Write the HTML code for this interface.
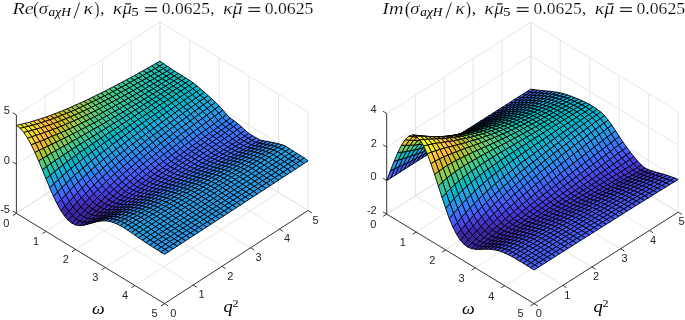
<!DOCTYPE html>
<html><head><meta charset="utf-8"><style>
html,body{margin:0;padding:0;background:#fff;font-family:"Liberation Sans",sans-serif;}
body{width:685px;height:320px;overflow:hidden;position:relative;}
svg{position:absolute;left:0;top:0;will-change:transform;}
</style></head><body>
<svg width="685" height="320" viewBox="0 0 685 320">
<g stroke="#dcdcdc" stroke-width="0.7">
<line x1="16.40" y1="213.30" x2="160.00" y2="120.20"/>
<line x1="16.40" y1="213.30" x2="164.50" y2="303.60"/>
<line x1="160.00" y1="120.20" x2="160.00" y2="21.90"/>
<line x1="16.40" y1="213.30" x2="16.40" y2="115.00"/>
<line x1="46.02" y1="231.36" x2="189.62" y2="138.26"/>
<line x1="45.12" y1="194.68" x2="193.22" y2="284.98"/>
<line x1="189.62" y1="138.26" x2="189.62" y2="39.96"/>
<line x1="45.12" y1="194.68" x2="45.12" y2="96.38"/>
<line x1="75.64" y1="249.42" x2="219.24" y2="156.32"/>
<line x1="73.84" y1="176.06" x2="221.94" y2="266.36"/>
<line x1="219.24" y1="156.32" x2="219.24" y2="58.02"/>
<line x1="73.84" y1="176.06" x2="73.84" y2="77.76"/>
<line x1="105.26" y1="267.48" x2="248.86" y2="174.38"/>
<line x1="102.56" y1="157.44" x2="250.66" y2="247.74"/>
<line x1="248.86" y1="174.38" x2="248.86" y2="76.08"/>
<line x1="102.56" y1="157.44" x2="102.56" y2="59.14"/>
<line x1="134.88" y1="285.54" x2="278.48" y2="192.44"/>
<line x1="131.28" y1="138.82" x2="279.38" y2="229.12"/>
<line x1="278.48" y1="192.44" x2="278.48" y2="94.14"/>
<line x1="131.28" y1="138.82" x2="131.28" y2="40.52"/>
<line x1="164.50" y1="303.60" x2="308.10" y2="210.50"/>
<line x1="160.00" y1="120.20" x2="308.10" y2="210.50"/>
<line x1="308.10" y1="210.50" x2="308.10" y2="112.20"/>
<line x1="160.00" y1="120.20" x2="160.00" y2="21.90"/>
<line x1="16.40" y1="213.30" x2="160.00" y2="120.20"/>
<line x1="160.00" y1="120.20" x2="308.10" y2="210.50"/>
<line x1="16.40" y1="164.15" x2="160.00" y2="71.05"/>
<line x1="160.00" y1="71.05" x2="308.10" y2="161.35"/>
<line x1="16.40" y1="115.00" x2="160.00" y2="21.90"/>
<line x1="160.00" y1="21.90" x2="308.10" y2="112.20"/>
<line x1="386.70" y1="214.10" x2="530.80" y2="122.70"/>
<line x1="386.70" y1="214.10" x2="534.10" y2="303.60"/>
<line x1="530.80" y1="122.70" x2="530.80" y2="22.08"/>
<line x1="386.70" y1="214.10" x2="386.70" y2="113.48"/>
<line x1="416.18" y1="232.00" x2="560.28" y2="140.60"/>
<line x1="415.52" y1="195.82" x2="562.92" y2="285.32"/>
<line x1="560.28" y1="140.60" x2="560.28" y2="39.98"/>
<line x1="415.52" y1="195.82" x2="415.52" y2="95.20"/>
<line x1="445.66" y1="249.90" x2="589.76" y2="158.50"/>
<line x1="444.34" y1="177.54" x2="591.74" y2="267.04"/>
<line x1="589.76" y1="158.50" x2="589.76" y2="57.88"/>
<line x1="444.34" y1="177.54" x2="444.34" y2="76.92"/>
<line x1="475.14" y1="267.80" x2="619.24" y2="176.40"/>
<line x1="473.16" y1="159.26" x2="620.56" y2="248.76"/>
<line x1="619.24" y1="176.40" x2="619.24" y2="75.78"/>
<line x1="473.16" y1="159.26" x2="473.16" y2="58.64"/>
<line x1="504.62" y1="285.70" x2="648.72" y2="194.30"/>
<line x1="501.98" y1="140.98" x2="649.38" y2="230.48"/>
<line x1="648.72" y1="194.30" x2="648.72" y2="93.68"/>
<line x1="501.98" y1="140.98" x2="501.98" y2="40.36"/>
<line x1="534.10" y1="303.60" x2="678.20" y2="212.20"/>
<line x1="530.80" y1="122.70" x2="678.20" y2="212.20"/>
<line x1="678.20" y1="212.20" x2="678.20" y2="111.58"/>
<line x1="530.80" y1="122.70" x2="530.80" y2="22.08"/>
<line x1="386.70" y1="214.10" x2="530.80" y2="122.70"/>
<line x1="530.80" y1="122.70" x2="678.20" y2="212.20"/>
<line x1="386.70" y1="180.56" x2="530.80" y2="89.16"/>
<line x1="530.80" y1="89.16" x2="678.20" y2="178.66"/>
<line x1="386.70" y1="147.02" x2="530.80" y2="55.62"/>
<line x1="530.80" y1="55.62" x2="678.20" y2="145.12"/>
<line x1="386.70" y1="113.48" x2="530.80" y2="22.08"/>
<line x1="530.80" y1="22.08" x2="678.20" y2="111.58"/>
</g>
<g stroke="#000" stroke-width="0.9" stroke-linejoin="round">
<polygon points="155.8,63.5 159.5,66.1 163.7,63.7 160.0,61.1" fill="#19bfb6"/>
<polygon points="159.5,66.1 163.2,68.7 167.4,66.3 163.7,63.7" fill="#19bfb6"/>
<polygon points="151.6,65.9 155.3,68.6 159.5,66.1 155.8,63.5" fill="#24c1ae"/>
<polygon points="163.2,68.7 166.9,71.3 171.1,68.8 167.4,66.3" fill="#0bbdbd"/>
<polygon points="155.3,68.6 159.0,71.2 163.2,68.7 159.5,66.1" fill="#19bfb6"/>
<polygon points="147.3,68.3 151.0,70.9 155.3,68.6 151.6,65.9" fill="#24c1ae"/>
<polygon points="166.9,71.3 170.6,73.7 174.8,71.2 171.1,68.8" fill="#0bbdbd"/>
<polygon points="159.0,71.2 162.7,73.7 166.9,71.3 163.2,68.7" fill="#19bfb6"/>
<polygon points="151.0,70.9 154.7,73.6 159.0,71.2 155.3,68.6" fill="#24c1ae"/>
<polygon points="170.6,73.7 174.3,76.0 178.5,73.5 174.8,71.2" fill="#0bbdbd"/>
<polygon points="143.1,70.7 146.8,73.3 151.0,70.9 147.3,68.3" fill="#24c1ae"/>
<polygon points="162.7,73.7 166.4,76.2 170.6,73.7 166.9,71.3" fill="#19bfb6"/>
<polygon points="154.7,73.6 158.4,76.2 162.7,73.7 159.0,71.2" fill="#19bfb6"/>
<polygon points="174.3,76.0 178.0,78.4 182.2,75.8 178.5,73.5" fill="#0bbdbd"/>
<polygon points="146.8,73.3 150.5,76.0 154.7,73.6 151.0,70.9" fill="#24c1ae"/>
<polygon points="166.4,76.2 170.1,78.6 174.3,76.0 170.6,73.7" fill="#0bbdbd"/>
<polygon points="138.9,73.0 142.6,75.7 146.8,73.3 143.1,70.7" fill="#2cc4a7"/>
<polygon points="158.4,76.2 162.1,78.7 166.4,76.2 162.7,73.7" fill="#19bfb6"/>
<polygon points="150.5,76.0 154.2,78.6 158.4,76.2 154.7,73.6" fill="#24c1ae"/>
<polygon points="178.0,78.4 181.7,80.7 185.9,78.1 182.2,75.8" fill="#0bbdbd"/>
<polygon points="170.1,78.6 173.8,81.0 178.0,78.4 174.3,76.0" fill="#0bbdbd"/>
<polygon points="142.6,75.7 146.3,78.4 150.5,76.0 146.8,73.3" fill="#24c1ae"/>
<polygon points="162.1,78.7 165.8,81.1 170.1,78.6 166.4,76.2" fill="#19bfb6"/>
<polygon points="134.7,75.4 138.4,78.0 142.6,75.7 138.9,73.0" fill="#2cc4a7"/>
<polygon points="154.2,78.6 157.9,81.2 162.1,78.7 158.4,76.2" fill="#19bfb6"/>
<polygon points="181.7,80.7 185.4,83.1 189.6,80.4 185.9,78.1" fill="#0bbdbd"/>
<polygon points="173.8,81.0 177.5,83.3 181.7,80.7 178.0,78.4" fill="#0bbdbd"/>
<polygon points="146.3,78.4 150.0,81.0 154.2,78.6 150.5,76.0" fill="#24c1ae"/>
<polygon points="165.8,81.1 169.5,83.6 173.8,81.0 170.1,78.6" fill="#0bbdbd"/>
<polygon points="138.4,78.0 142.1,80.7 146.3,78.4 142.6,75.7" fill="#2cc4a7"/>
<polygon points="157.9,81.2 161.6,83.7 165.8,81.1 162.1,78.7" fill="#19bfb6"/>
<polygon points="185.4,83.1 189.1,85.7 193.3,83.0 189.6,80.4" fill="#0bbdbd"/>
<polygon points="130.4,77.7 134.1,80.3 138.4,78.0 134.7,75.4" fill="#31c69f"/>
<polygon points="150.0,81.0 153.7,83.7 157.9,81.2 154.2,78.6" fill="#19bfb6"/>
<polygon points="177.5,83.3 181.2,85.8 185.4,83.1 181.7,80.7" fill="#0bbdbd"/>
<polygon points="169.5,83.6 173.2,86.0 177.5,83.3 173.8,81.0" fill="#0bbdbd"/>
<polygon points="142.1,80.7 145.8,83.5 150.0,81.0 146.3,78.4" fill="#24c1ae"/>
<polygon points="189.1,85.7 192.8,88.7 197.0,85.9 193.3,83.0" fill="#02bac3"/>
<polygon points="161.6,83.7 165.3,86.2 169.5,83.6 165.8,81.1" fill="#19bfb6"/>
<polygon points="134.1,80.3 137.8,83.1 142.1,80.7 138.4,78.0" fill="#2cc4a7"/>
<polygon points="153.7,83.7 157.4,86.2 161.6,83.7 157.9,81.2" fill="#19bfb6"/>
<polygon points="181.2,85.8 184.9,88.4 189.1,85.7 185.4,83.1" fill="#0bbdbd"/>
<polygon points="173.2,86.0 176.9,88.5 181.2,85.8 177.5,83.3" fill="#0bbdbd"/>
<polygon points="145.8,83.5 149.5,86.1 153.7,83.7 150.0,81.0" fill="#24c1ae"/>
<polygon points="126.2,79.9 129.9,82.6 134.1,80.3 130.4,77.7" fill="#31c69f"/>
<polygon points="192.8,88.7 196.5,91.9 200.7,89.1 197.0,85.9" fill="#01b8ca"/>
<polygon points="165.3,86.2 169.0,88.7 173.2,86.0 169.5,83.6" fill="#0bbdbd"/>
<polygon points="137.8,83.1 141.5,85.9 145.8,83.5 142.1,80.7" fill="#2cc4a7"/>
<polygon points="184.9,88.4 188.6,91.5 192.8,88.7 189.1,85.7" fill="#02bac3"/>
<polygon points="157.4,86.2 161.1,88.8 165.3,86.2 161.6,83.7" fill="#19bfb6"/>
<polygon points="196.5,91.9 200.2,95.2 204.4,92.3 200.7,89.1" fill="#08b5d0"/>
<polygon points="176.9,88.5 180.7,91.2 184.9,88.4 181.2,85.8" fill="#0bbdbd"/>
<polygon points="129.9,82.6 133.6,85.4 137.8,83.1 134.1,80.3" fill="#31c69f"/>
<polygon points="149.5,86.1 153.2,88.8 157.4,86.2 153.7,83.7" fill="#19bfb6"/>
<polygon points="169.0,88.7 172.7,91.2 176.9,88.5 173.2,86.0" fill="#0bbdbd"/>
<polygon points="188.6,91.5 192.3,94.8 196.5,91.9 192.8,88.7" fill="#01b8ca"/>
<polygon points="141.5,85.9 145.2,88.6 149.5,86.1 145.8,83.5" fill="#24c1ae"/>
<polygon points="122.0,82.2 125.7,84.9 129.9,82.6 126.2,79.9" fill="#37c897"/>
<polygon points="161.1,88.8 164.8,91.3 169.0,88.7 165.3,86.2" fill="#0bbdbd"/>
<polygon points="200.2,95.2 203.9,98.5 208.1,95.6 204.4,92.3" fill="#12b1d6"/>
<polygon points="180.7,91.2 184.4,94.3 188.6,91.5 184.9,88.4" fill="#02bac3"/>
<polygon points="133.6,85.4 137.3,88.3 141.5,85.9 137.8,83.1" fill="#2cc4a7"/>
<polygon points="153.2,88.8 156.9,91.4 161.1,88.8 157.4,86.2" fill="#19bfb6"/>
<polygon points="192.3,94.8 196.0,98.1 200.2,95.2 196.5,91.9" fill="#08b5d0"/>
<polygon points="172.7,91.2 176.4,94.0 180.7,91.2 176.9,88.5" fill="#0bbdbd"/>
<polygon points="145.2,88.6 148.9,91.3 153.2,88.8 149.5,86.1" fill="#24c1ae"/>
<polygon points="125.7,84.9 129.4,87.8 133.6,85.4 129.9,82.6" fill="#31c69f"/>
<polygon points="203.9,98.5 207.6,101.9 211.8,98.9 208.1,95.6" fill="#18addb"/>
<polygon points="164.8,91.3 168.5,93.9 172.7,91.2 169.0,88.7" fill="#0bbdbd"/>
<polygon points="184.4,94.3 188.1,97.6 192.3,94.8 188.6,91.5" fill="#01b8ca"/>
<polygon points="137.3,88.3 141.0,91.1 145.2,88.6 141.5,85.9" fill="#2cc4a7"/>
<polygon points="196.0,98.1 199.7,101.4 203.9,98.5 200.2,95.2" fill="#12b1d6"/>
<polygon points="117.8,84.4 121.5,87.2 125.7,84.9 122.0,82.2" fill="#37c897"/>
<polygon points="156.9,91.4 160.6,94.0 164.8,91.3 161.1,88.8" fill="#19bfb6"/>
<polygon points="207.6,101.9 211.3,105.4 215.5,102.4 211.8,98.9" fill="#1ca9df"/>
<polygon points="176.4,94.0 180.1,97.1 184.4,94.3 180.7,91.2" fill="#02bac3"/>
<polygon points="129.4,87.8 133.1,90.7 137.3,88.3 133.6,85.4" fill="#31c69f"/>
<polygon points="148.9,91.3 152.7,94.0 156.9,91.4 153.2,88.8" fill="#19bfb6"/>
<polygon points="188.1,97.6 191.8,101.0 196.0,98.1 192.3,94.8" fill="#08b5d0"/>
<polygon points="168.5,93.9 172.2,96.8 176.4,94.0 172.7,91.2" fill="#0bbdbd"/>
<polygon points="199.7,101.4 203.4,104.9 207.6,101.9 203.9,98.5" fill="#18addb"/>
<polygon points="141.0,91.1 144.7,93.8 148.9,91.3 145.2,88.6" fill="#24c1ae"/>
<polygon points="211.3,105.4 215.0,109.1 219.2,106.0 215.5,102.4" fill="#20a5e3"/>
<polygon points="121.5,87.2 125.2,90.1 129.4,87.8 125.7,84.9" fill="#37c897"/>
<polygon points="180.1,97.1 183.8,100.5 188.1,97.6 184.4,94.3" fill="#01b8ca"/>
<polygon points="160.6,94.0 164.3,96.7 168.5,93.9 164.8,91.3" fill="#0bbdbd"/>
<polygon points="191.8,101.0 195.5,104.4 199.7,101.4 196.0,98.1" fill="#12b1d6"/>
<polygon points="133.1,90.7 136.8,93.5 141.0,91.1 137.3,88.3" fill="#2cc4a7"/>
<polygon points="152.7,94.0 156.4,96.7 160.6,94.0 156.9,91.4" fill="#19bfb6"/>
<polygon points="203.4,104.9 207.1,108.5 211.3,105.4 207.6,101.9" fill="#1ca9df"/>
<polygon points="113.5,86.7 117.2,89.4 121.5,87.2 117.8,84.4" fill="#3fca8e"/>
<polygon points="215.0,109.1 218.7,113.2 222.9,110.1 219.2,106.0" fill="#259be8"/>
<polygon points="172.2,96.8 175.9,100.0 180.1,97.1 176.4,94.0" fill="#02bac3"/>
<polygon points="183.8,100.5 187.5,104.0 191.8,101.0 188.1,97.6" fill="#08b5d0"/>
<polygon points="144.7,93.8 148.4,96.6 152.7,94.0 148.9,91.3" fill="#19bfb6"/>
<polygon points="125.2,90.1 128.9,93.0 133.1,90.7 129.4,87.8" fill="#31c69f"/>
<polygon points="164.3,96.7 168.0,99.6 172.2,96.8 168.5,93.9" fill="#0bbdbd"/>
<polygon points="195.5,104.4 199.2,107.9 203.4,104.9 199.7,101.4" fill="#18addb"/>
<polygon points="218.7,113.2 222.4,117.6 226.6,114.5 222.9,110.1" fill="#2b91ef"/>
<polygon points="207.1,108.5 210.8,112.2 215.0,109.1 211.3,105.4" fill="#23a0e5"/>
<polygon points="136.8,93.5 140.5,96.4 144.7,93.8 141.0,91.1" fill="#24c1ae"/>
<polygon points="175.9,100.0 179.6,103.4 183.8,100.5 180.1,97.1" fill="#01b8ca"/>
<polygon points="156.4,96.7 160.1,99.4 164.3,96.7 160.6,94.0" fill="#0bbdbd"/>
<polygon points="117.2,89.4 120.9,92.3 125.2,90.1 121.5,87.2" fill="#37c897"/>
<polygon points="187.5,104.0 191.2,107.4 195.5,104.4 191.8,101.0" fill="#12b1d6"/>
<polygon points="222.4,117.6 226.1,121.2 230.3,118.1 226.6,114.5" fill="#2e87f7"/>
<polygon points="199.2,107.9 202.9,111.6 207.1,108.5 203.4,104.9" fill="#20a5e3"/>
<polygon points="210.8,112.2 214.5,116.3 218.7,113.2 215.0,109.1" fill="#259be8"/>
<polygon points="128.9,93.0 132.6,96.0 136.8,93.5 133.1,90.7" fill="#2cc4a7"/>
<polygon points="148.4,96.6 152.1,99.4 156.4,96.7 152.7,94.0" fill="#19bfb6"/>
<polygon points="168.0,99.6 171.7,102.9 175.9,100.0 172.2,96.8" fill="#02bac3"/>
<polygon points="109.3,88.8 113.0,91.6 117.2,89.4 113.5,86.7" fill="#3fca8e"/>
<polygon points="179.6,103.4 183.3,106.9 187.5,104.0 183.8,100.5" fill="#08b5d0"/>
<polygon points="140.5,96.4 144.2,99.2 148.4,96.6 144.7,93.8" fill="#24c1ae"/>
<polygon points="214.5,116.3 218.2,120.7 222.4,117.6 218.7,113.2" fill="#2b91ef"/>
<polygon points="191.2,107.4 194.9,111.0 199.2,107.9 195.5,104.4" fill="#1ca9df"/>
<polygon points="160.1,99.4 163.8,102.4 168.0,99.6 164.3,96.7" fill="#0bbdbd"/>
<polygon points="120.9,92.3 124.6,95.4 128.9,93.0 125.2,90.1" fill="#37c897"/>
<polygon points="226.1,121.2 229.8,124.0 234.1,120.9 230.3,118.1" fill="#327cfc"/>
<polygon points="202.9,111.6 206.6,115.3 210.8,112.2 207.1,108.5" fill="#23a0e5"/>
<polygon points="171.7,102.9 175.4,106.4 179.6,103.4 175.9,100.0" fill="#01b8ca"/>
<polygon points="132.6,96.0 136.3,98.9 140.5,96.4 136.8,93.5" fill="#2cc4a7"/>
<polygon points="152.1,99.4 155.8,102.2 160.1,99.4 156.4,96.7" fill="#0bbdbd"/>
<polygon points="183.3,106.9 187.0,110.4 191.2,107.4 187.5,104.0" fill="#18addb"/>
<polygon points="218.2,120.7 221.9,124.3 226.1,121.2 222.4,117.6" fill="#2f81fa"/>
<polygon points="113.0,91.6 116.7,94.6 120.9,92.3 117.2,89.4" fill="#3fca8e"/>
<polygon points="194.9,111.0 198.6,114.6 202.9,111.6 199.2,107.9" fill="#20a5e3"/>
<polygon points="206.6,115.3 210.3,119.4 214.5,116.3 210.8,112.2" fill="#2797eb"/>
<polygon points="144.2,99.2 147.9,102.0 152.1,99.4 148.4,96.6" fill="#19bfb6"/>
<polygon points="163.8,102.4 167.5,105.8 171.7,102.9 168.0,99.6" fill="#02bac3"/>
<polygon points="124.6,95.4 128.4,98.4 132.6,96.0 128.9,93.0" fill="#31c69f"/>
<polygon points="175.4,106.4 179.1,109.9 183.3,106.9 179.6,103.4" fill="#08b5d0"/>
<polygon points="229.8,124.0 233.5,126.7 237.8,123.6 234.1,120.9" fill="#327cfc"/>
<polygon points="210.3,119.4 214.0,123.8 218.2,120.7 214.5,116.3" fill="#2d8cf3"/>
<polygon points="187.0,110.4 190.7,114.0 194.9,111.0 191.2,107.4" fill="#1ca9df"/>
<polygon points="105.1,91.0 108.8,93.8 113.0,91.6 109.3,88.8" fill="#4acb84"/>
<polygon points="136.3,98.9 140.0,101.8 144.2,99.2 140.5,96.4" fill="#24c1ae"/>
<polygon points="221.9,124.3 225.6,127.1 229.8,124.0 226.1,121.2" fill="#327cfc"/>
<polygon points="198.6,114.6 202.3,118.4 206.6,115.3 202.9,111.6" fill="#23a0e5"/>
<polygon points="155.8,102.2 159.5,105.2 163.8,102.4 160.1,99.4" fill="#0bbdbd"/>
<polygon points="116.7,94.6 120.4,97.7 124.6,95.4 120.9,92.3" fill="#37c897"/>
<polygon points="167.5,105.8 171.2,109.3 175.4,106.4 171.7,102.9" fill="#01b8ca"/>
<polygon points="214.0,123.8 217.7,127.4 221.9,124.3 218.2,120.7" fill="#2f81fa"/>
<polygon points="179.1,109.9 182.8,113.5 187.0,110.4 183.3,106.9" fill="#18addb"/>
<polygon points="147.9,102.0 151.6,104.9 155.8,102.2 152.1,99.4" fill="#0bbdbd"/>
<polygon points="128.4,98.4 132.1,101.4 136.3,98.9 132.6,96.0" fill="#2cc4a7"/>
<polygon points="190.7,114.0 194.4,117.7 198.6,114.6 194.9,111.0" fill="#20a5e3"/>
<polygon points="202.3,118.4 206.0,122.5 210.3,119.4 206.6,115.3" fill="#2797eb"/>
<polygon points="233.5,126.7 237.2,129.7 241.5,126.8 237.8,123.6" fill="#3875fe"/>
<polygon points="108.8,93.8 112.5,96.8 116.7,94.6 113.0,91.6" fill="#3fca8e"/>
<polygon points="159.5,105.2 163.2,108.6 167.5,105.8 163.8,102.4" fill="#02bac3"/>
<polygon points="140.0,101.8 143.7,104.7 147.9,102.0 144.2,99.2" fill="#19bfb6"/>
<polygon points="225.6,127.1 229.3,129.7 233.5,126.7 229.8,124.0" fill="#3875fe"/>
<polygon points="171.2,109.3 174.9,112.9 179.1,109.9 175.4,106.4" fill="#12b1d6"/>
<polygon points="120.4,97.7 124.1,100.8 128.4,98.4 124.6,95.4" fill="#31c69f"/>
<polygon points="206.0,122.5 209.8,126.9 214.0,123.8 210.3,119.4" fill="#2d8cf3"/>
<polygon points="182.8,113.5 186.5,117.1 190.7,114.0 187.0,110.4" fill="#1ca9df"/>
<polygon points="194.4,117.7 198.1,121.5 202.3,118.4 198.6,114.6" fill="#259be8"/>
<polygon points="217.7,127.4 221.4,130.2 225.6,127.1 221.9,124.3" fill="#327cfc"/>
<polygon points="151.6,104.9 155.3,108.1 159.5,105.2 155.8,102.2" fill="#0bbdbd"/>
<polygon points="132.1,101.4 135.8,104.4 140.0,101.8 136.3,98.9" fill="#24c1ae"/>
<polygon points="237.2,129.7 240.9,133.3 245.2,130.4 241.5,126.8" fill="#3e6fff"/>
<polygon points="100.9,93.1 104.6,95.9 108.8,93.8 105.1,91.0" fill="#57cc7a"/>
<polygon points="163.2,108.6 166.9,112.3 171.2,109.3 167.5,105.8" fill="#01b8ca"/>
<polygon points="209.8,126.9 213.5,130.5 217.7,127.4 214.0,123.8" fill="#2f81fa"/>
<polygon points="174.9,112.9 178.6,116.5 182.8,113.5 179.1,109.9" fill="#18addb"/>
<polygon points="112.5,96.8 116.2,100.0 120.4,97.7 116.7,94.6" fill="#3fca8e"/>
<polygon points="186.5,117.1 190.2,120.9 194.4,117.7 190.7,114.0" fill="#23a0e5"/>
<polygon points="198.1,121.5 201.8,125.6 206.0,122.5 202.3,118.4" fill="#2b91ef"/>
<polygon points="143.7,104.7 147.4,107.7 151.6,104.9 147.9,102.0" fill="#0bbdbd"/>
<polygon points="229.3,129.7 233.0,132.7 237.2,129.7 233.5,126.7" fill="#3875fe"/>
<polygon points="124.1,100.8 127.8,103.8 132.1,101.4 128.4,98.4" fill="#2cc4a7"/>
<polygon points="155.3,108.1 159.0,111.5 163.2,108.6 159.5,105.2" fill="#02bac3"/>
<polygon points="221.4,130.2 225.1,132.8 229.3,129.7 225.6,127.1" fill="#3875fe"/>
<polygon points="240.9,133.3 244.6,136.2 248.9,133.4 245.2,130.4" fill="#4269fe"/>
<polygon points="166.9,112.3 170.6,115.9 174.9,112.9 171.2,109.3" fill="#12b1d6"/>
<polygon points="135.8,104.4 139.5,107.4 143.7,104.7 140.0,101.8" fill="#19bfb6"/>
<polygon points="201.8,125.6 205.5,130.0 209.8,126.9 206.0,122.5" fill="#2e87f7"/>
<polygon points="104.6,95.9 108.3,99.0 112.5,96.8 108.8,93.8" fill="#4acb84"/>
<polygon points="178.6,116.5 182.3,120.2 186.5,117.1 182.8,113.5" fill="#20a5e3"/>
<polygon points="190.2,120.9 193.9,124.7 198.1,121.5 194.4,117.7" fill="#259be8"/>
<polygon points="213.5,130.5 217.2,133.2 221.4,130.2 217.7,127.4" fill="#3875fe"/>
<polygon points="116.2,100.0 119.9,103.1 124.1,100.8 120.4,97.7" fill="#37c897"/>
<polygon points="147.4,107.7 151.1,110.9 155.3,108.1 151.6,104.9" fill="#0bbdbd"/>
<polygon points="233.0,132.7 236.7,136.2 240.9,133.3 237.2,129.7" fill="#3e6fff"/>
<polygon points="127.8,103.8 131.5,106.9 135.8,104.4 132.1,101.4" fill="#24c1ae"/>
<polygon points="159.0,111.5 162.7,115.2 166.9,112.3 163.2,108.6" fill="#08b5d0"/>
<polygon points="205.5,130.0 209.2,133.6 213.5,130.5 209.8,126.9" fill="#327cfc"/>
<polygon points="170.6,115.9 174.3,119.6 178.6,116.5 174.9,112.9" fill="#18addb"/>
<polygon points="96.6,95.2 100.3,98.0 104.6,95.9 100.9,93.1" fill="#57cc7a"/>
<polygon points="193.9,124.7 197.6,128.8 201.8,125.6 198.1,121.5" fill="#2b91ef"/>
<polygon points="182.3,120.2 186.0,124.0 190.2,120.9 186.5,117.1" fill="#23a0e5"/>
<polygon points="225.1,132.8 228.8,135.7 233.0,132.7 229.3,129.7" fill="#3875fe"/>
<polygon points="139.5,107.4 143.2,110.4 147.4,107.7 143.7,104.7" fill="#19bfb6"/>
<polygon points="108.3,99.0 112.0,102.2 116.2,100.0 112.5,96.8" fill="#3fca8e"/>
<polygon points="244.6,136.2 248.3,138.4 252.6,135.7 248.9,133.4" fill="#4563fd"/>
<polygon points="119.9,103.1 123.6,106.3 127.8,103.8 124.1,100.8" fill="#31c69f"/>
<polygon points="151.1,110.9 154.8,114.5 159.0,111.5 155.3,108.1" fill="#02bac3"/>
<polygon points="217.2,133.2 220.9,135.8 225.1,132.8 221.4,130.2" fill="#3875fe"/>
<polygon points="162.7,115.2 166.4,119.0 170.6,115.9 166.9,112.3" fill="#12b1d6"/>
<polygon points="236.7,136.2 240.4,139.0 244.6,136.2 240.9,133.3" fill="#4269fe"/>
<polygon points="197.6,128.8 201.3,133.1 205.5,130.0 201.8,125.6" fill="#2e87f7"/>
<polygon points="174.3,119.6 178.0,123.3 182.3,120.2 178.6,116.5" fill="#20a5e3"/>
<polygon points="186.0,124.0 189.7,127.8 193.9,124.7 190.2,120.9" fill="#2797eb"/>
<polygon points="131.5,106.9 135.2,110.0 139.5,107.4 135.8,104.4" fill="#24c1ae"/>
<polygon points="209.2,133.6 212.9,136.3 217.2,133.2 213.5,130.5" fill="#3875fe"/>
<polygon points="100.3,98.0 104.1,101.1 108.3,99.0 104.6,95.9" fill="#57cc7a"/>
<polygon points="228.8,135.7 232.5,139.0 236.7,136.2 233.0,132.7" fill="#3e6fff"/>
<polygon points="143.2,110.4 146.9,113.7 151.1,110.9 147.4,107.7" fill="#0bbdbd"/>
<polygon points="112.0,102.2 115.7,105.5 119.9,103.1 116.2,100.0" fill="#37c897"/>
<polygon points="201.3,133.1 205.0,136.7 209.2,133.6 205.5,130.0" fill="#327cfc"/>
<polygon points="154.8,114.5 158.5,118.2 162.7,115.2 159.0,111.5" fill="#08b5d0"/>
<polygon points="166.4,119.0 170.1,122.7 174.3,119.6 170.6,115.9" fill="#1ca9df"/>
<polygon points="123.6,106.3 127.3,109.5 131.5,106.9 127.8,103.8" fill="#2cc4a7"/>
<polygon points="189.7,127.8 193.4,131.9 197.6,128.8 193.9,124.7" fill="#2b91ef"/>
<polygon points="178.0,123.3 181.7,127.1 186.0,124.0 182.3,120.2" fill="#23a0e5"/>
<polygon points="248.3,138.4 252.0,140.5 256.3,137.9 252.6,135.7" fill="#4563fd"/>
<polygon points="220.9,135.8 224.6,138.6 228.8,135.7 225.1,132.8" fill="#3e6fff"/>
<polygon points="135.2,110.0 138.9,113.2 143.2,110.4 139.5,107.4" fill="#19bfb6"/>
<polygon points="92.4,97.3 96.1,100.1 100.3,98.0 96.6,95.2" fill="#64cd6f"/>
<polygon points="240.4,139.0 244.1,141.0 248.3,138.4 244.6,136.2" fill="#4563fd"/>
<polygon points="212.9,136.3 216.6,138.8 220.9,135.8 217.2,133.2" fill="#3e6fff"/>
<polygon points="104.1,101.1 107.8,104.4 112.0,102.2 108.3,99.0" fill="#4acb84"/>
<polygon points="193.4,131.9 197.1,136.2 201.3,133.1 197.6,128.8" fill="#2e87f7"/>
<polygon points="146.9,113.7 150.6,117.4 154.8,114.5 151.1,110.9" fill="#02bac3"/>
<polygon points="158.5,118.2 162.2,122.0 166.4,119.0 162.7,115.2" fill="#12b1d6"/>
<polygon points="115.7,105.5 119.4,108.8 123.6,106.3 119.9,103.1" fill="#31c69f"/>
<polygon points="170.1,122.7 173.8,126.5 178.0,123.3 174.3,119.6" fill="#20a5e3"/>
<polygon points="232.5,139.0 236.2,141.7 240.4,139.0 236.7,136.2" fill="#4269fe"/>
<polygon points="181.7,127.1 185.5,131.0 189.7,127.8 186.0,124.0" fill="#2797eb"/>
<polygon points="205.0,136.7 208.7,139.3 212.9,136.3 209.2,133.6" fill="#3e6fff"/>
<polygon points="127.3,109.5 131.0,112.7 135.2,110.0 131.5,106.9" fill="#24c1ae"/>
<polygon points="224.6,138.6 228.3,141.8 232.5,139.0 228.8,135.7" fill="#3e6fff"/>
<polygon points="138.9,113.2 142.6,116.6 146.9,113.7 143.2,110.4" fill="#0bbdbd"/>
<polygon points="197.1,136.2 200.8,139.7 205.0,136.7 201.3,133.1" fill="#3875fe"/>
<polygon points="150.6,117.4 154.3,121.2 158.5,118.2 154.8,114.5" fill="#08b5d0"/>
<polygon points="96.1,100.1 99.8,103.3 104.1,101.1 100.3,98.0" fill="#57cc7a"/>
<polygon points="162.2,122.0 165.9,125.8 170.1,122.7 166.4,119.0" fill="#1ca9df"/>
<polygon points="185.5,131.0 189.2,135.1 193.4,131.9 189.7,127.8" fill="#2d8cf3"/>
<polygon points="173.8,126.5 177.5,130.3 181.7,127.1 178.0,123.3" fill="#259be8"/>
<polygon points="107.8,104.4 111.5,107.8 115.7,105.5 112.0,102.2" fill="#3fca8e"/>
<polygon points="252.0,140.5 255.7,142.5 260.0,140.0 256.3,137.9" fill="#4269fe"/>
<polygon points="119.4,108.8 123.1,112.0 127.3,109.5 123.6,106.3" fill="#2cc4a7"/>
<polygon points="216.6,138.8 220.3,141.6 224.6,138.6 220.9,135.8" fill="#3e6fff"/>
<polygon points="244.1,141.0 247.8,143.1 252.0,140.5 248.3,138.4" fill="#4269fe"/>
<polygon points="131.0,112.7 134.7,116.0 138.9,113.2 135.2,110.0" fill="#19bfb6"/>
<polygon points="236.2,141.7 239.9,143.7 244.1,141.0 240.4,139.0" fill="#4563fd"/>
<polygon points="208.7,139.3 212.4,141.8 216.6,138.8 212.9,136.3" fill="#3e6fff"/>
<polygon points="189.2,135.1 192.9,139.3 197.1,136.2 193.4,131.9" fill="#2f81fa"/>
<polygon points="154.3,121.2 158.0,125.1 162.2,122.0 158.5,118.2" fill="#18addb"/>
<polygon points="142.6,116.6 146.3,120.3 150.6,117.4 146.9,113.7" fill="#01b8ca"/>
<polygon points="165.9,125.8 169.6,129.6 173.8,126.5 170.1,122.7" fill="#23a0e5"/>
<polygon points="177.5,130.3 181.2,134.2 185.5,131.0 181.7,127.1" fill="#2b91ef"/>
<polygon points="88.2,99.3 91.9,102.1 96.1,100.1 92.4,97.3" fill="#72cd64"/>
<polygon points="228.3,141.8 232.0,144.4 236.2,141.7 232.5,139.0" fill="#4269fe"/>
<polygon points="200.8,139.7 204.5,142.4 208.7,139.3 205.0,136.7" fill="#3e6fff"/>
<polygon points="99.8,103.3 103.5,106.6 107.8,104.4 104.1,101.1" fill="#57cc7a"/>
<polygon points="111.5,107.8 115.2,111.2 119.4,108.8 115.7,105.5" fill="#37c897"/>
<polygon points="123.1,112.0 126.8,115.3 131.0,112.7 127.3,109.5" fill="#24c1ae"/>
<polygon points="192.9,139.3 196.6,142.8 200.8,139.7 197.1,136.2" fill="#3875fe"/>
<polygon points="220.3,141.6 224.0,144.6 228.3,141.8 224.6,138.6" fill="#4269fe"/>
<polygon points="134.7,116.0 138.4,119.4 142.6,116.6 138.9,113.2" fill="#0bbdbd"/>
<polygon points="158.0,125.1 161.7,128.9 165.9,125.8 162.2,122.0" fill="#1ca9df"/>
<polygon points="181.2,134.2 184.9,138.2 189.2,135.1 185.5,131.0" fill="#2d8cf3"/>
<polygon points="169.6,129.6 173.3,133.5 177.5,130.3 173.8,126.5" fill="#259be8"/>
<polygon points="146.3,120.3 150.0,124.2 154.3,121.2 150.6,117.4" fill="#08b5d0"/>
<polygon points="255.7,142.5 259.4,143.3 263.7,140.8 260.0,140.0" fill="#4269fe"/>
<polygon points="247.8,143.1 251.5,144.9 255.7,142.5 252.0,140.5" fill="#4269fe"/>
<polygon points="212.4,141.8 216.1,144.5 220.3,141.6 216.6,138.8" fill="#3e6fff"/>
<polygon points="91.9,102.1 95.6,105.3 99.8,103.3 96.1,100.1" fill="#64cd6f"/>
<polygon points="103.5,106.6 107.2,110.1 111.5,107.8 107.8,104.4" fill="#3fca8e"/>
<polygon points="115.2,111.2 118.9,114.5 123.1,112.0 119.4,108.8" fill="#2cc4a7"/>
<polygon points="239.9,143.7 243.6,145.7 247.8,143.1 244.1,141.0" fill="#4269fe"/>
<polygon points="184.9,138.2 188.6,142.5 192.9,139.3 189.2,135.1" fill="#2f81fa"/>
<polygon points="204.5,142.4 208.2,144.8 212.4,141.8 208.7,139.3" fill="#3e6fff"/>
<polygon points="126.8,115.3 130.5,118.7 134.7,116.0 131.0,112.7" fill="#19bfb6"/>
<polygon points="161.7,128.9 165.4,132.8 169.6,129.6 165.9,125.8" fill="#23a0e5"/>
<polygon points="150.0,124.2 153.7,128.2 158.0,125.1 154.3,121.2" fill="#18addb"/>
<polygon points="232.0,144.4 235.7,146.3 239.9,143.7 236.2,141.7" fill="#4563fd"/>
<polygon points="173.3,133.5 177.0,137.4 181.2,134.2 177.5,130.3" fill="#2b91ef"/>
<polygon points="138.4,119.4 142.1,123.3 146.3,120.3 142.6,116.6" fill="#01b8ca"/>
<polygon points="196.6,142.8 200.3,145.4 204.5,142.4 200.8,139.7" fill="#3e6fff"/>
<polygon points="224.0,144.6 227.7,147.1 232.0,144.4 228.3,141.8" fill="#4269fe"/>
<polygon points="84.0,101.3 87.7,104.1 91.9,102.1 88.2,99.3" fill="#81cc59"/>
<polygon points="107.2,110.1 110.9,113.6 115.2,111.2 111.5,107.8" fill="#37c897"/>
<polygon points="95.6,105.3 99.3,108.8 103.5,106.6 99.8,103.3" fill="#57cc7a"/>
<polygon points="188.6,142.5 192.3,145.9 196.6,142.8 192.9,139.3" fill="#3875fe"/>
<polygon points="118.9,114.5 122.6,118.0 126.8,115.3 123.1,112.0" fill="#24c1ae"/>
<polygon points="177.0,137.4 180.7,141.4 184.9,138.2 181.2,134.2" fill="#2e87f7"/>
<polygon points="165.4,132.8 169.1,136.7 173.3,133.5 169.6,129.6" fill="#2797eb"/>
<polygon points="216.1,144.5 219.8,147.4 224.0,144.6 220.3,141.6" fill="#4269fe"/>
<polygon points="153.7,128.2 157.5,132.1 161.7,128.9 158.0,125.1" fill="#20a5e3"/>
<polygon points="142.1,123.3 145.8,127.3 150.0,124.2 146.3,120.3" fill="#08b5d0"/>
<polygon points="130.5,118.7 134.2,122.3 138.4,119.4 134.7,116.0" fill="#0bbdbd"/>
<polygon points="208.2,144.8 211.9,147.4 216.1,144.5 212.4,141.8" fill="#4269fe"/>
<polygon points="251.5,144.9 255.2,145.8 259.4,143.3 255.7,142.5" fill="#4269fe"/>
<polygon points="243.6,145.7 247.3,147.4 251.5,144.9 247.8,143.1" fill="#4269fe"/>
<polygon points="180.7,141.4 184.4,145.6 188.6,142.5 184.9,138.2" fill="#327cfc"/>
<polygon points="200.3,145.4 204.0,147.8 208.2,144.8 204.5,142.4" fill="#4269fe"/>
<polygon points="169.1,136.7 172.8,140.6 177.0,137.4 173.3,133.5" fill="#2d8cf3"/>
<polygon points="259.4,143.3 263.1,143.9 267.4,141.4 263.7,140.8" fill="#3e6fff"/>
<polygon points="110.9,113.6 114.6,117.1 118.9,114.5 115.2,111.2" fill="#31c69f"/>
<polygon points="157.5,132.1 161.2,136.0 165.4,132.8 161.7,128.9" fill="#259be8"/>
<polygon points="99.3,108.8 103.0,112.4 107.2,110.1 103.5,106.6" fill="#4acb84"/>
<polygon points="235.7,146.3 239.4,148.2 243.6,145.7 239.9,143.7" fill="#4269fe"/>
<polygon points="145.8,127.3 149.5,131.3 153.7,128.2 150.0,124.2" fill="#18addb"/>
<polygon points="87.7,104.1 91.4,107.4 95.6,105.3 91.9,102.1" fill="#72cd64"/>
<polygon points="122.6,118.0 126.3,121.5 130.5,118.7 126.8,115.3" fill="#19bfb6"/>
<polygon points="134.2,122.3 137.9,126.2 142.1,123.3 138.4,119.4" fill="#01b8ca"/>
<polygon points="227.7,147.1 231.4,148.9 235.7,146.3 232.0,144.4" fill="#4563fd"/>
<polygon points="192.3,145.9 196.0,148.5 200.3,145.4 196.6,142.8" fill="#4269fe"/>
<polygon points="219.8,147.4 223.5,149.8 227.7,147.1 224.0,144.6" fill="#4269fe"/>
<polygon points="184.4,145.6 188.1,149.0 192.3,145.9 188.6,142.5" fill="#3e6fff"/>
<polygon points="172.8,140.6 176.5,144.6 180.7,141.4 177.0,137.4" fill="#2e87f7"/>
<polygon points="161.2,136.0 164.9,139.9 169.1,136.7 165.4,132.8" fill="#2797eb"/>
<polygon points="149.5,131.3 153.2,135.2 157.5,132.1 153.7,128.2" fill="#20a5e3"/>
<polygon points="211.9,147.4 215.6,150.2 219.8,147.4 216.1,144.5" fill="#4269fe"/>
<polygon points="103.0,112.4 106.7,115.9 110.9,113.6 107.2,110.1" fill="#3fca8e"/>
<polygon points="137.9,126.2 141.6,130.3 145.8,127.3 142.1,123.3" fill="#12b1d6"/>
<polygon points="114.6,117.1 118.3,120.6 122.6,118.0 118.9,114.5" fill="#24c1ae"/>
<polygon points="79.8,103.2 83.5,106.1 87.7,104.1 84.0,101.3" fill="#8fcb4e"/>
<polygon points="126.3,121.5 130.0,125.2 134.2,122.3 130.5,118.7" fill="#0bbdbd"/>
<polygon points="91.4,107.4 95.1,110.9 99.3,108.8 95.6,105.3" fill="#64cd6f"/>
<polygon points="204.0,147.8 207.7,150.3 211.9,147.4 208.2,144.8" fill="#4269fe"/>
<polygon points="176.5,144.6 180.2,148.7 184.4,145.6 180.7,141.4" fill="#327cfc"/>
<polygon points="164.9,139.9 168.6,143.9 172.8,140.6 169.1,136.7" fill="#2d8cf3"/>
<polygon points="153.2,135.2 156.9,139.2 161.2,136.0 157.5,132.1" fill="#259be8"/>
<polygon points="196.0,148.5 199.7,150.8 204.0,147.8 200.3,145.4" fill="#4269fe"/>
<polygon points="247.3,147.4 251.0,148.2 255.2,145.8 251.5,144.9" fill="#4269fe"/>
<polygon points="239.4,148.2 243.1,149.9 247.3,147.4 243.6,145.7" fill="#4269fe"/>
<polygon points="141.6,130.3 145.3,134.4 149.5,131.3 145.8,127.3" fill="#1ca9df"/>
<polygon points="231.4,148.9 235.1,150.7 239.4,148.2 235.7,146.3" fill="#4269fe"/>
<polygon points="188.1,149.0 191.8,151.5 196.0,148.5 192.3,145.9" fill="#4269fe"/>
<polygon points="255.2,145.8 258.9,146.4 263.1,143.9 259.4,143.3" fill="#3875fe"/>
<polygon points="130.0,125.2 133.7,129.2 137.9,126.2 134.2,122.3" fill="#01b8ca"/>
<polygon points="106.7,115.9 110.4,119.5 114.6,117.1 110.9,113.6" fill="#31c69f"/>
<polygon points="118.3,120.6 122.0,124.2 126.3,121.5 122.6,118.0" fill="#19bfb6"/>
<polygon points="95.1,110.9 98.8,114.6 103.0,112.4 99.3,108.8" fill="#57cc7a"/>
<polygon points="223.5,149.8 227.2,151.5 231.4,148.9 227.7,147.1" fill="#4563fd"/>
<polygon points="263.1,143.9 266.9,144.7 271.1,142.2 267.4,141.4" fill="#327cfc"/>
<polygon points="83.5,106.1 87.2,109.4 91.4,107.4 87.7,104.1" fill="#81cc59"/>
<polygon points="215.6,150.2 219.3,152.5 223.5,149.8 219.8,147.4" fill="#4269fe"/>
<polygon points="180.2,148.7 183.9,152.1 188.1,149.0 184.4,145.6" fill="#3e6fff"/>
<polygon points="168.6,143.9 172.3,147.9 176.5,144.6 172.8,140.6" fill="#2f81fa"/>
<polygon points="156.9,139.2 160.6,143.2 164.9,139.9 161.2,136.0" fill="#2b91ef"/>
<polygon points="145.3,134.4 149.0,138.4 153.2,135.2 149.5,131.3" fill="#23a0e5"/>
<polygon points="133.7,129.2 137.4,133.4 141.6,130.3 137.9,126.2" fill="#12b1d6"/>
<polygon points="207.7,150.3 211.4,153.0 215.6,150.2 211.9,147.4" fill="#4269fe"/>
<polygon points="122.0,124.2 125.7,128.0 130.0,125.2 126.3,121.5" fill="#0bbdbd"/>
<polygon points="110.4,119.5 114.1,123.2 118.3,120.6 114.6,117.1" fill="#2cc4a7"/>
<polygon points="98.8,114.6 102.5,118.3 106.7,115.9 103.0,112.4" fill="#3fca8e"/>
<polygon points="199.7,150.8 203.4,153.2 207.7,150.3 204.0,147.8" fill="#4269fe"/>
<polygon points="172.3,147.9 176.0,151.9 180.2,148.7 176.5,144.6" fill="#3875fe"/>
<polygon points="75.5,105.1 79.2,108.0 83.5,106.1 79.8,103.2" fill="#8fcb4e"/>
<polygon points="160.6,143.2 164.3,147.1 168.6,143.9 164.9,139.9" fill="#2e87f7"/>
<polygon points="87.2,109.4 90.9,113.0 95.1,110.9 91.4,107.4" fill="#72cd64"/>
<polygon points="149.0,138.4 152.7,142.5 156.9,139.2 153.2,135.2" fill="#2797eb"/>
<polygon points="191.8,151.5 195.5,153.8 199.7,150.8 196.0,148.5" fill="#4269fe"/>
<polygon points="137.4,133.4 141.1,137.6 145.3,134.4 141.6,130.3" fill="#1ca9df"/>
<polygon points="183.9,152.1 187.6,154.6 191.8,151.5 188.1,149.0" fill="#4269fe"/>
<polygon points="235.1,150.7 238.8,152.3 243.1,149.9 239.4,148.2" fill="#4269fe"/>
<polygon points="243.1,149.9 246.8,150.7 251.0,148.2 247.3,147.4" fill="#3e6fff"/>
<polygon points="125.7,128.0 129.4,132.2 133.7,129.2 130.0,125.2" fill="#01b8ca"/>
<polygon points="227.2,151.5 230.9,153.2 235.1,150.7 231.4,148.9" fill="#4269fe"/>
<polygon points="114.1,123.2 117.8,127.0 122.0,124.2 118.3,120.6" fill="#19bfb6"/>
<polygon points="251.0,148.2 254.7,148.9 258.9,146.4 255.2,145.8" fill="#3875fe"/>
<polygon points="102.5,118.3 106.2,122.0 110.4,119.5 106.7,115.9" fill="#37c897"/>
<polygon points="219.3,152.5 223.0,154.1 227.2,151.5 223.5,149.8" fill="#4269fe"/>
<polygon points="164.3,147.1 168.0,151.1 172.3,147.9 168.6,143.9" fill="#327cfc"/>
<polygon points="152.7,142.5 156.4,146.5 160.6,143.2 156.9,139.2" fill="#2b91ef"/>
<polygon points="176.0,151.9 179.7,155.2 183.9,152.1 180.2,148.7" fill="#4269fe"/>
<polygon points="258.9,146.4 262.6,147.2 266.9,144.7 263.1,143.9" fill="#327cfc"/>
<polygon points="141.1,137.6 144.8,141.7 149.0,138.4 145.3,134.4" fill="#23a0e5"/>
<polygon points="90.9,113.0 94.6,116.8 98.8,114.6 95.1,110.9" fill="#57cc7a"/>
<polygon points="211.4,153.0 215.1,155.1 219.3,152.5 215.6,150.2" fill="#4563fd"/>
<polygon points="266.9,144.7 270.6,145.4 274.8,142.9 271.1,142.2" fill="#2e87f7"/>
<polygon points="79.2,108.0 82.9,111.4 87.2,109.4 83.5,106.1" fill="#8fcb4e"/>
<polygon points="129.4,132.2 133.2,136.5 137.4,133.4 133.7,129.2" fill="#12b1d6"/>
<polygon points="203.4,153.2 207.1,155.8 211.4,153.0 207.7,150.3" fill="#4269fe"/>
<polygon points="117.8,127.0 121.5,130.9 125.7,128.0 122.0,124.2" fill="#0bbdbd"/>
<polygon points="168.0,151.1 171.7,155.1 176.0,151.9 172.3,147.9" fill="#3875fe"/>
<polygon points="106.2,122.0 109.9,125.8 114.1,123.2 110.4,119.5" fill="#2cc4a7"/>
<polygon points="156.4,146.5 160.1,150.4 164.3,147.1 160.6,143.2" fill="#2e87f7"/>
<polygon points="144.8,141.7 148.5,145.8 152.7,142.5 149.0,138.4" fill="#2797eb"/>
<polygon points="195.5,153.8 199.2,156.1 203.4,153.2 199.7,150.8" fill="#4269fe"/>
<polygon points="94.6,116.8 98.3,120.6 102.5,118.3 98.8,114.6" fill="#4acb84"/>
<polygon points="133.2,136.5 136.9,140.8 141.1,137.6 137.4,133.4" fill="#1ca9df"/>
<polygon points="187.6,154.6 191.3,156.8 195.5,153.8 191.8,151.5" fill="#4563fd"/>
<polygon points="179.7,155.2 183.4,157.6 187.6,154.6 183.9,152.1" fill="#4563fd"/>
<polygon points="82.9,111.4 86.6,115.0 90.9,113.0 87.2,109.4" fill="#81cc59"/>
<polygon points="71.3,107.0 75.0,109.9 79.2,108.0 75.5,105.1" fill="#9dc943"/>
<polygon points="121.5,130.9 125.2,135.2 129.4,132.2 125.7,128.0" fill="#01b8ca"/>
<polygon points="230.9,153.2 234.6,154.8 238.8,152.3 235.1,150.7" fill="#3e6fff"/>
<polygon points="238.8,152.3 242.6,153.1 246.8,150.7 243.1,149.9" fill="#3e6fff"/>
<polygon points="160.1,150.4 163.8,154.4 168.0,151.1 164.3,147.1" fill="#327cfc"/>
<polygon points="148.5,145.8 152.2,149.8 156.4,146.5 152.7,142.5" fill="#2d8cf3"/>
<polygon points="109.9,125.8 113.6,129.7 117.8,127.0 114.1,123.2" fill="#19bfb6"/>
<polygon points="171.7,155.1 175.4,158.3 179.7,155.2 176.0,151.9" fill="#4269fe"/>
<polygon points="223.0,154.1 226.7,155.8 230.9,153.2 227.2,151.5" fill="#4269fe"/>
<polygon points="136.9,140.8 140.6,145.0 144.8,141.7 141.1,137.6" fill="#259be8"/>
<polygon points="215.1,155.1 218.8,156.7 223.0,154.1 219.3,152.5" fill="#4269fe"/>
<polygon points="246.8,150.7 250.5,151.3 254.7,148.9 251.0,148.2" fill="#3875fe"/>
<polygon points="98.3,120.6 102.0,124.5 106.2,122.0 102.5,118.3" fill="#37c897"/>
<polygon points="207.1,155.8 210.8,157.8 215.1,155.1 211.4,153.0" fill="#4563fd"/>
<polygon points="254.7,148.9 258.4,149.6 262.6,147.2 258.9,146.4" fill="#2f81fa"/>
<polygon points="125.2,135.2 128.9,139.6 133.2,136.5 129.4,132.2" fill="#12b1d6"/>
<polygon points="86.6,115.0 90.3,118.9 94.6,116.8 90.9,113.0" fill="#64cd6f"/>
<polygon points="262.6,147.2 266.3,148.0 270.6,145.4 266.9,144.7" fill="#2e87f7"/>
<polygon points="199.2,156.1 202.9,158.5 207.1,155.8 203.4,153.2" fill="#4269fe"/>
<polygon points="152.2,149.8 155.9,153.8 160.1,150.4 156.4,146.5" fill="#2f81fa"/>
<polygon points="163.8,154.4 167.5,158.3 171.7,155.1 168.0,151.1" fill="#3e6fff"/>
<polygon points="140.6,145.0 144.3,149.1 148.5,145.8 144.8,141.7" fill="#2b91ef"/>
<polygon points="270.6,145.4 274.3,146.4 278.5,143.8 274.8,142.9" fill="#2d8cf3"/>
<polygon points="113.6,129.7 117.3,133.8 121.5,130.9 117.8,127.0" fill="#0bbdbd"/>
<polygon points="75.0,109.9 78.7,113.3 82.9,111.4 79.2,108.0" fill="#9dc943"/>
<polygon points="191.3,156.8 195.0,159.0 199.2,156.1 195.5,153.8" fill="#4563fd"/>
<polygon points="128.9,139.6 132.6,144.0 136.9,140.8 133.2,136.5" fill="#20a5e3"/>
<polygon points="102.0,124.5 105.7,128.4 109.9,125.8 106.2,122.0" fill="#2cc4a7"/>
<polygon points="183.4,157.6 187.1,159.7 191.3,156.8 187.6,154.6" fill="#4563fd"/>
<polygon points="175.4,158.3 179.1,160.7 183.4,157.6 179.7,155.2" fill="#4563fd"/>
<polygon points="90.3,118.9 94.0,122.9 98.3,120.6 94.6,116.8" fill="#4acb84"/>
<polygon points="117.3,133.8 121.0,138.2 125.2,135.2 121.5,130.9" fill="#01b8ca"/>
<polygon points="144.3,149.1 148.0,153.2 152.2,149.8 148.5,145.8" fill="#2e87f7"/>
<polygon points="155.9,153.8 159.6,157.7 163.8,154.4 160.1,150.4" fill="#3875fe"/>
<polygon points="167.5,158.3 171.2,161.4 175.4,158.3 171.7,155.1" fill="#4563fd"/>
<polygon points="132.6,144.0 136.3,148.3 140.6,145.0 136.9,140.8" fill="#259be8"/>
<polygon points="78.7,113.3 82.4,117.0 86.6,115.0 82.9,111.4" fill="#8fcb4e"/>
<polygon points="226.7,155.8 230.4,157.2 234.6,154.8 230.9,153.2" fill="#3e6fff"/>
<polygon points="105.7,128.4 109.4,132.5 113.6,129.7 109.9,125.8" fill="#19bfb6"/>
<polygon points="234.6,154.8 238.3,155.6 242.6,153.1 238.8,152.3" fill="#3e6fff"/>
<polygon points="67.1,108.8 70.8,111.7 75.0,109.9 71.3,107.0" fill="#abc739"/>
<polygon points="218.8,156.7 222.5,158.3 226.7,155.8 223.0,154.1" fill="#4269fe"/>
<polygon points="210.8,157.8 214.6,159.3 218.8,156.7 215.1,155.1" fill="#4269fe"/>
<polygon points="121.0,138.2 124.7,142.8 128.9,139.6 125.2,135.2" fill="#18addb"/>
<polygon points="242.6,153.1 246.3,153.8 250.5,151.3 246.8,150.7" fill="#327cfc"/>
<polygon points="202.9,158.5 206.6,160.5 210.8,157.8 207.1,155.8" fill="#4563fd"/>
<polygon points="94.0,122.9 97.7,126.9 102.0,124.5 98.3,120.6" fill="#3fca8e"/>
<polygon points="148.0,153.2 151.7,157.1 155.9,153.8 152.2,149.8" fill="#327cfc"/>
<polygon points="250.5,151.3 254.2,152.1 258.4,149.6 254.7,148.9" fill="#2f81fa"/>
<polygon points="159.6,157.7 163.3,161.5 167.5,158.3 163.8,154.4" fill="#4269fe"/>
<polygon points="136.3,148.3 140.0,152.5 144.3,149.1 140.6,145.0" fill="#2b91ef"/>
<polygon points="195.0,159.0 198.7,161.3 202.9,158.5 199.2,156.1" fill="#4563fd"/>
<polygon points="258.4,149.6 262.1,150.5 266.3,148.0 262.6,147.2" fill="#2e87f7"/>
<polygon points="109.4,132.5 113.1,136.8 117.3,133.8 113.6,129.7" fill="#02bac3"/>
<polygon points="124.7,142.8 128.4,147.3 132.6,144.0 128.9,139.6" fill="#20a5e3"/>
<polygon points="187.1,159.7 190.8,161.9 195.0,159.0 191.3,156.8" fill="#4563fd"/>
<polygon points="82.4,117.0 86.1,121.0 90.3,118.9 86.6,115.0" fill="#72cd64"/>
<polygon points="266.3,148.0 270.0,149.0 274.3,146.4 270.6,145.4" fill="#2b91ef"/>
<polygon points="179.1,160.7 182.8,162.7 187.1,159.7 183.4,157.6" fill="#4563fd"/>
<polygon points="274.3,146.4 278.0,147.5 282.2,144.8 278.5,143.8" fill="#2797eb"/>
<polygon points="97.7,126.9 101.4,131.1 105.7,128.4 102.0,124.5" fill="#31c69f"/>
<polygon points="171.2,161.4 174.9,163.8 179.1,160.7 175.4,158.3" fill="#465efb"/>
<polygon points="70.8,111.7 74.5,115.1 78.7,113.3 75.0,109.9" fill="#abc739"/>
<polygon points="140.0,152.5 143.7,156.6 148.0,153.2 144.3,149.1" fill="#2e87f7"/>
<polygon points="151.7,157.1 155.4,161.0 159.6,157.7 155.9,153.8" fill="#3875fe"/>
<polygon points="113.1,136.8 116.8,141.3 121.0,138.2 117.3,133.8" fill="#08b5d0"/>
<polygon points="128.4,147.3 132.1,151.6 136.3,148.3 132.6,144.0" fill="#2797eb"/>
<polygon points="163.3,161.5 167.0,164.6 171.2,161.4 167.5,158.3" fill="#4563fd"/>
<polygon points="86.1,121.0 89.8,125.1 94.0,122.9 90.3,118.9" fill="#57cc7a"/>
<polygon points="101.4,131.1 105.1,135.3 109.4,132.5 105.7,128.4" fill="#24c1ae"/>
<polygon points="116.8,141.3 120.5,146.0 124.7,142.8 121.0,138.2" fill="#18addb"/>
<polygon points="222.5,158.3 226.2,159.7 230.4,157.2 226.7,155.8" fill="#3e6fff"/>
<polygon points="230.4,157.2 234.1,158.1 238.3,155.6 234.6,154.8" fill="#3875fe"/>
<polygon points="143.7,156.6 147.4,160.5 151.7,157.1 148.0,153.2" fill="#327cfc"/>
<polygon points="214.6,159.3 218.3,160.8 222.5,158.3 218.8,156.7" fill="#4269fe"/>
<polygon points="206.6,160.5 210.3,161.9 214.6,159.3 210.8,157.8" fill="#4269fe"/>
<polygon points="132.1,151.6 135.8,155.9 140.0,152.5 136.3,148.3" fill="#2d8cf3"/>
<polygon points="155.4,161.0 159.1,164.7 163.3,161.5 159.6,157.7" fill="#4269fe"/>
<polygon points="198.7,161.3 202.4,163.1 206.6,160.5 202.9,158.5" fill="#4563fd"/>
<polygon points="74.5,115.1 78.2,119.0 82.4,117.0 78.7,113.3" fill="#8fcb4e"/>
<polygon points="238.3,155.6 242.0,156.3 246.3,153.8 242.6,153.1" fill="#327cfc"/>
<polygon points="62.9,110.6 66.6,113.4 70.8,111.7 67.1,108.8" fill="#b9c431"/>
<polygon points="89.8,125.1 93.5,129.3 97.7,126.9 94.0,122.9" fill="#3fca8e"/>
<polygon points="190.8,161.9 194.5,164.1 198.7,161.3 195.0,159.0" fill="#4563fd"/>
<polygon points="246.3,153.8 250.0,154.6 254.2,152.1 250.5,151.3" fill="#2f81fa"/>
<polygon points="120.5,146.0 124.2,150.6 128.4,147.3 124.7,142.8" fill="#23a0e5"/>
<polygon points="105.1,135.3 108.9,139.7 113.1,136.8 109.4,132.5" fill="#02bac3"/>
<polygon points="182.8,162.7 186.5,164.8 190.8,161.9 187.1,159.7" fill="#4563fd"/>
<polygon points="254.2,152.1 257.9,153.0 262.1,150.5 258.4,149.6" fill="#2d8cf3"/>
<polygon points="174.9,163.8 178.6,165.7 182.8,162.7 179.1,160.7" fill="#465efb"/>
<polygon points="262.1,150.5 265.8,151.6 270.0,149.0 266.3,148.0" fill="#2b91ef"/>
<polygon points="135.8,155.9 139.5,160.0 143.7,156.6 140.0,152.5" fill="#2f81fa"/>
<polygon points="167.0,164.6 170.7,166.9 174.9,163.8 171.2,161.4" fill="#465efb"/>
<polygon points="147.4,160.5 151.1,164.3 155.4,161.0 151.7,157.1" fill="#3e6fff"/>
<polygon points="270.0,149.0 273.7,150.1 278.0,147.5 274.3,146.4" fill="#2797eb"/>
<polygon points="278.0,147.5 281.7,149.1 285.9,146.3 282.2,144.8" fill="#259be8"/>
<polygon points="78.2,119.0 81.9,123.1 86.1,121.0 82.4,117.0" fill="#81cc59"/>
<polygon points="124.2,150.6 127.9,155.0 132.1,151.6 128.4,147.3" fill="#2797eb"/>
<polygon points="93.5,129.3 97.2,133.7 101.4,131.1 97.7,126.9" fill="#31c69f"/>
<polygon points="108.9,139.7 112.6,144.4 116.8,141.3 113.1,136.8" fill="#08b5d0"/>
<polygon points="159.1,164.7 162.8,167.8 167.0,164.6 163.3,161.5" fill="#465efb"/>
<polygon points="66.6,113.4 70.3,116.9 74.5,115.1 70.8,111.7" fill="#b9c431"/>
<polygon points="139.5,160.0 143.2,164.0 147.4,160.5 143.7,156.6" fill="#3875fe"/>
<polygon points="112.6,144.4 116.3,149.2 120.5,146.0 116.8,141.3" fill="#1ca9df"/>
<polygon points="127.9,155.0 131.6,159.4 135.8,155.9 132.1,151.6" fill="#2e87f7"/>
<polygon points="151.1,164.3 154.8,168.0 159.1,164.7 155.4,161.0" fill="#4563fd"/>
<polygon points="81.9,123.1 85.6,127.3 89.8,125.1 86.1,121.0" fill="#64cd6f"/>
<polygon points="97.2,133.7 100.9,138.1 105.1,135.3 101.4,131.1" fill="#24c1ae"/>
<polygon points="218.3,160.8 222.0,162.2 226.2,159.7 222.5,158.3" fill="#3e6fff"/>
<polygon points="210.3,161.9 214.0,163.3 218.3,160.8 214.6,159.3" fill="#3e6fff"/>
<polygon points="226.2,159.7 229.9,160.5 234.1,158.1 230.4,157.2" fill="#3875fe"/>
<polygon points="202.4,163.1 206.1,164.5 210.3,161.9 206.6,160.5" fill="#4269fe"/>
<polygon points="194.5,164.1 198.2,165.8 202.4,163.1 198.7,161.3" fill="#4563fd"/>
<polygon points="116.3,149.2 120.0,154.0 124.2,150.6 120.5,146.0" fill="#23a0e5"/>
<polygon points="234.1,158.1 237.8,158.8 242.0,156.3 238.3,155.6" fill="#327cfc"/>
<polygon points="186.5,164.8 190.3,166.8 194.5,164.1 190.8,161.9" fill="#4563fd"/>
<polygon points="100.9,138.1 104.6,142.7 108.9,139.7 105.1,135.3" fill="#02bac3"/>
<polygon points="131.6,159.4 135.3,163.5 139.5,160.0 135.8,155.9" fill="#327cfc"/>
<polygon points="178.6,165.7 182.3,167.7 186.5,164.8 182.8,162.7" fill="#4563fd"/>
<polygon points="85.6,127.3 89.3,131.7 93.5,129.3 89.8,125.1" fill="#4acb84"/>
<polygon points="242.0,156.3 245.7,157.2 250.0,154.6 246.3,153.8" fill="#2e87f7"/>
<polygon points="70.3,116.9 74.0,120.9 78.2,119.0 74.5,115.1" fill="#9dc943"/>
<polygon points="143.2,164.0 146.9,167.7 151.1,164.3 147.4,160.5" fill="#4269fe"/>
<polygon points="170.7,166.9 174.4,168.7 178.6,165.7 174.9,163.8" fill="#465efb"/>
<polygon points="162.8,167.8 166.5,169.9 170.7,166.9 167.0,164.6" fill="#4758f8"/>
<polygon points="250.0,154.6 253.7,155.6 257.9,153.0 254.2,152.1" fill="#2d8cf3"/>
<polygon points="120.0,154.0 123.7,158.5 127.9,155.0 124.2,150.6" fill="#2b91ef"/>
<polygon points="58.6,112.3 62.3,115.1 66.6,113.4 62.9,110.6" fill="#d1bf27"/>
<polygon points="281.7,149.1 285.4,151.4 289.6,148.7 285.9,146.3" fill="#23a0e5"/>
<polygon points="257.9,153.0 261.6,154.2 265.8,151.6 262.1,150.5" fill="#2b91ef"/>
<polygon points="154.8,168.0 158.5,170.9 162.8,167.8 159.1,164.7" fill="#465efb"/>
<polygon points="265.8,151.6 269.5,152.8 273.7,150.1 270.0,149.0" fill="#2797eb"/>
<polygon points="104.6,142.7 108.3,147.6 112.6,144.4 108.9,139.7" fill="#08b5d0"/>
<polygon points="273.7,150.1 277.4,151.8 281.7,149.1 278.0,147.5" fill="#259be8"/>
<polygon points="89.3,131.7 93.0,136.3 97.2,133.7 93.5,129.3" fill="#31c69f"/>
<polygon points="135.3,163.5 139.0,167.4 143.2,164.0 139.5,160.0" fill="#3e6fff"/>
<polygon points="74.0,120.9 77.7,125.1 81.9,123.1 78.2,119.0" fill="#8fcb4e"/>
<polygon points="123.7,158.5 127.4,162.9 131.6,159.4 127.9,155.0" fill="#2e87f7"/>
<polygon points="108.3,147.6 112.0,152.6 116.3,149.2 112.6,144.4" fill="#1ca9df"/>
<polygon points="146.9,167.7 150.6,171.3 154.8,168.0 151.1,164.3" fill="#465efb"/>
<polygon points="93.0,136.3 96.7,140.9 100.9,138.1 97.2,133.7" fill="#24c1ae"/>
<polygon points="112.0,152.6 115.7,157.4 120.0,154.0 116.3,149.2" fill="#259be8"/>
<polygon points="62.3,115.1 66.0,118.7 70.3,116.9 66.6,113.4" fill="#c5c22a"/>
<polygon points="77.7,125.1 81.4,129.5 85.6,127.3 81.9,123.1" fill="#72cd64"/>
<polygon points="127.4,162.9 131.1,167.1 135.3,163.5 131.6,159.4" fill="#3875fe"/>
<polygon points="214.0,163.3 217.7,164.6 222.0,162.2 218.3,160.8" fill="#3875fe"/>
<polygon points="198.2,165.8 201.9,167.1 206.1,164.5 202.4,163.1" fill="#4269fe"/>
<polygon points="206.1,164.5 209.8,165.8 214.0,163.3 210.3,161.9" fill="#3e6fff"/>
<polygon points="190.3,166.8 194.0,168.5 198.2,165.8 194.5,164.1" fill="#4563fd"/>
<polygon points="222.0,162.2 225.7,163.0 229.9,160.5 226.2,159.7" fill="#3875fe"/>
<polygon points="139.0,167.4 142.7,171.1 146.9,167.7 143.2,164.0" fill="#4563fd"/>
<polygon points="182.3,167.7 186.0,169.6 190.3,166.8 186.5,164.8" fill="#4563fd"/>
<polygon points="96.7,140.9 100.4,145.7 104.6,142.7 100.9,138.1" fill="#02bac3"/>
<polygon points="174.4,168.7 178.1,170.6 182.3,167.7 178.6,165.7" fill="#465efb"/>
<polygon points="285.4,151.4 289.1,153.8 293.3,151.1 289.6,148.7" fill="#23a0e5"/>
<polygon points="115.7,157.4 119.4,162.0 123.7,158.5 120.0,154.0" fill="#2d8cf3"/>
<polygon points="166.5,169.9 170.2,171.7 174.4,168.7 170.7,166.9" fill="#4758f8"/>
<polygon points="229.9,160.5 233.6,161.3 237.8,158.8 234.1,158.1" fill="#327cfc"/>
<polygon points="158.5,170.9 162.2,173.0 166.5,169.9 162.8,167.8" fill="#4758f8"/>
<polygon points="237.8,158.8 241.5,159.7 245.7,157.2 242.0,156.3" fill="#2e87f7"/>
<polygon points="150.6,171.3 154.3,174.1 158.5,170.9 154.8,168.0" fill="#4758f8"/>
<polygon points="81.4,129.5 85.1,134.1 89.3,131.7 85.6,127.3" fill="#4acb84"/>
<polygon points="277.4,151.8 281.1,154.2 285.4,151.4 281.7,149.1" fill="#23a0e5"/>
<polygon points="245.7,157.2 249.4,158.2 253.7,155.6 250.0,154.6" fill="#2d8cf3"/>
<polygon points="100.4,145.7 104.1,150.8 108.3,147.6 104.6,142.7" fill="#08b5d0"/>
<polygon points="131.1,167.1 134.8,171.0 139.0,167.4 135.3,163.5" fill="#4269fe"/>
<polygon points="253.7,155.6 257.4,156.9 261.6,154.2 257.9,153.0" fill="#2b91ef"/>
<polygon points="66.0,118.7 69.7,122.7 74.0,120.9 70.3,116.9" fill="#b9c431"/>
<polygon points="261.6,154.2 265.3,155.5 269.5,152.8 265.8,151.6" fill="#2797eb"/>
<polygon points="119.4,162.0 123.1,166.5 127.4,162.9 123.7,158.5" fill="#2f81fa"/>
<polygon points="269.5,152.8 273.2,154.6 277.4,151.8 273.7,150.1" fill="#259be8"/>
<polygon points="104.1,150.8 107.8,155.9 112.0,152.6 108.3,147.6" fill="#20a5e3"/>
<polygon points="142.7,171.1 146.4,174.6 150.6,171.3 146.9,167.7" fill="#465efb"/>
<polygon points="54.4,113.9 58.1,116.8 62.3,115.1 58.6,112.3" fill="#dcbd29"/>
<polygon points="85.1,134.1 88.8,138.9 93.0,136.3 89.3,131.7" fill="#37c897"/>
<polygon points="107.8,155.9 111.5,160.9 115.7,157.4 112.0,152.6" fill="#2797eb"/>
<polygon points="123.1,166.5 126.8,170.7 131.1,167.1 127.4,162.9" fill="#3e6fff"/>
<polygon points="69.7,122.7 73.4,127.1 77.7,125.1 74.0,120.9" fill="#9dc943"/>
<polygon points="88.8,138.9 92.5,143.7 96.7,140.9 93.0,136.3" fill="#24c1ae"/>
<polygon points="134.8,171.0 138.5,174.6 142.7,171.1 139.0,167.4" fill="#465efb"/>
<polygon points="289.1,153.8 292.8,156.2 297.0,153.4 293.3,151.1" fill="#23a0e5"/>
<polygon points="111.5,160.9 115.2,165.6 119.4,162.0 115.7,157.4" fill="#2e87f7"/>
<polygon points="186.0,169.6 189.7,171.1 194.0,168.5 190.3,166.8" fill="#4563fd"/>
<polygon points="194.0,168.5 197.7,169.7 201.9,167.1 198.2,165.8" fill="#4269fe"/>
<polygon points="201.9,167.1 205.6,168.4 209.8,165.8 206.1,164.5" fill="#3e6fff"/>
<polygon points="178.1,170.6 181.8,172.4 186.0,169.6 182.3,167.7" fill="#4563fd"/>
<polygon points="209.8,165.8 213.5,167.1 217.7,164.6 214.0,163.3" fill="#3875fe"/>
<polygon points="162.2,173.0 166.0,174.8 170.2,171.7 166.5,169.9" fill="#4758f8"/>
<polygon points="154.3,174.1 158.0,176.2 162.2,173.0 158.5,170.9" fill="#4852f4"/>
<polygon points="170.2,171.7 173.9,173.5 178.1,170.6 174.4,168.7" fill="#465efb"/>
<polygon points="92.5,143.7 96.2,148.8 100.4,145.7 96.7,140.9" fill="#02bac3"/>
<polygon points="217.7,164.6 221.4,165.5 225.7,163.0 222.0,162.2" fill="#327cfc"/>
<polygon points="281.1,154.2 284.8,156.6 289.1,153.8 285.4,151.4" fill="#23a0e5"/>
<polygon points="73.4,127.1 77.1,131.7 81.4,129.5 77.7,125.1" fill="#72cd64"/>
<polygon points="146.4,174.6 150.1,177.3 154.3,174.1 150.6,171.3" fill="#4852f4"/>
<polygon points="58.1,116.8 61.8,120.4 66.0,118.7 62.3,115.1" fill="#d1bf27"/>
<polygon points="126.8,170.7 130.5,174.6 134.8,171.0 131.1,167.1" fill="#4563fd"/>
<polygon points="225.7,163.0 229.4,163.8 233.6,161.3 229.9,160.5" fill="#2f81fa"/>
<polygon points="115.2,165.6 118.9,170.2 123.1,166.5 119.4,162.0" fill="#327cfc"/>
<polygon points="96.2,148.8 99.9,154.1 104.1,150.8 100.4,145.7" fill="#12b1d6"/>
<polygon points="233.6,161.3 237.3,162.2 241.5,159.7 237.8,158.8" fill="#2e87f7"/>
<polygon points="273.2,154.6 276.9,156.9 281.1,154.2 277.4,151.8" fill="#23a0e5"/>
<polygon points="241.5,159.7 245.2,160.8 249.4,158.2 245.7,157.2" fill="#2d8cf3"/>
<polygon points="99.9,154.1 103.6,159.4 107.8,155.9 104.1,150.8" fill="#20a5e3"/>
<polygon points="138.5,174.6 142.2,178.0 146.4,174.6 142.7,171.1" fill="#4758f8"/>
<polygon points="77.1,131.7 80.9,136.5 85.1,134.1 81.4,129.5" fill="#57cc7a"/>
<polygon points="249.4,158.2 253.1,159.5 257.4,156.9 253.7,155.6" fill="#2b91ef"/>
<polygon points="265.3,155.5 269.0,157.3 273.2,154.6 269.5,152.8" fill="#259be8"/>
<polygon points="257.4,156.9 261.1,158.2 265.3,155.5 261.6,154.2" fill="#2797eb"/>
<polygon points="103.6,159.4 107.3,164.5 111.5,160.9 107.8,155.9" fill="#2797eb"/>
<polygon points="118.9,170.2 122.6,174.4 126.8,170.7 123.1,166.5" fill="#4269fe"/>
<polygon points="61.8,120.4 65.5,124.5 69.7,122.7 66.0,118.7" fill="#c5c22a"/>
<polygon points="80.9,136.5 84.6,141.5 88.8,138.9 85.1,134.1" fill="#37c897"/>
<polygon points="130.5,174.6 134.2,178.1 138.5,174.6 134.8,171.0" fill="#465efb"/>
<polygon points="107.3,164.5 111.0,169.3 115.2,165.6 111.5,160.9" fill="#2e87f7"/>
<polygon points="292.8,156.2 296.5,158.5 300.7,155.7 297.0,153.4" fill="#259be8"/>
<polygon points="50.2,115.5 53.9,118.4 58.1,116.8 54.4,113.9" fill="#e6bb2d"/>
<polygon points="84.6,141.5 88.3,146.6 92.5,143.7 88.8,138.9" fill="#24c1ae"/>
<polygon points="284.8,156.6 288.5,159.0 292.8,156.2 289.1,153.8" fill="#259be8"/>
<polygon points="150.1,177.3 153.8,179.3 158.0,176.2 154.3,174.1" fill="#4852f4"/>
<polygon points="158.0,176.2 161.7,177.8 166.0,174.8 162.2,173.0" fill="#4758f8"/>
<polygon points="122.6,174.4 126.3,178.2 130.5,174.6 126.8,170.7" fill="#465efb"/>
<polygon points="65.5,124.5 69.2,129.0 73.4,127.1 69.7,122.7" fill="#abc739"/>
<polygon points="181.8,172.4 185.5,173.8 189.7,171.1 186.0,169.6" fill="#4563fd"/>
<polygon points="111.0,169.3 114.7,173.9 118.9,170.2 115.2,165.6" fill="#3875fe"/>
<polygon points="173.9,173.5 177.6,175.1 181.8,172.4 178.1,170.6" fill="#4563fd"/>
<polygon points="88.3,146.6 92.0,151.9 96.2,148.8 92.5,143.7" fill="#02bac3"/>
<polygon points="166.0,174.8 169.7,176.4 173.9,173.5 170.2,171.7" fill="#465efb"/>
<polygon points="142.2,178.0 145.9,180.6 150.1,177.3 146.4,174.6" fill="#4852f4"/>
<polygon points="189.7,171.1 193.4,172.3 197.7,169.7 194.0,168.5" fill="#4269fe"/>
<polygon points="197.7,169.7 201.4,170.9 205.6,168.4 201.9,167.1" fill="#3e6fff"/>
<polygon points="205.6,168.4 209.3,169.6 213.5,167.1 209.8,165.8" fill="#3875fe"/>
<polygon points="276.9,156.9 280.6,159.4 284.8,156.6 281.1,154.2" fill="#23a0e5"/>
<polygon points="92.0,151.9 95.7,157.4 99.9,154.1 96.2,148.8" fill="#12b1d6"/>
<polygon points="213.5,167.1 217.2,168.0 221.4,165.5 217.7,164.6" fill="#327cfc"/>
<polygon points="134.2,178.1 138.0,181.3 142.2,178.0 138.5,174.6" fill="#4852f4"/>
<polygon points="95.7,157.4 99.4,162.9 103.6,159.4 99.9,154.1" fill="#23a0e5"/>
<polygon points="221.4,165.5 225.1,166.3 229.4,163.8 225.7,163.0" fill="#2f81fa"/>
<polygon points="69.2,129.0 72.9,133.8 77.1,131.7 73.4,127.1" fill="#81cc59"/>
<polygon points="269.0,157.3 272.7,159.7 276.9,156.9 273.2,154.6" fill="#23a0e5"/>
<polygon points="114.7,173.9 118.4,178.1 122.6,174.4 118.9,170.2" fill="#4563fd"/>
<polygon points="99.4,162.9 103.1,168.1 107.3,164.5 103.6,159.4" fill="#2b91ef"/>
<polygon points="229.4,163.8 233.1,164.7 237.3,162.2 233.6,161.3" fill="#2e87f7"/>
<polygon points="237.3,162.2 241.0,163.3 245.2,160.8 241.5,159.7" fill="#2b91ef"/>
<polygon points="53.9,118.4 57.6,122.0 61.8,120.4 58.1,116.8" fill="#dcbd29"/>
<polygon points="261.1,158.2 264.8,160.1 269.0,157.3 265.3,155.5" fill="#259be8"/>
<polygon points="245.2,160.8 248.9,162.2 253.1,159.5 249.4,158.2" fill="#2797eb"/>
<polygon points="253.1,159.5 256.8,161.0 261.1,158.2 257.4,156.9" fill="#2797eb"/>
<polygon points="126.3,178.2 130.0,181.7 134.2,178.1 130.5,174.6" fill="#4758f8"/>
<polygon points="72.9,133.8 76.6,138.9 80.9,136.5 77.1,131.7" fill="#57cc7a"/>
<polygon points="103.1,168.1 106.8,173.1 111.0,169.3 107.3,164.5" fill="#2f81fa"/>
<polygon points="296.5,158.5 300.2,160.7 304.4,157.9 300.7,155.7" fill="#259be8"/>
<polygon points="76.6,138.9 80.3,144.1 84.6,141.5 80.9,136.5" fill="#37c897"/>
<polygon points="288.5,159.0 292.2,161.2 296.5,158.5 292.8,156.2" fill="#259be8"/>
<polygon points="118.4,178.1 122.1,181.9 126.3,178.2 122.6,174.4" fill="#4758f8"/>
<polygon points="106.8,173.1 110.5,177.7 114.7,173.9 111.0,169.3" fill="#3e6fff"/>
<polygon points="80.3,144.1 84.0,149.5 88.3,146.6 84.6,141.5" fill="#24c1ae"/>
<polygon points="145.9,180.6 149.6,182.4 153.8,179.3 150.1,177.3" fill="#484df0"/>
<polygon points="57.6,122.0 61.3,126.2 65.5,124.5 61.8,120.4" fill="#d1bf27"/>
<polygon points="138.0,181.3 141.7,183.8 145.9,180.6 142.2,178.0" fill="#484df0"/>
<polygon points="153.8,179.3 157.5,180.8 161.7,177.8 158.0,176.2" fill="#4852f4"/>
<polygon points="280.6,159.4 284.3,161.7 288.5,159.0 284.8,156.6" fill="#259be8"/>
<polygon points="84.0,149.5 87.7,155.1 92.0,151.9 88.3,146.6" fill="#02bac3"/>
<polygon points="161.7,177.8 165.4,179.3 169.7,176.4 166.0,174.8" fill="#4758f8"/>
<polygon points="169.7,176.4 173.4,177.9 177.6,175.1 173.9,173.5" fill="#465efb"/>
<polygon points="177.6,175.1 181.3,176.4 185.5,173.8 181.8,172.4" fill="#4563fd"/>
<polygon points="87.7,155.1 91.4,160.8 95.7,157.4 92.0,151.9" fill="#18addb"/>
<polygon points="130.0,181.7 133.7,184.7 138.0,181.3 134.2,178.1" fill="#484df0"/>
<polygon points="91.4,160.8 95.1,166.5 99.4,162.9 95.7,157.4" fill="#23a0e5"/>
<polygon points="185.5,173.8 189.2,174.8 193.4,172.3 189.7,171.1" fill="#4269fe"/>
<polygon points="110.5,177.7 114.2,181.9 118.4,178.1 114.7,173.9" fill="#465efb"/>
<polygon points="272.7,159.7 276.4,162.1 280.6,159.4 276.9,156.9" fill="#23a0e5"/>
<polygon points="46.0,117.0 49.7,119.9 53.9,118.4 50.2,115.5" fill="#f0ba36"/>
<polygon points="193.4,172.3 197.1,173.4 201.4,170.9 197.7,169.7" fill="#3e6fff"/>
<polygon points="95.1,166.5 98.8,171.9 103.1,168.1 99.4,162.9" fill="#2d8cf3"/>
<polygon points="201.4,170.9 205.1,172.1 209.3,169.6 205.6,168.4" fill="#3875fe"/>
<polygon points="209.3,169.6 213.0,170.5 217.2,168.0 213.5,167.1" fill="#327cfc"/>
<polygon points="61.3,126.2 65.0,130.9 69.2,129.0 65.5,124.5" fill="#b9c431"/>
<polygon points="122.1,181.9 125.8,185.2 130.0,181.7 126.3,178.2" fill="#4852f4"/>
<polygon points="98.8,171.9 102.5,177.0 106.8,173.1 103.1,168.1" fill="#3875fe"/>
<polygon points="264.8,160.1 268.5,162.5 272.7,159.7 269.0,157.3" fill="#23a0e5"/>
<polygon points="217.2,168.0 220.9,168.8 225.1,166.3 221.4,165.5" fill="#2f81fa"/>
<polygon points="300.2,160.7 303.9,163.6 308.1,160.9 304.4,157.9" fill="#259be8"/>
<polygon points="225.1,166.3 228.8,167.3 233.1,164.7 229.4,163.8" fill="#2d8cf3"/>
<polygon points="256.8,161.0 260.5,162.9 264.8,160.1 261.1,158.2" fill="#259be8"/>
<polygon points="65.0,130.9 68.7,135.9 72.9,133.8 69.2,129.0" fill="#8fcb4e"/>
<polygon points="233.1,164.7 236.8,165.9 241.0,163.3 237.3,162.2" fill="#2b91ef"/>
<polygon points="248.9,162.2 252.6,163.7 256.8,161.0 253.1,159.5" fill="#259be8"/>
<polygon points="241.0,163.3 244.7,164.8 248.9,162.2 245.2,160.8" fill="#2797eb"/>
<polygon points="102.5,177.0 106.2,181.6 110.5,177.7 106.8,173.1" fill="#4563fd"/>
<polygon points="114.2,181.9 117.9,185.6 122.1,181.9 118.4,178.1" fill="#4852f4"/>
<polygon points="292.2,161.2 296.0,163.5 300.2,160.7 296.5,158.5" fill="#259be8"/>
<polygon points="68.7,135.9 72.4,141.2 76.6,138.9 72.9,133.8" fill="#64cd6f"/>
<polygon points="49.7,119.9 53.4,123.6 57.6,122.0 53.9,118.4" fill="#f0ba36"/>
<polygon points="284.3,161.7 288.0,164.0 292.2,161.2 288.5,159.0" fill="#259be8"/>
<polygon points="72.4,141.2 76.1,146.7 80.3,144.1 76.6,138.9" fill="#3fca8e"/>
<polygon points="141.7,183.8 145.4,185.5 149.6,182.4 145.9,180.6" fill="#484df0"/>
<polygon points="133.7,184.7 137.4,187.1 141.7,183.8 138.0,181.3" fill="#4747eb"/>
<polygon points="149.6,182.4 153.3,183.8 157.5,180.8 153.8,179.3" fill="#4852f4"/>
<polygon points="76.1,146.7 79.8,152.4 84.0,149.5 80.3,144.1" fill="#24c1ae"/>
<polygon points="106.2,181.6 109.9,185.8 114.2,181.9 110.5,177.7" fill="#4758f8"/>
<polygon points="87.2,164.3 90.9,170.2 95.1,166.5 91.4,160.8" fill="#259be8"/>
<polygon points="79.8,152.4 83.5,158.3 87.7,155.1 84.0,149.5" fill="#02bac3"/>
<polygon points="83.5,158.3 87.2,164.3 91.4,160.8 87.7,155.1" fill="#18addb"/>
<polygon points="125.8,185.2 129.5,188.2 133.7,184.7 130.0,181.7" fill="#4747eb"/>
<polygon points="276.4,162.1 280.1,164.5 284.3,161.7 280.6,159.4" fill="#259be8"/>
<polygon points="90.9,170.2 94.6,175.8 98.8,171.9 95.1,166.5" fill="#2e87f7"/>
<polygon points="157.5,180.8 161.2,182.2 165.4,179.3 161.7,177.8" fill="#4758f8"/>
<polygon points="165.4,179.3 169.1,180.6 173.4,177.9 169.7,176.4" fill="#465efb"/>
<polygon points="173.4,177.9 177.1,179.1 181.3,176.4 177.6,175.1" fill="#4563fd"/>
<polygon points="94.6,175.8 98.3,180.9 102.5,177.0 98.8,171.9" fill="#3e6fff"/>
<polygon points="117.9,185.6 121.6,188.9 125.8,185.2 122.1,181.9" fill="#4747eb"/>
<polygon points="181.3,176.4 185.0,177.4 189.2,174.8 185.5,173.8" fill="#4269fe"/>
<polygon points="268.5,162.5 272.2,164.9 276.4,162.1 272.7,159.7" fill="#23a0e5"/>
<polygon points="53.4,123.6 57.1,127.9 61.3,126.2 57.6,122.0" fill="#dcbd29"/>
<polygon points="189.2,174.8 192.9,176.0 197.1,173.4 193.4,172.3" fill="#3e6fff"/>
<polygon points="197.1,173.4 200.8,174.6 205.1,172.1 201.4,170.9" fill="#3875fe"/>
<polygon points="98.3,180.9 102.0,185.6 106.2,181.6 102.5,177.0" fill="#465efb"/>
<polygon points="205.1,172.1 208.8,173.0 213.0,170.5 209.3,169.6" fill="#327cfc"/>
<polygon points="109.9,185.8 113.7,189.4 117.9,185.6 114.2,181.9" fill="#484df0"/>
<polygon points="260.5,162.9 264.2,165.2 268.5,162.5 264.8,160.1" fill="#23a0e5"/>
<polygon points="296.0,163.5 299.7,166.4 303.9,163.6 300.2,160.7" fill="#259be8"/>
<polygon points="213.0,170.5 216.7,171.3 220.9,168.8 217.2,168.0" fill="#2e87f7"/>
<polygon points="41.7,118.4 45.4,121.3 49.7,119.9 46.0,117.0" fill="#febe3c"/>
<polygon points="57.1,127.9 60.8,132.7 65.0,130.9 61.3,126.2" fill="#c5c22a"/>
<polygon points="252.6,163.7 256.3,165.6 260.5,162.9 256.8,161.0" fill="#259be8"/>
<polygon points="220.9,168.8 224.6,169.9 228.8,167.3 225.1,166.3" fill="#2d8cf3"/>
<polygon points="244.7,164.8 248.4,166.4 252.6,163.7 248.9,162.2" fill="#259be8"/>
<polygon points="228.8,167.3 232.5,168.6 236.8,165.9 233.1,164.7" fill="#2b91ef"/>
<polygon points="236.8,165.9 240.5,167.5 244.7,164.8 241.0,163.3" fill="#2797eb"/>
<polygon points="288.0,164.0 291.7,166.4 296.0,163.5 292.2,161.2" fill="#259be8"/>
<polygon points="102.0,185.6 105.7,189.8 109.9,185.8 106.2,181.6" fill="#4852f4"/>
<polygon points="129.5,188.2 133.2,190.4 137.4,187.1 133.7,184.7" fill="#4747eb"/>
<polygon points="60.8,132.7 64.5,138.0 68.7,135.9 65.0,130.9" fill="#9dc943"/>
<polygon points="86.7,174.0 90.4,179.7 94.6,175.8 90.9,170.2" fill="#2f81fa"/>
<polygon points="137.4,187.1 141.1,188.7 145.4,185.5 141.7,183.8" fill="#4747eb"/>
<polygon points="83.0,167.9 86.7,174.0 90.9,170.2 87.2,164.3" fill="#2797eb"/>
<polygon points="121.6,188.9 125.3,191.6 129.5,188.2 125.8,185.2" fill="#4741e5"/>
<polygon points="280.1,164.5 283.8,166.8 288.0,164.0 284.3,161.7" fill="#259be8"/>
<polygon points="79.3,161.6 83.0,167.9 87.2,164.3 83.5,158.3" fill="#1ca9df"/>
<polygon points="90.4,179.7 94.1,185.0 98.3,180.9 94.6,175.8" fill="#4269fe"/>
<polygon points="64.5,138.0 68.2,143.6 72.4,141.2 68.7,135.9" fill="#72cd64"/>
<polygon points="145.4,185.5 149.1,186.8 153.3,183.8 149.6,182.4" fill="#484df0"/>
<polygon points="75.6,155.4 79.3,161.6 83.5,158.3 79.8,152.4" fill="#01b8ca"/>
<polygon points="68.2,143.6 71.9,149.4 76.1,146.7 72.4,141.2" fill="#3fca8e"/>
<polygon points="71.9,149.4 75.6,155.4 79.8,152.4 76.1,146.7" fill="#24c1ae"/>
<polygon points="113.7,189.4 117.4,192.5 121.6,188.9 117.9,185.6" fill="#4741e5"/>
<polygon points="153.3,183.8 157.0,185.0 161.2,182.2 157.5,180.8" fill="#4758f8"/>
<polygon points="272.2,164.9 275.9,167.3 280.1,164.5 276.4,162.1" fill="#259be8"/>
<polygon points="94.1,185.0 97.8,189.7 102.0,185.6 98.3,180.9" fill="#4758f8"/>
<polygon points="161.2,182.2 164.9,183.4 169.1,180.6 165.4,179.3" fill="#465efb"/>
<polygon points="45.4,121.3 49.1,125.1 53.4,123.6 49.7,119.9" fill="#f8ba3d"/>
<polygon points="105.7,189.8 109.4,193.3 113.7,189.4 109.9,185.8" fill="#4741e5"/>
<polygon points="169.1,180.6 172.8,181.7 177.1,179.1 173.4,177.9" fill="#4563fd"/>
<polygon points="264.2,165.2 267.9,167.7 272.2,164.9 268.5,162.5" fill="#23a0e5"/>
<polygon points="177.1,179.1 180.8,180.0 185.0,177.4 181.3,176.4" fill="#4269fe"/>
<polygon points="185.0,177.4 188.7,178.5 192.9,176.0 189.2,174.8" fill="#3875fe"/>
<polygon points="192.9,176.0 196.6,177.1 200.8,174.6 197.1,173.4" fill="#327cfc"/>
<polygon points="97.8,189.7 101.5,193.8 105.7,189.8 102.0,185.6" fill="#4747eb"/>
<polygon points="256.3,165.6 260.0,168.0 264.2,165.2 260.5,162.9" fill="#23a0e5"/>
<polygon points="291.7,166.4 295.4,169.1 299.7,166.4 296.0,163.5" fill="#259be8"/>
<polygon points="200.8,174.6 204.5,175.5 208.8,173.0 205.1,172.1" fill="#2f81fa"/>
<polygon points="82.5,177.9 86.2,183.8 90.4,179.7 86.7,174.0" fill="#3875fe"/>
<polygon points="49.1,125.1 52.8,129.5 57.1,127.9 53.4,123.6" fill="#e6bb2d"/>
<polygon points="208.8,173.0 212.5,173.9 216.7,171.3 213.0,170.5" fill="#2e87f7"/>
<polygon points="86.2,183.8 89.9,189.2 94.1,185.0 90.4,179.7" fill="#4563fd"/>
<polygon points="78.8,171.5 82.5,177.9 86.7,174.0 83.0,167.9" fill="#2b91ef"/>
<polygon points="248.4,166.4 252.1,168.4 256.3,165.6 252.6,163.7" fill="#259be8"/>
<polygon points="125.3,191.6 129.0,193.6 133.2,190.4 129.5,188.2" fill="#4741e5"/>
<polygon points="216.7,171.3 220.4,172.4 224.6,169.9 220.9,168.8" fill="#2d8cf3"/>
<polygon points="240.5,167.5 244.2,169.1 248.4,166.4 244.7,164.8" fill="#259be8"/>
<polygon points="117.4,192.5 121.1,195.1 125.3,191.6 121.6,188.9" fill="#463cde"/>
<polygon points="283.8,166.8 287.5,169.2 291.7,166.4 288.0,164.0" fill="#259be8"/>
<polygon points="232.5,168.6 236.2,170.1 240.5,167.5 236.8,165.9" fill="#2797eb"/>
<polygon points="224.6,169.9 228.3,171.2 232.5,168.6 228.8,167.3" fill="#2b91ef"/>
<polygon points="133.2,190.4 136.9,191.8 141.1,188.7 137.4,187.1" fill="#4747eb"/>
<polygon points="75.1,165.0 78.8,171.5 83.0,167.9 79.3,161.6" fill="#20a5e3"/>
<polygon points="109.4,193.3 113.1,196.2 117.4,192.5 113.7,189.4" fill="#463cde"/>
<polygon points="89.9,189.2 93.6,193.9 97.8,189.7 94.1,185.0" fill="#484df0"/>
<polygon points="52.8,129.5 56.6,134.5 60.8,132.7 57.1,127.9" fill="#d1bf27"/>
<polygon points="141.1,188.7 144.8,189.8 149.1,186.8 145.4,185.5" fill="#484df0"/>
<polygon points="71.4,158.5 75.1,165.0 79.3,161.6 75.6,155.4" fill="#01b8ca"/>
<polygon points="275.9,167.3 279.6,169.6 283.8,166.8 280.1,164.5" fill="#259be8"/>
<polygon points="37.5,119.8 41.2,122.7 45.4,121.3 41.7,118.4" fill="#fec338"/>
<polygon points="101.5,193.8 105.2,197.2 109.4,193.3 105.7,189.8" fill="#463cde"/>
<polygon points="67.7,152.1 71.4,158.5 75.6,155.4 71.9,149.4" fill="#24c1ae"/>
<polygon points="149.1,186.8 152.8,187.9 157.0,185.0 153.3,183.8" fill="#4758f8"/>
<polygon points="56.6,134.5 60.3,140.0 64.5,138.0 60.8,132.7" fill="#abc739"/>
<polygon points="64.0,145.9 67.7,152.1 71.9,149.4 68.2,143.6" fill="#4acb84"/>
<polygon points="60.3,140.0 64.0,145.9 68.2,143.6 64.5,138.0" fill="#81cc59"/>
<polygon points="267.9,167.7 271.7,170.1 275.9,167.3 272.2,164.9" fill="#259be8"/>
<polygon points="157.0,185.0 160.7,186.1 164.9,183.4 161.2,182.2" fill="#465efb"/>
<polygon points="93.6,193.9 97.3,197.9 101.5,193.8 97.8,189.7" fill="#4741e5"/>
<polygon points="164.9,183.4 168.6,184.4 172.8,181.7 169.1,180.6" fill="#4563fd"/>
<polygon points="78.2,181.9 81.9,188.0 86.2,183.8 82.5,177.9" fill="#3e6fff"/>
<polygon points="260.0,168.0 263.7,170.4 267.9,167.7 264.2,165.2" fill="#259be8"/>
<polygon points="81.9,188.0 85.7,193.4 89.9,189.2 86.2,183.8" fill="#4758f8"/>
<polygon points="172.8,181.7 176.5,182.6 180.8,180.0 177.1,179.1" fill="#4269fe"/>
<polygon points="74.5,175.3 78.2,181.9 82.5,177.9 78.8,171.5" fill="#2d8cf3"/>
<polygon points="180.8,180.0 184.5,181.0 188.7,178.5 185.0,177.4" fill="#3875fe"/>
<polygon points="85.7,193.4 89.4,198.1 93.6,193.9 89.9,189.2" fill="#4747eb"/>
<polygon points="252.1,168.4 255.8,170.8 260.0,168.0 256.3,165.6" fill="#23a0e5"/>
<polygon points="287.5,169.2 291.2,171.9 295.4,169.1 291.7,166.4" fill="#259be8"/>
<polygon points="41.2,122.7 44.9,126.5 49.1,125.1 45.4,121.3" fill="#febe3c"/>
<polygon points="188.7,178.5 192.4,179.6 196.6,177.1 192.9,176.0" fill="#327cfc"/>
<polygon points="113.1,196.2 116.8,198.6 121.1,195.1 117.4,192.5" fill="#4537d5"/>
<polygon points="121.1,195.1 124.8,196.9 129.0,193.6 125.3,191.6" fill="#463cde"/>
<polygon points="70.8,168.5 74.5,175.3 78.8,171.5 75.1,165.0" fill="#20a5e3"/>
<polygon points="105.2,197.2 108.9,200.0 113.1,196.2 109.4,193.3" fill="#4537d5"/>
<polygon points="196.6,177.1 200.3,178.0 204.5,175.5 200.8,174.6" fill="#2f81fa"/>
<polygon points="97.3,197.9 101.0,201.2 105.2,197.2 101.5,193.8" fill="#4537d5"/>
<polygon points="244.2,169.1 247.9,171.2 252.1,168.4 248.4,166.4" fill="#259be8"/>
<polygon points="129.0,193.6 132.7,194.9 136.9,191.8 133.2,190.4" fill="#4741e5"/>
<polygon points="204.5,175.5 208.2,176.4 212.5,173.9 208.8,173.0" fill="#2e87f7"/>
<polygon points="236.2,170.1 239.9,171.9 244.2,169.1 240.5,167.5" fill="#259be8"/>
<polygon points="279.6,169.6 283.3,172.0 287.5,169.2 283.8,166.8" fill="#259be8"/>
<polygon points="212.5,173.9 216.2,175.0 220.4,172.4 216.7,171.3" fill="#2d8cf3"/>
<polygon points="67.1,161.6 70.8,168.5 75.1,165.0 71.4,158.5" fill="#01b8ca"/>
<polygon points="228.3,171.2 232.0,172.8 236.2,170.1 232.5,168.6" fill="#2797eb"/>
<polygon points="220.4,172.4 224.1,173.8 228.3,171.2 224.6,169.9" fill="#2b91ef"/>
<polygon points="136.9,191.8 140.6,192.8 144.8,189.8 141.1,188.7" fill="#484df0"/>
<polygon points="89.4,198.1 93.1,202.1 97.3,197.9 93.6,193.9" fill="#4537d5"/>
<polygon points="44.9,126.5 48.6,131.1 52.8,129.5 49.1,125.1" fill="#f8ba3d"/>
<polygon points="271.7,170.1 275.4,172.4 279.6,169.6 275.9,167.3" fill="#259be8"/>
<polygon points="77.7,192.3 81.4,197.8 85.7,193.4 81.9,188.0" fill="#484df0"/>
<polygon points="74.0,186.1 77.7,192.3 81.9,188.0 78.2,181.9" fill="#4269fe"/>
<polygon points="63.4,154.9 67.1,161.6 71.4,158.5 67.7,152.1" fill="#24c1ae"/>
<polygon points="144.8,189.8 148.5,190.8 152.8,187.9 149.1,186.8" fill="#4852f4"/>
<polygon points="70.3,179.3 74.0,186.1 78.2,181.9 74.5,175.3" fill="#2f81fa"/>
<polygon points="263.7,170.4 267.4,172.8 271.7,170.1 267.9,167.7" fill="#259be8"/>
<polygon points="81.4,197.8 85.1,202.5 89.4,198.1 85.7,193.4" fill="#463cde"/>
<polygon points="59.7,148.3 63.4,154.9 67.7,152.1 64.0,145.9" fill="#4acb84"/>
<polygon points="48.6,131.1 52.3,136.3 56.6,134.5 52.8,129.5" fill="#dcbd29"/>
<polygon points="152.8,187.9 156.5,188.9 160.7,186.1 157.0,185.0" fill="#465efb"/>
<polygon points="56.0,142.1 59.7,148.3 64.0,145.9 60.3,140.0" fill="#81cc59"/>
<polygon points="52.3,136.3 56.0,142.1 60.3,140.0 56.6,134.5" fill="#b9c431"/>
<polygon points="33.3,121.1 37.0,124.0 41.2,122.7 37.5,119.8" fill="#fccf30"/>
<polygon points="160.7,186.1 164.4,187.0 168.6,184.4 164.9,183.4" fill="#4563fd"/>
<polygon points="255.8,170.8 259.5,173.2 263.7,170.4 260.0,168.0" fill="#259be8"/>
<polygon points="101.0,201.2 104.7,203.7 108.9,200.0 105.2,197.2" fill="#4332cb"/>
<polygon points="108.9,200.0 112.6,202.1 116.8,198.6 113.1,196.2" fill="#4332cb"/>
<polygon points="66.6,172.1 70.3,179.3 74.5,175.3 70.8,168.5" fill="#23a0e5"/>
<polygon points="93.1,202.1 96.8,205.2 101.0,201.2 97.3,197.9" fill="#422ec0"/>
<polygon points="168.6,184.4 172.3,185.2 176.5,182.6 172.8,181.7" fill="#3e6fff"/>
<polygon points="116.8,198.6 120.5,200.2 124.8,196.9 121.1,195.1" fill="#4537d5"/>
<polygon points="85.1,202.5 88.8,206.3 93.1,202.1 89.4,198.1" fill="#422ec0"/>
<polygon points="247.9,171.2 251.6,173.6 255.8,170.8 252.1,168.4" fill="#23a0e5"/>
<polygon points="283.3,172.0 287.0,174.7 291.2,171.9 287.5,169.2" fill="#259be8"/>
<polygon points="176.5,182.6 180.2,183.5 184.5,181.0 180.8,180.0" fill="#3875fe"/>
<polygon points="124.8,196.9 128.5,198.0 132.7,194.9 129.0,193.6" fill="#4741e5"/>
<polygon points="73.5,196.7 77.2,202.3 81.4,197.8 77.7,192.3" fill="#4741e5"/>
<polygon points="184.5,181.0 188.2,182.1 192.4,179.6 188.7,178.5" fill="#327cfc"/>
<polygon points="69.8,190.4 73.5,196.7 77.7,192.3 74.0,186.1" fill="#465efb"/>
<polygon points="62.9,164.9 66.6,172.1 70.8,168.5 67.1,161.6" fill="#08b5d0"/>
<polygon points="192.4,179.6 196.1,180.5 200.3,178.0 196.6,177.1" fill="#2f81fa"/>
<polygon points="239.9,171.9 243.6,173.9 247.9,171.2 244.2,169.1" fill="#259be8"/>
<polygon points="275.4,172.4 279.1,174.8 283.3,172.0 279.6,169.6" fill="#259be8"/>
<polygon points="77.2,202.3 80.9,206.9 85.1,202.5 81.4,197.8" fill="#4332cb"/>
<polygon points="200.3,178.0 204.0,178.9 208.2,176.4 204.5,175.5" fill="#2e87f7"/>
<polygon points="232.0,172.8 235.7,174.6 239.9,171.9 236.2,170.1" fill="#259be8"/>
<polygon points="132.7,194.9 136.4,195.8 140.6,192.8 136.9,191.8" fill="#4747eb"/>
<polygon points="66.1,183.3 69.8,190.4 74.0,186.1 70.3,179.3" fill="#327cfc"/>
<polygon points="224.1,173.8 227.8,175.5 232.0,172.8 228.3,171.2" fill="#2797eb"/>
<polygon points="208.2,176.4 211.9,177.6 216.2,175.0 212.5,173.9" fill="#2b91ef"/>
<polygon points="216.2,175.0 219.9,176.4 224.1,173.8 220.4,172.4" fill="#2b91ef"/>
<polygon points="37.0,124.0 40.7,127.8 44.9,126.5 41.2,122.7" fill="#fec934"/>
<polygon points="267.4,172.8 271.1,175.2 275.4,172.4 271.7,170.1" fill="#259be8"/>
<polygon points="59.2,157.7 62.9,164.9 67.1,161.6 63.4,154.9" fill="#24c1ae"/>
<polygon points="140.6,192.8 144.3,193.6 148.5,190.8 144.8,189.8" fill="#4852f4"/>
<polygon points="88.8,206.3 92.5,209.2 96.8,205.2 93.1,202.1" fill="#402ab4"/>
<polygon points="96.8,205.2 100.5,207.4 104.7,203.7 101.0,201.2" fill="#402ab4"/>
<polygon points="62.4,175.8 66.1,183.3 70.3,179.3 66.6,172.1" fill="#259be8"/>
<polygon points="259.5,173.2 263.2,175.6 267.4,172.8 263.7,170.4" fill="#259be8"/>
<polygon points="80.9,206.9 84.6,210.5 88.8,206.3 85.1,202.5" fill="#3e26a8"/>
<polygon points="148.5,190.8 152.2,191.6 156.5,188.9 152.8,187.9" fill="#465efb"/>
<polygon points="104.7,203.7 108.4,205.5 112.6,202.1 108.9,200.0" fill="#422ec0"/>
<polygon points="69.3,201.3 73.0,206.8 77.2,202.3 73.5,196.7" fill="#4537d5"/>
<polygon points="55.5,150.7 59.2,157.7 63.4,154.9 59.7,148.3" fill="#4acb84"/>
<polygon points="65.6,194.8 69.3,201.3 73.5,196.7 69.8,190.4" fill="#4852f4"/>
<polygon points="40.7,127.8 44.4,132.5 48.6,131.1 44.9,126.5" fill="#febe3c"/>
<polygon points="112.6,202.1 116.3,203.4 120.5,200.2 116.8,198.6" fill="#4332cb"/>
<polygon points="156.5,188.9 160.2,189.6 164.4,187.0 160.7,186.1" fill="#4563fd"/>
<polygon points="251.6,173.6 255.3,176.0 259.5,173.2 255.8,170.8" fill="#259be8"/>
<polygon points="73.0,206.8 76.7,211.4 80.9,206.9 77.2,202.3" fill="#402ab4"/>
<polygon points="51.8,144.1 55.5,150.7 59.7,148.3 56.0,142.1" fill="#8fcb4e"/>
<polygon points="44.4,132.5 48.1,138.0 52.3,136.3 48.6,131.1" fill="#f0ba36"/>
<polygon points="61.9,187.5 65.6,194.8 69.8,190.4 66.1,183.3" fill="#3e6fff"/>
<polygon points="164.4,187.0 168.1,187.7 172.3,185.2 168.6,184.4" fill="#3e6fff"/>
<polygon points="48.1,138.0 51.8,144.1 56.0,142.1 52.3,136.3" fill="#c5c22a"/>
<polygon points="120.5,200.2 124.2,201.1 128.5,198.0 124.8,196.9" fill="#463cde"/>
<polygon points="58.7,168.2 62.4,175.8 66.6,172.1 62.9,164.9" fill="#12b1d6"/>
<polygon points="243.6,173.9 247.4,176.3 251.6,173.6 247.9,171.2" fill="#23a0e5"/>
<polygon points="279.1,174.8 282.8,177.4 287.0,174.7 283.3,172.0" fill="#259be8"/>
<polygon points="172.3,185.2 176.0,186.1 180.2,183.5 176.5,182.6" fill="#3875fe"/>
<polygon points="29.1,122.3 32.8,125.2 37.0,124.0 33.3,121.1" fill="#fad62d"/>
<polygon points="180.2,183.5 183.9,184.6 188.2,182.1 184.5,181.0" fill="#327cfc"/>
<polygon points="235.7,174.6 239.4,176.7 243.6,173.9 239.9,171.9" fill="#259be8"/>
<polygon points="128.5,198.0 132.2,198.7 136.4,195.8 132.7,194.9" fill="#4747eb"/>
<polygon points="188.2,182.1 191.9,183.0 196.1,180.5 192.4,179.6" fill="#2f81fa"/>
<polygon points="84.6,210.5 88.3,213.2 92.5,209.2 88.8,206.3" fill="#3e26a8"/>
<polygon points="271.1,175.2 274.8,177.6 279.1,174.8 275.4,172.4" fill="#259be8"/>
<polygon points="65.1,205.9 68.8,211.5 73.0,206.8 69.3,201.3" fill="#422ec0"/>
<polygon points="76.7,211.4 80.4,214.8 84.6,210.5 80.9,206.9" fill="#3e26a8"/>
<polygon points="227.8,175.5 231.5,177.3 235.7,174.6 232.0,172.8" fill="#259be8"/>
<polygon points="61.4,199.3 65.1,205.9 69.3,201.3 65.6,194.8" fill="#4747eb"/>
<polygon points="92.5,209.2 96.2,211.2 100.5,207.4 96.8,205.2" fill="#3e26a8"/>
<polygon points="196.1,180.5 199.8,181.5 204.0,178.9 200.3,178.0" fill="#2d8cf3"/>
<polygon points="58.2,179.7 61.9,187.5 66.1,183.3 62.4,175.8" fill="#2b91ef"/>
<polygon points="219.9,176.4 223.6,178.2 227.8,175.5 224.1,173.8" fill="#2797eb"/>
<polygon points="55.0,160.5 58.7,168.2 62.9,164.9 59.2,157.7" fill="#24c1ae"/>
<polygon points="204.0,178.9 207.7,180.2 211.9,177.6 208.2,176.4" fill="#2b91ef"/>
<polygon points="211.9,177.6 215.6,179.1 219.9,176.4 216.2,175.0" fill="#2797eb"/>
<polygon points="263.2,175.6 266.9,178.0 271.1,175.2 267.4,172.8" fill="#259be8"/>
<polygon points="68.8,211.5 72.5,215.8 76.7,211.4 73.0,206.8" fill="#3e26a8"/>
<polygon points="136.4,195.8 140.1,196.4 144.3,193.6 140.6,192.8" fill="#4852f4"/>
<polygon points="100.5,207.4 104.2,209.0 108.4,205.5 104.7,203.7" fill="#402ab4"/>
<polygon points="57.6,191.8 61.4,199.3 65.6,194.8 61.9,187.5" fill="#4269fe"/>
<polygon points="255.3,176.0 259.0,178.4 263.2,175.6 259.5,173.2" fill="#259be8"/>
<polygon points="108.4,205.5 112.1,206.7 116.3,203.4 112.6,202.1" fill="#4332cb"/>
<polygon points="144.3,193.6 148.0,194.3 152.2,191.6 148.5,190.8" fill="#465efb"/>
<polygon points="32.8,125.2 36.5,129.1 40.7,127.8 37.0,124.0" fill="#fad62d"/>
<polygon points="51.3,153.1 55.0,160.5 59.2,157.7 55.5,150.7" fill="#57cc7a"/>
<polygon points="60.8,210.6 64.5,216.1 68.8,211.5 65.1,205.9" fill="#3e26a8"/>
<polygon points="54.5,171.6 58.2,179.7 62.4,175.8 58.7,168.2" fill="#12b1d6"/>
<polygon points="247.4,176.3 251.1,178.8 255.3,176.0 251.6,173.6" fill="#259be8"/>
<polygon points="152.2,191.6 155.9,192.2 160.2,189.6 156.5,188.9" fill="#4563fd"/>
<polygon points="57.1,203.9 60.8,210.6 65.1,205.9 61.4,199.3" fill="#463cde"/>
<polygon points="116.3,203.4 120.0,204.2 124.2,201.1 120.5,200.2" fill="#4537d5"/>
<polygon points="72.5,215.8 76.2,219.0 80.4,214.8 76.7,211.4" fill="#3e26a8"/>
<polygon points="80.4,214.8 84.1,217.2 88.3,213.2 84.6,210.5" fill="#3e26a8"/>
<polygon points="160.2,189.6 163.9,190.3 168.1,187.7 164.4,187.0" fill="#3e6fff"/>
<polygon points="47.6,146.1 51.3,153.1 55.5,150.7 51.8,144.1" fill="#9dc943"/>
<polygon points="64.5,216.1 68.2,220.3 72.5,215.8 68.8,211.5" fill="#3e26a8"/>
<polygon points="274.8,177.6 278.5,180.2 282.8,177.4 279.1,174.8" fill="#259be8"/>
<polygon points="239.4,176.7 243.1,179.1 247.4,176.3 243.6,173.9" fill="#23a0e5"/>
<polygon points="53.9,183.6 57.6,191.8 61.9,187.5 58.2,179.7" fill="#2d8cf3"/>
<polygon points="88.3,213.2 92.0,214.9 96.2,211.2 92.5,209.2" fill="#3e26a8"/>
<polygon points="36.5,129.1 40.2,134.0 44.4,132.5 40.7,127.8" fill="#fec934"/>
<polygon points="168.1,187.7 171.8,188.6 176.0,186.1 172.3,185.2" fill="#3875fe"/>
<polygon points="124.2,201.1 127.9,201.6 132.2,198.7 128.5,198.0" fill="#4741e5"/>
<polygon points="43.9,139.7 47.6,146.1 51.8,144.1 48.1,138.0" fill="#d1bf27"/>
<polygon points="53.4,196.2 57.1,203.9 61.4,199.3 57.6,191.8" fill="#465efb"/>
<polygon points="231.5,177.3 235.2,179.5 239.4,176.7 235.7,174.6" fill="#259be8"/>
<polygon points="40.2,134.0 43.9,139.7 48.1,138.0 44.4,132.5" fill="#f8ba3d"/>
<polygon points="176.0,186.1 179.7,187.1 183.9,184.6 180.2,183.5" fill="#2f81fa"/>
<polygon points="266.9,178.0 270.6,180.4 274.8,177.6 271.1,175.2" fill="#259be8"/>
<polygon points="96.2,211.2 99.9,212.4 104.2,209.0 100.5,207.4" fill="#3e26a8"/>
<polygon points="50.8,163.5 54.5,171.6 58.7,168.2 55.0,160.5" fill="#24c1ae"/>
<polygon points="183.9,184.6 187.6,185.5 191.9,183.0 188.2,182.1" fill="#2e87f7"/>
<polygon points="223.6,178.2 227.3,180.1 231.5,177.3 227.8,175.5" fill="#259be8"/>
<polygon points="191.9,183.0 195.6,184.1 199.8,181.5 196.1,180.5" fill="#2d8cf3"/>
<polygon points="215.6,179.1 219.4,180.9 223.6,178.2 219.9,176.4" fill="#259be8"/>
<polygon points="132.2,198.7 135.9,199.2 140.1,196.4 136.4,195.8" fill="#484df0"/>
<polygon points="199.8,181.5 203.5,182.8 207.7,180.2 204.0,178.9" fill="#2b91ef"/>
<polygon points="207.7,180.2 211.4,181.7 215.6,179.1 211.9,177.6" fill="#2797eb"/>
<polygon points="259.0,178.4 262.7,180.8 266.9,178.0 263.2,175.6" fill="#259be8"/>
<polygon points="68.2,220.3 71.9,223.2 76.2,219.0 72.5,215.8" fill="#3e26a8"/>
<polygon points="104.2,209.0 107.9,209.9 112.1,206.7 108.4,205.5" fill="#422ec0"/>
<polygon points="24.8,123.4 28.5,126.3 32.8,125.2 29.1,122.3" fill="#f5e327"/>
<polygon points="50.2,175.1 53.9,183.6 58.2,179.7 54.5,171.6" fill="#18addb"/>
<polygon points="76.2,219.0 79.9,221.1 84.1,217.2 80.4,214.8" fill="#3e26a8"/>
<polygon points="251.1,178.8 254.8,181.2 259.0,178.4 255.3,176.0" fill="#259be8"/>
<polygon points="140.1,196.4 143.8,196.9 148.0,194.3 144.3,193.6" fill="#4758f8"/>
<polygon points="49.7,187.7 53.4,196.2 57.6,191.8 53.9,183.6" fill="#2e87f7"/>
<polygon points="47.1,155.6 50.8,163.5 55.0,160.5 51.3,153.1" fill="#57cc7a"/>
<polygon points="112.1,206.7 115.8,207.2 120.0,204.2 116.3,203.4" fill="#4537d5"/>
<polygon points="84.1,217.2 87.8,218.5 92.0,214.9 88.3,213.2" fill="#3e26a8"/>
<polygon points="243.1,179.1 246.8,181.5 251.1,178.8 247.4,176.3" fill="#259be8"/>
<polygon points="148.0,194.3 151.7,194.8 155.9,192.2 152.2,191.6" fill="#4563fd"/>
<polygon points="270.6,180.4 274.3,182.9 278.5,180.2 274.8,177.6" fill="#259be8"/>
<polygon points="235.2,179.5 238.9,181.9 243.1,179.1 239.4,176.7" fill="#259be8"/>
<polygon points="155.9,192.2 159.6,192.8 163.9,190.3 160.2,189.6" fill="#3e6fff"/>
<polygon points="92.0,214.9 95.7,215.8 99.9,212.4 96.2,211.2" fill="#3e26a8"/>
<polygon points="28.5,126.3 32.3,130.3 36.5,129.1 32.8,125.2" fill="#f7dc2a"/>
<polygon points="120.0,204.2 123.7,204.5 127.9,201.6 124.2,201.1" fill="#4741e5"/>
<polygon points="43.4,148.2 47.1,155.6 51.3,153.1 47.6,146.1" fill="#abc739"/>
<polygon points="46.5,166.5 50.2,175.1 54.5,171.6 50.8,163.5" fill="#24c1ae"/>
<polygon points="227.3,180.1 231.0,182.2 235.2,179.5 231.5,177.3" fill="#259be8"/>
<polygon points="163.9,190.3 167.6,191.1 171.8,188.6 168.1,187.7" fill="#3875fe"/>
<polygon points="262.7,180.8 266.4,183.1 270.6,180.4 266.9,178.0" fill="#259be8"/>
<polygon points="171.8,188.6 175.5,189.6 179.7,187.1 176.0,186.1" fill="#2f81fa"/>
<polygon points="71.9,223.2 75.6,224.9 79.9,221.1 76.2,219.0" fill="#3e26a8"/>
<polygon points="219.4,180.9 223.1,182.8 227.3,180.1 223.6,178.2" fill="#259be8"/>
<polygon points="46.0,178.8 49.7,187.7 53.9,183.6 50.2,175.1" fill="#1ca9df"/>
<polygon points="179.7,187.1 183.4,188.1 187.6,185.5 183.9,184.6" fill="#2e87f7"/>
<polygon points="99.9,212.4 103.6,213.0 107.9,209.9 104.2,209.0" fill="#402ab4"/>
<polygon points="39.7,141.4 43.4,148.2 47.6,146.1 43.9,139.7" fill="#e6bb2d"/>
<polygon points="127.9,201.6 131.6,202.0 135.9,199.2 132.2,198.7" fill="#484df0"/>
<polygon points="211.4,181.7 215.1,183.5 219.4,180.9 215.6,179.1" fill="#259be8"/>
<polygon points="32.3,130.3 36.0,135.4 40.2,134.0 36.5,129.1" fill="#fad62d"/>
<polygon points="254.8,181.2 258.5,183.6 262.7,180.8 259.0,178.4" fill="#259be8"/>
<polygon points="187.6,185.5 191.3,186.6 195.6,184.1 191.9,183.0" fill="#2d8cf3"/>
<polygon points="203.5,182.8 207.2,184.4 211.4,181.7 207.7,180.2" fill="#2797eb"/>
<polygon points="195.6,184.1 199.3,185.4 203.5,182.8 199.8,181.5" fill="#2b91ef"/>
<polygon points="36.0,135.4 39.7,141.4 43.9,139.7 40.2,134.0" fill="#fec338"/>
<polygon points="79.9,221.1 83.6,222.1 87.8,218.5 84.1,217.2" fill="#3e26a8"/>
<polygon points="246.8,181.5 250.5,184.0 254.8,181.2 251.1,178.8" fill="#259be8"/>
<polygon points="135.9,199.2 139.6,199.6 143.8,196.9 140.1,196.4" fill="#4758f8"/>
<polygon points="107.9,209.9 111.6,210.1 115.8,207.2 112.1,206.7" fill="#4332cb"/>
<polygon points="42.8,158.2 46.5,166.5 50.8,163.5 47.1,155.6" fill="#57cc7a"/>
<polygon points="238.9,181.9 242.6,184.3 246.8,181.5 243.1,179.1" fill="#259be8"/>
<polygon points="143.8,196.9 147.5,197.4 151.7,194.8 148.0,194.3" fill="#4563fd"/>
<polygon points="87.8,218.5 91.5,219.1 95.7,215.8 92.0,214.9" fill="#3e26a8"/>
<polygon points="20.6,124.4 24.3,127.3 28.5,126.3 24.8,123.4" fill="#f6ef20"/>
<polygon points="266.4,183.1 270.1,185.7 274.3,182.9 270.6,180.4" fill="#259be8"/>
<polygon points="231.0,182.2 234.7,184.6 238.9,181.9 235.2,179.5" fill="#259be8"/>
<polygon points="42.3,169.7 46.0,178.8 50.2,175.1 46.5,166.5" fill="#19bfb6"/>
<polygon points="115.8,207.2 119.5,207.3 123.7,204.5 120.0,204.2" fill="#4741e5"/>
<polygon points="151.7,194.8 155.4,195.3 159.6,192.8 155.9,192.2" fill="#3e6fff"/>
<polygon points="223.1,182.8 226.8,185.0 231.0,182.2 227.3,180.1" fill="#259be8"/>
<polygon points="258.5,183.6 262.2,185.9 266.4,183.1 262.7,180.8" fill="#259be8"/>
<polygon points="39.1,150.2 42.8,158.2 47.1,155.6 43.4,148.2" fill="#abc739"/>
<polygon points="159.6,192.8 163.3,193.6 167.6,191.1 163.9,190.3" fill="#327cfc"/>
<polygon points="95.7,215.8 99.4,216.1 103.6,213.0 99.9,212.4" fill="#3e26a8"/>
<polygon points="215.1,183.5 218.8,185.5 223.1,182.8 219.4,180.9" fill="#259be8"/>
<polygon points="75.6,224.9 79.3,225.6 83.6,222.1 79.9,221.1" fill="#3e26a8"/>
<polygon points="167.6,191.1 171.3,192.1 175.5,189.6 171.8,188.6" fill="#2f81fa"/>
<polygon points="123.7,204.5 127.4,204.7 131.6,202.0 127.9,201.6" fill="#484df0"/>
<polygon points="250.5,184.0 254.2,186.3 258.5,183.6 254.8,181.2" fill="#259be8"/>
<polygon points="175.5,189.6 179.2,190.6 183.4,188.1 179.7,187.1" fill="#2e87f7"/>
<polygon points="207.2,184.4 210.9,186.2 215.1,183.5 211.4,181.7" fill="#259be8"/>
<polygon points="24.3,127.3 28.0,131.4 32.3,130.3 28.5,126.3" fill="#f5e924"/>
<polygon points="183.4,188.1 187.1,189.2 191.3,186.6 187.6,185.5" fill="#2d8cf3"/>
<polygon points="199.3,185.4 203.0,187.0 207.2,184.4 203.5,182.8" fill="#2797eb"/>
<polygon points="191.3,186.6 195.1,188.0 199.3,185.4 195.6,184.1" fill="#2b91ef"/>
<polygon points="35.4,143.0 39.1,150.2 43.4,148.2 39.7,141.4" fill="#f0ba36"/>
<polygon points="242.6,184.3 246.3,186.7 250.5,184.0 246.8,181.5" fill="#259be8"/>
<polygon points="103.6,213.0 107.3,213.0 111.6,210.1 107.9,209.9" fill="#4332cb"/>
<polygon points="131.6,202.0 135.3,202.2 139.6,199.6 135.9,199.2" fill="#4758f8"/>
<polygon points="38.6,160.8 42.3,169.7 46.5,166.5 42.8,158.2" fill="#57cc7a"/>
<polygon points="83.6,222.1 87.3,222.3 91.5,219.1 87.8,218.5" fill="#3e26a8"/>
<polygon points="28.0,131.4 31.7,136.7 36.0,135.4 32.3,130.3" fill="#f7dc2a"/>
<polygon points="31.7,136.7 35.4,143.0 39.7,141.4 36.0,135.4" fill="#fec934"/>
<polygon points="234.7,184.6 238.4,187.1 242.6,184.3 238.9,181.9" fill="#259be8"/>
<polygon points="139.6,199.6 143.3,199.9 147.5,197.4 143.8,196.9" fill="#4563fd"/>
<polygon points="262.2,185.9 265.9,188.5 270.1,185.7 266.4,183.1" fill="#259be8"/>
<polygon points="226.8,185.0 230.5,187.4 234.7,184.6 231.0,182.2" fill="#259be8"/>
<polygon points="111.6,210.1 115.3,210.1 119.5,207.3 115.8,207.2" fill="#4741e5"/>
<polygon points="147.5,197.4 151.2,197.8 155.4,195.3 151.7,194.8" fill="#3e6fff"/>
<polygon points="91.5,219.1 95.2,219.0 99.4,216.1 95.7,215.8" fill="#3e26a8"/>
<polygon points="218.8,185.5 222.5,187.8 226.8,185.0 223.1,182.8" fill="#259be8"/>
<polygon points="254.2,186.3 257.9,188.7 262.2,185.9 258.5,183.6" fill="#259be8"/>
<polygon points="155.4,195.3 159.1,196.1 163.3,193.6 159.6,192.8" fill="#327cfc"/>
<polygon points="210.9,186.2 214.6,188.3 218.8,185.5 215.1,183.5" fill="#259be8"/>
<polygon points="34.9,152.4 38.6,160.8 42.8,158.2 39.1,150.2" fill="#b9c431"/>
<polygon points="16.4,125.3 20.1,128.3 24.3,127.3 20.6,124.4" fill="#f9fb15"/>
<polygon points="119.5,207.3 123.2,207.3 127.4,204.7 123.7,204.5" fill="#484df0"/>
<polygon points="163.3,193.6 167.0,194.5 171.3,192.1 167.6,191.1" fill="#2f81fa"/>
<polygon points="246.3,186.7 250.0,189.1 254.2,186.3 250.5,184.0" fill="#259be8"/>
<polygon points="203.0,187.0 206.7,188.9 210.9,186.2 207.2,184.4" fill="#259be8"/>
<polygon points="171.3,192.1 175.0,193.1 179.2,190.6 175.5,189.6" fill="#2e87f7"/>
<polygon points="195.1,188.0 198.8,189.7 203.0,187.0 199.3,185.4" fill="#2797eb"/>
<polygon points="179.2,190.6 182.9,191.8 187.1,189.2 183.4,188.1" fill="#2b91ef"/>
<polygon points="187.1,189.2 190.8,190.6 195.1,188.0 191.3,186.6" fill="#2b91ef"/>
<polygon points="99.4,216.1 103.1,215.8 107.3,213.0 103.6,213.0" fill="#4332cb"/>
<polygon points="238.4,187.1 242.1,189.5 246.3,186.7 242.6,184.3" fill="#259be8"/>
<polygon points="79.3,225.6 83.0,225.4 87.3,222.3 83.6,222.1" fill="#3e26a8"/>
<polygon points="127.4,204.7 131.1,204.7 135.3,202.2 131.6,202.0" fill="#4758f8"/>
<polygon points="230.5,187.4 234.2,189.9 238.4,187.1 234.7,184.6" fill="#259be8"/>
<polygon points="31.2,144.7 34.9,152.4 39.1,150.2 35.4,143.0" fill="#f8ba3d"/>
<polygon points="20.1,128.3 23.8,132.5 28.0,131.4 24.3,127.3" fill="#f7f51b"/>
<polygon points="135.3,202.2 139.0,202.4 143.3,199.9 139.6,199.6" fill="#4269fe"/>
<polygon points="257.9,188.7 261.6,191.2 265.9,188.5 262.2,185.9" fill="#259be8"/>
<polygon points="222.5,187.8 226.2,190.2 230.5,187.4 226.8,185.0" fill="#259be8"/>
<polygon points="107.3,213.0 111.0,212.8 115.3,210.1 111.6,210.1" fill="#463cde"/>
<polygon points="27.5,138.0 31.2,144.7 35.4,143.0 31.7,136.7" fill="#fad62d"/>
<polygon points="87.3,222.3 91.0,221.9 95.2,219.0 91.5,219.1" fill="#3e26a8"/>
<polygon points="23.8,132.5 27.5,138.0 31.7,136.7 28.0,131.4" fill="#f5e924"/>
<polygon points="214.6,188.3 218.3,190.5 222.5,187.8 218.8,185.5" fill="#259be8"/>
<polygon points="143.3,199.9 147.0,200.3 151.2,197.8 147.5,197.4" fill="#3875fe"/>
<polygon points="250.0,189.1 253.7,191.5 257.9,188.7 254.2,186.3" fill="#259be8"/>
<polygon points="206.7,188.9 210.4,191.0 214.6,188.3 210.9,186.2" fill="#259be8"/>
<polygon points="151.2,197.8 154.9,198.6 159.1,196.1 155.4,195.3" fill="#327cfc"/>
<polygon points="115.3,210.1 119.0,209.9 123.2,207.3 119.5,207.3" fill="#484df0"/>
<polygon points="242.1,189.5 245.8,191.9 250.0,189.1 246.3,186.7" fill="#259be8"/>
<polygon points="198.8,189.7 202.5,191.6 206.7,188.9 203.0,187.0" fill="#259be8"/>
<polygon points="159.1,196.1 162.8,197.0 167.0,194.5 163.3,193.6" fill="#2e87f7"/>
<polygon points="167.0,194.5 170.8,195.6 175.0,193.1 171.3,192.1" fill="#2d8cf3"/>
<polygon points="190.8,190.6 194.5,192.3 198.8,189.7 195.1,188.0" fill="#2797eb"/>
<polygon points="95.2,219.0 98.9,218.5 103.1,215.8 99.4,216.1" fill="#422ec0"/>
<polygon points="175.0,193.1 178.7,194.3 182.9,191.8 179.2,190.6" fill="#2b91ef"/>
<polygon points="182.9,191.8 186.6,193.2 190.8,190.6 187.1,189.2" fill="#2797eb"/>
<polygon points="234.2,189.9 237.9,192.3 242.1,189.5 238.4,187.1" fill="#259be8"/>
<polygon points="123.2,207.3 126.9,207.2 131.1,204.7 127.4,204.7" fill="#465efb"/>
<polygon points="226.2,190.2 229.9,192.6 234.2,189.9 230.5,187.4" fill="#259be8"/>
<polygon points="253.7,191.5 257.4,194.0 261.6,191.2 257.9,188.7" fill="#259be8"/>
<polygon points="218.3,190.5 222.0,192.9 226.2,190.2 222.5,187.8" fill="#259be8"/>
<polygon points="103.1,215.8 106.8,215.3 111.0,212.8 107.3,213.0" fill="#463cde"/>
<polygon points="131.1,204.7 134.8,204.9 139.0,202.4 135.3,202.2" fill="#4269fe"/>
<polygon points="83.0,225.4 86.7,224.6 91.0,221.9 87.3,222.3" fill="#3e26a8"/>
<polygon points="210.4,191.0 214.1,193.3 218.3,190.5 214.6,188.3" fill="#259be8"/>
<polygon points="245.8,191.9 249.5,194.3 253.7,191.5 250.0,189.1" fill="#259be8"/>
<polygon points="139.0,202.4 142.8,202.8 147.0,200.3 143.3,199.9" fill="#3875fe"/>
<polygon points="202.5,191.6 206.2,193.7 210.4,191.0 206.7,188.9" fill="#259be8"/>
<polygon points="237.9,192.3 241.6,194.7 245.8,191.9 242.1,189.5" fill="#259be8"/>
<polygon points="111.0,212.8 114.7,212.4 119.0,209.9 115.3,210.1" fill="#484df0"/>
<polygon points="147.0,200.3 150.7,201.0 154.9,198.6 151.2,197.8" fill="#327cfc"/>
<polygon points="194.5,192.3 198.2,194.3 202.5,191.6 198.8,189.7" fill="#259be8"/>
<polygon points="154.9,198.6 158.6,199.5 162.8,197.0 159.1,196.1" fill="#2e87f7"/>
<polygon points="91.0,221.9 94.7,221.1 98.9,218.5 95.2,219.0" fill="#422ec0"/>
<polygon points="186.6,193.2 190.3,195.0 194.5,192.3 190.8,190.6" fill="#259be8"/>
<polygon points="162.8,197.0 166.5,198.1 170.8,195.6 167.0,194.5" fill="#2d8cf3"/>
<polygon points="229.9,192.6 233.6,195.0 237.9,192.3 234.2,189.9" fill="#259be8"/>
<polygon points="178.7,194.3 182.4,195.8 186.6,193.2 182.9,191.8" fill="#2797eb"/>
<polygon points="170.8,195.6 174.5,196.9 178.7,194.3 175.0,193.1" fill="#2b91ef"/>
<polygon points="119.0,209.9 122.7,209.7 126.9,207.2 123.2,207.3" fill="#465efb"/>
<polygon points="222.0,192.9 225.7,195.4 229.9,192.6 226.2,190.2" fill="#259be8"/>
<polygon points="249.5,194.3 253.2,196.7 257.4,194.0 253.7,191.5" fill="#259be8"/>
<polygon points="214.1,193.3 217.8,195.7 222.0,192.9 218.3,190.5" fill="#259be8"/>
<polygon points="98.9,218.5 102.6,217.8 106.8,215.3 103.1,215.8" fill="#463cde"/>
<polygon points="126.9,207.2 130.6,207.3 134.8,204.9 131.1,204.7" fill="#4269fe"/>
<polygon points="206.2,193.7 209.9,196.0 214.1,193.3 210.4,191.0" fill="#259be8"/>
<polygon points="241.6,194.7 245.3,197.0 249.5,194.3 245.8,191.9" fill="#259be8"/>
<polygon points="134.8,204.9 138.5,205.2 142.8,202.8 139.0,202.4" fill="#3875fe"/>
<polygon points="198.2,194.3 201.9,196.5 206.2,193.7 202.5,191.6" fill="#259be8"/>
<polygon points="233.6,195.0 237.3,197.4 241.6,194.7 237.9,192.3" fill="#259be8"/>
<polygon points="106.8,215.3 110.5,214.8 114.7,212.4 111.0,212.8" fill="#484df0"/>
<polygon points="190.3,195.0 194.0,197.0 198.2,194.3 194.5,192.3" fill="#259be8"/>
<polygon points="142.8,202.8 146.5,203.5 150.7,201.0 147.0,200.3" fill="#2f81fa"/>
<polygon points="86.7,224.6 90.4,223.5 94.7,221.1 91.0,221.9" fill="#422ec0"/>
<polygon points="225.7,195.4 229.4,197.8 233.6,195.0 229.9,192.6" fill="#259be8"/>
<polygon points="182.4,195.8 186.1,197.7 190.3,195.0 186.6,193.2" fill="#259be8"/>
<polygon points="150.7,201.0 154.4,202.0 158.6,199.5 154.9,198.6" fill="#2e87f7"/>
<polygon points="158.6,199.5 162.3,200.6 166.5,198.1 162.8,197.0" fill="#2d8cf3"/>
<polygon points="174.5,196.9 178.2,198.5 182.4,195.8 178.7,194.3" fill="#2797eb"/>
<polygon points="166.5,198.1 170.2,199.5 174.5,196.9 170.8,195.6" fill="#2b91ef"/>
<polygon points="217.8,195.7 221.5,198.2 225.7,195.4 222.0,192.9" fill="#259be8"/>
<polygon points="114.7,212.4 118.5,212.1 122.7,209.7 119.0,209.9" fill="#465efb"/>
<polygon points="245.3,197.0 249.0,199.5 253.2,196.7 249.5,194.3" fill="#259be8"/>
<polygon points="209.9,196.0 213.6,198.5 217.8,195.7 214.1,193.3" fill="#259be8"/>
<polygon points="94.7,221.1 98.4,220.2 102.6,217.8 98.9,218.5" fill="#4741e5"/>
<polygon points="122.7,209.7 126.4,209.7 130.6,207.3 126.9,207.2" fill="#4269fe"/>
<polygon points="201.9,196.5 205.6,198.8 209.9,196.0 206.2,193.7" fill="#259be8"/>
<polygon points="237.3,197.4 241.0,199.8 245.3,197.0 241.6,194.7" fill="#259be8"/>
<polygon points="194.0,197.0 197.7,199.2 201.9,196.5 198.2,194.3" fill="#259be8"/>
<polygon points="229.4,197.8 233.1,200.2 237.3,197.4 233.6,195.0" fill="#259be8"/>
<polygon points="130.6,207.3 134.3,207.6 138.5,205.2 134.8,204.9" fill="#3875fe"/>
<polygon points="186.1,197.7 189.8,199.8 194.0,197.0 190.3,195.0" fill="#259be8"/>
<polygon points="102.6,217.8 106.3,217.2 110.5,214.8 106.8,215.3" fill="#4852f4"/>
<polygon points="138.5,205.2 142.2,205.9 146.5,203.5 142.8,202.8" fill="#2f81fa"/>
<polygon points="221.5,198.2 225.2,200.6 229.4,197.8 225.7,195.4" fill="#259be8"/>
<polygon points="178.2,198.5 181.9,200.3 186.1,197.7 182.4,195.8" fill="#259be8"/>
<polygon points="146.5,203.5 150.2,204.4 154.4,202.0 150.7,201.0" fill="#2e87f7"/>
<polygon points="170.2,199.5 173.9,201.1 178.2,198.5 174.5,196.9" fill="#2797eb"/>
<polygon points="154.4,202.0 158.1,203.2 162.3,200.6 158.6,199.5" fill="#2b91ef"/>
<polygon points="162.3,200.6 166.0,202.0 170.2,199.5 166.5,198.1" fill="#2b91ef"/>
<polygon points="213.6,198.5 217.3,200.9 221.5,198.2 217.8,195.7" fill="#259be8"/>
<polygon points="110.5,214.8 114.2,214.4 118.5,212.1 114.7,212.4" fill="#465efb"/>
<polygon points="241.0,199.8 244.7,202.2 249.0,199.5 245.3,197.0" fill="#259be8"/>
<polygon points="205.6,198.8 209.3,201.2 213.6,198.5 209.9,196.0" fill="#259be8"/>
<polygon points="90.4,223.5 94.2,222.4 98.4,220.2 94.7,221.1" fill="#4741e5"/>
<polygon points="233.1,200.2 236.8,202.6 241.0,199.8 237.3,197.4" fill="#259be8"/>
<polygon points="197.7,199.2 201.4,201.6 205.6,198.8 201.9,196.5" fill="#259be8"/>
<polygon points="118.5,212.1 122.2,212.0 126.4,209.7 122.7,209.7" fill="#3e6fff"/>
<polygon points="189.8,199.8 193.5,202.0 197.7,199.2 194.0,197.0" fill="#259be8"/>
<polygon points="225.2,200.6 228.9,203.0 233.1,200.2 229.4,197.8" fill="#259be8"/>
<polygon points="126.4,209.7 130.1,210.0 134.3,207.6 130.6,207.3" fill="#327cfc"/>
<polygon points="181.9,200.3 185.6,202.5 189.8,199.8 186.1,197.7" fill="#259be8"/>
<polygon points="217.3,200.9 221.0,203.3 225.2,200.6 221.5,198.2" fill="#259be8"/>
<polygon points="98.4,220.2 102.1,219.4 106.3,217.2 102.6,217.8" fill="#4852f4"/>
<polygon points="173.9,201.1 177.6,203.0 181.9,200.3 178.2,198.5" fill="#259be8"/>
<polygon points="134.3,207.6 138.0,208.3 142.2,205.9 138.5,205.2" fill="#2f81fa"/>
<polygon points="166.0,202.0 169.7,203.7 173.9,201.1 170.2,199.5" fill="#2797eb"/>
<polygon points="142.2,205.9 145.9,206.9 150.2,204.4 146.5,203.5" fill="#2d8cf3"/>
<polygon points="158.1,203.2 161.8,204.6 166.0,202.0 162.3,200.6" fill="#2797eb"/>
<polygon points="150.2,204.4 153.9,205.7 158.1,203.2 154.4,202.0" fill="#2b91ef"/>
<polygon points="209.3,201.2 213.0,203.7 217.3,200.9 213.6,198.5" fill="#259be8"/>
<polygon points="236.8,202.6 240.5,205.0 244.7,202.2 241.0,199.8" fill="#259be8"/>
<polygon points="201.4,201.6 205.1,204.0 209.3,201.2 205.6,198.8" fill="#259be8"/>
<polygon points="106.3,217.2 110.0,216.7 114.2,214.4 110.5,214.8" fill="#4563fd"/>
<polygon points="228.9,203.0 232.6,205.3 236.8,202.6 233.1,200.2" fill="#259be8"/>
<polygon points="193.5,202.0 197.2,204.3 201.4,201.6 197.7,199.2" fill="#259be8"/>
<polygon points="114.2,214.4 117.9,214.3 122.2,212.0 118.5,212.1" fill="#3e6fff"/>
<polygon points="185.6,202.5 189.3,204.7 193.5,202.0 189.8,199.8" fill="#259be8"/>
<polygon points="221.0,203.3 224.7,205.7 228.9,203.0 225.2,200.6" fill="#259be8"/>
<polygon points="177.6,203.0 181.3,205.2 185.6,202.5 181.9,200.3" fill="#259be8"/>
<polygon points="122.2,212.0 125.9,212.3 130.1,210.0 126.4,209.7" fill="#327cfc"/>
<polygon points="213.0,203.7 216.7,206.1 221.0,203.3 217.3,200.9" fill="#259be8"/>
<polygon points="169.7,203.7 173.4,205.7 177.6,203.0 173.9,201.1" fill="#259be8"/>
<polygon points="130.1,210.0 133.8,210.7 138.0,208.3 134.3,207.6" fill="#2e87f7"/>
<polygon points="94.2,222.4 97.9,221.5 102.1,219.4 98.4,220.2" fill="#4758f8"/>
<polygon points="161.8,204.6 165.5,206.3 169.7,203.7 166.0,202.0" fill="#259be8"/>
<polygon points="205.1,204.0 208.8,206.5 213.0,203.7 209.3,201.2" fill="#259be8"/>
<polygon points="138.0,208.3 141.7,209.3 145.9,206.9 142.2,205.9" fill="#2d8cf3"/>
<polygon points="153.9,205.7 157.6,207.2 161.8,204.6 158.1,203.2" fill="#2797eb"/>
<polygon points="145.9,206.9 149.6,208.2 153.9,205.7 150.2,204.4" fill="#2b91ef"/>
<polygon points="232.6,205.3 236.3,207.7 240.5,205.0 236.8,202.6" fill="#259be8"/>
<polygon points="197.2,204.3 200.9,206.8 205.1,204.0 201.4,201.6" fill="#259be8"/>
<polygon points="102.1,219.4 105.8,218.8 110.0,216.7 106.3,217.2" fill="#4563fd"/>
<polygon points="224.7,205.7 228.4,208.1 232.6,205.3 228.9,203.0" fill="#259be8"/>
<polygon points="189.3,204.7 193.0,207.1 197.2,204.3 193.5,202.0" fill="#259be8"/>
<polygon points="181.3,205.2 185.0,207.4 189.3,204.7 185.6,202.5" fill="#259be8"/>
<polygon points="216.7,206.1 220.4,208.5 224.7,205.7 221.0,203.3" fill="#259be8"/>
<polygon points="110.0,216.7 113.7,216.5 117.9,214.3 114.2,214.4" fill="#3875fe"/>
<polygon points="173.4,205.7 177.1,207.9 181.3,205.2 177.6,203.0" fill="#259be8"/>
<polygon points="208.8,206.5 212.5,208.9 216.7,206.1 213.0,203.7" fill="#259be8"/>
<polygon points="117.9,214.3 121.6,214.6 125.9,212.3 122.2,212.0" fill="#2f81fa"/>
<polygon points="165.5,206.3 169.2,208.4 173.4,205.7 169.7,203.7" fill="#259be8"/>
<polygon points="200.9,206.8 204.6,209.2 208.8,206.5 205.1,204.0" fill="#259be8"/>
<polygon points="157.6,207.2 161.3,209.0 165.5,206.3 161.8,204.6" fill="#259be8"/>
<polygon points="125.9,212.3 129.6,213.0 133.8,210.7 130.1,210.0" fill="#2e87f7"/>
<polygon points="149.6,208.2 153.3,209.7 157.6,207.2 153.9,205.7" fill="#2797eb"/>
<polygon points="133.8,210.7 137.5,211.7 141.7,209.3 138.0,208.3" fill="#2b91ef"/>
<polygon points="141.7,209.3 145.4,210.6 149.6,208.2 145.9,206.9" fill="#2797eb"/>
<polygon points="228.4,208.1 232.1,210.5 236.3,207.7 232.6,205.3" fill="#2797eb"/>
<polygon points="193.0,207.1 196.7,209.5 200.9,206.8 197.2,204.3" fill="#259be8"/>
<polygon points="220.4,208.5 224.2,210.9 228.4,208.1 224.7,205.7" fill="#259be8"/>
<polygon points="185.0,207.4 188.7,209.8 193.0,207.1 189.3,204.7" fill="#259be8"/>
<polygon points="97.9,221.5 101.6,220.9 105.8,218.8 102.1,219.4" fill="#4269fe"/>
<polygon points="212.5,208.9 216.2,211.2 220.4,208.5 216.7,206.1" fill="#259be8"/>
<polygon points="177.1,207.9 180.8,210.2 185.0,207.4 181.3,205.2" fill="#259be8"/>
<polygon points="169.2,208.4 172.9,210.6 177.1,207.9 173.4,205.7" fill="#259be8"/>
<polygon points="204.6,209.2 208.3,211.6 212.5,208.9 208.8,206.5" fill="#259be8"/>
<polygon points="105.8,218.8 109.5,218.7 113.7,216.5 110.0,216.7" fill="#3875fe"/>
<polygon points="161.3,209.0 165.0,211.0 169.2,208.4 165.5,206.3" fill="#259be8"/>
<polygon points="196.7,209.5 200.4,212.0 204.6,209.2 200.9,206.8" fill="#259be8"/>
<polygon points="113.7,216.5 117.4,216.9 121.6,214.6 117.9,214.3" fill="#2f81fa"/>
<polygon points="153.3,209.7 157.0,211.6 161.3,209.0 157.6,207.2" fill="#259be8"/>
<polygon points="121.6,214.6 125.3,215.4 129.6,213.0 125.9,212.3" fill="#2d8cf3"/>
<polygon points="145.4,210.6 149.1,212.3 153.3,209.7 149.6,208.2" fill="#2797eb"/>
<polygon points="137.5,211.7 141.2,213.1 145.4,210.6 141.7,209.3" fill="#2797eb"/>
<polygon points="129.6,213.0 133.3,214.1 137.5,211.7 133.8,210.7" fill="#2b91ef"/>
<polygon points="224.2,210.9 227.9,213.2 232.1,210.5 228.4,208.1" fill="#2797eb"/>
<polygon points="188.7,209.8 192.4,212.3 196.7,209.5 193.0,207.1" fill="#259be8"/>
<polygon points="216.2,211.2 219.9,213.6 224.2,210.9 220.4,208.5" fill="#259be8"/>
<polygon points="180.8,210.2 184.5,212.6 188.7,209.8 185.0,207.4" fill="#259be8"/>
<polygon points="208.3,211.6 212.0,214.0 216.2,211.2 212.5,208.9" fill="#259be8"/>
<polygon points="172.9,210.6 176.6,212.9 180.8,210.2 177.1,207.9" fill="#259be8"/>
<polygon points="200.4,212.0 204.1,214.4 208.3,211.6 204.6,209.2" fill="#259be8"/>
<polygon points="165.0,211.0 168.7,213.3 172.9,210.6 169.2,208.4" fill="#259be8"/>
<polygon points="101.6,220.9 105.3,220.8 109.5,218.7 105.8,218.8" fill="#327cfc"/>
<polygon points="157.0,211.6 160.7,213.7 165.0,211.0 161.3,209.0" fill="#259be8"/>
<polygon points="192.4,212.3 196.1,214.7 200.4,212.0 196.7,209.5" fill="#259be8"/>
<polygon points="149.1,212.3 152.8,214.2 157.0,211.6 153.3,209.7" fill="#259be8"/>
<polygon points="109.5,218.7 113.2,219.1 117.4,216.9 113.7,216.5" fill="#2e87f7"/>
<polygon points="141.2,213.1 144.9,214.8 149.1,212.3 145.4,210.6" fill="#259be8"/>
<polygon points="219.9,213.6 223.6,216.0 227.9,213.2 224.2,210.9" fill="#2797eb"/>
<polygon points="184.5,212.6 188.2,215.1 192.4,212.3 188.7,209.8" fill="#259be8"/>
<polygon points="117.4,216.9 121.1,217.7 125.3,215.4 121.6,214.6" fill="#2d8cf3"/>
<polygon points="133.3,214.1 137.0,215.6 141.2,213.1 137.5,211.7" fill="#2797eb"/>
<polygon points="125.3,215.4 129.0,216.5 133.3,214.1 129.6,213.0" fill="#2b91ef"/>
<polygon points="212.0,214.0 215.7,216.4 219.9,213.6 216.2,211.2" fill="#259be8"/>
<polygon points="176.6,212.9 180.3,215.4 184.5,212.6 180.8,210.2" fill="#259be8"/>
<polygon points="204.1,214.4 207.8,216.8 212.0,214.0 208.3,211.6" fill="#259be8"/>
<polygon points="168.7,213.3 172.4,215.7 176.6,212.9 172.9,210.6" fill="#259be8"/>
<polygon points="196.1,214.7 199.9,217.1 204.1,214.4 200.4,212.0" fill="#259be8"/>
<polygon points="160.7,213.7 164.4,216.0 168.7,213.3 165.0,211.0" fill="#23a0e5"/>
<polygon points="152.8,214.2 156.5,216.4 160.7,213.7 157.0,211.6" fill="#23a0e5"/>
<polygon points="188.2,215.1 191.9,217.5 196.1,214.7 192.4,212.3" fill="#259be8"/>
<polygon points="144.9,214.8 148.6,216.8 152.8,214.2 149.1,212.3" fill="#259be8"/>
<polygon points="180.3,215.4 184.0,217.8 188.2,215.1 184.5,212.6" fill="#259be8"/>
<polygon points="215.7,216.4 219.4,218.7 223.6,216.0 219.9,213.6" fill="#2797eb"/>
<polygon points="137.0,215.6 140.7,217.4 144.9,214.8 141.2,213.1" fill="#259be8"/>
<polygon points="105.3,220.8 109.0,221.3 113.2,219.1 109.5,218.7" fill="#2e87f7"/>
<polygon points="129.0,216.5 132.7,218.1 137.0,215.6 133.3,214.1" fill="#259be8"/>
<polygon points="113.2,219.1 116.9,220.0 121.1,217.7 117.4,216.9" fill="#2b91ef"/>
<polygon points="121.1,217.7 124.8,218.9 129.0,216.5 125.3,215.4" fill="#2797eb"/>
<polygon points="207.8,216.8 211.5,219.1 215.7,216.4 212.0,214.0" fill="#259be8"/>
<polygon points="172.4,215.7 176.1,218.1 180.3,215.4 176.6,212.9" fill="#259be8"/>
<polygon points="199.9,217.1 203.6,219.5 207.8,216.8 204.1,214.4" fill="#259be8"/>
<polygon points="164.4,216.0 168.1,218.4 172.4,215.7 168.7,213.3" fill="#259be8"/>
<polygon points="191.9,217.5 195.6,219.9 199.9,217.1 196.1,214.7" fill="#259be8"/>
<polygon points="156.5,216.4 160.2,218.7 164.4,216.0 160.7,213.7" fill="#23a0e5"/>
<polygon points="184.0,217.8 187.7,220.3 191.9,217.5 188.2,215.1" fill="#259be8"/>
<polygon points="148.6,216.8 152.3,219.1 156.5,216.4 152.8,214.2" fill="#23a0e5"/>
<polygon points="140.7,217.4 144.4,219.5 148.6,216.8 144.9,214.8" fill="#23a0e5"/>
<polygon points="176.1,218.1 179.8,220.6 184.0,217.8 180.3,215.4" fill="#259be8"/>
<polygon points="211.5,219.1 215.2,221.5 219.4,218.7 215.7,216.4" fill="#2797eb"/>
<polygon points="132.7,218.1 136.4,220.0 140.7,217.4 137.0,215.6" fill="#259be8"/>
<polygon points="203.6,219.5 207.3,221.9 211.5,219.1 207.8,216.8" fill="#2797eb"/>
<polygon points="124.8,218.9 128.5,220.6 132.7,218.1 129.0,216.5" fill="#259be8"/>
<polygon points="168.1,218.4 171.8,220.9 176.1,218.1 172.4,215.7" fill="#259be8"/>
<polygon points="116.9,220.0 120.6,221.3 124.8,218.9 121.1,217.7" fill="#2797eb"/>
<polygon points="109.0,221.3 112.7,222.3 116.9,220.0 113.2,219.1" fill="#2b91ef"/>
<polygon points="195.6,219.9 199.3,222.3 203.6,219.5 199.9,217.1" fill="#259be8"/>
<polygon points="160.2,218.7 163.9,221.2 168.1,218.4 164.4,216.0" fill="#23a0e5"/>
<polygon points="187.7,220.3 191.4,222.7 195.6,219.9 191.9,217.5" fill="#259be8"/>
<polygon points="152.3,219.1 156.0,221.5 160.2,218.7 156.5,216.4" fill="#23a0e5"/>
<polygon points="179.8,220.6 183.5,223.0 187.7,220.3 184.0,217.8" fill="#259be8"/>
<polygon points="144.4,219.5 148.1,221.8 152.3,219.1 148.6,216.8" fill="#23a0e5"/>
<polygon points="136.4,220.0 140.1,222.1 144.4,219.5 140.7,217.4" fill="#23a0e5"/>
<polygon points="171.8,220.9 175.6,223.3 179.8,220.6 176.1,218.1" fill="#259be8"/>
<polygon points="207.3,221.9 211.0,224.2 215.2,221.5 211.5,219.1" fill="#2797eb"/>
<polygon points="128.5,220.6 132.2,222.6 136.4,220.0 132.7,218.1" fill="#23a0e5"/>
<polygon points="199.3,222.3 203.0,224.6 207.3,221.9 203.6,219.5" fill="#2797eb"/>
<polygon points="163.9,221.2 167.6,223.6 171.8,220.9 168.1,218.4" fill="#259be8"/>
<polygon points="120.6,221.3 124.3,223.1 128.5,220.6 124.8,218.9" fill="#259be8"/>
<polygon points="112.7,222.3 116.4,223.7 120.6,221.3 116.9,220.0" fill="#259be8"/>
<polygon points="191.4,222.7 195.1,225.0 199.3,222.3 195.6,219.9" fill="#259be8"/>
<polygon points="156.0,221.5 159.7,223.9 163.9,221.2 160.2,218.7" fill="#23a0e5"/>
<polygon points="183.5,223.0 187.2,225.4 191.4,222.7 187.7,220.3" fill="#259be8"/>
<polygon points="148.1,221.8 151.8,224.2 156.0,221.5 152.3,219.1" fill="#23a0e5"/>
<polygon points="175.6,223.3 179.3,225.8 183.5,223.0 179.8,220.6" fill="#259be8"/>
<polygon points="140.1,222.1 143.8,224.5 148.1,221.8 144.4,219.5" fill="#23a0e5"/>
<polygon points="167.6,223.6 171.3,226.1 175.6,223.3 171.8,220.9" fill="#259be8"/>
<polygon points="203.0,224.6 206.7,227.0 211.0,224.2 207.3,221.9" fill="#2797eb"/>
<polygon points="132.2,222.6 135.9,224.8 140.1,222.1 136.4,220.0" fill="#23a0e5"/>
<polygon points="195.1,225.0 198.8,227.4 203.0,224.6 199.3,222.3" fill="#2797eb"/>
<polygon points="124.3,223.1 128.0,225.1 132.2,222.6 128.5,220.6" fill="#23a0e5"/>
<polygon points="159.7,223.9 163.4,226.4 167.6,223.6 163.9,221.2" fill="#259be8"/>
<polygon points="116.4,223.7 120.1,225.6 124.3,223.1 120.6,221.3" fill="#23a0e5"/>
<polygon points="187.2,225.4 190.9,227.8 195.1,225.0 191.4,222.7" fill="#259be8"/>
<polygon points="151.8,224.2 155.5,226.7 159.7,223.9 156.0,221.5" fill="#23a0e5"/>
<polygon points="179.3,225.8 183.0,228.2 187.2,225.4 183.5,223.0" fill="#259be8"/>
<polygon points="143.8,224.5 147.6,226.9 151.8,224.2 148.1,221.8" fill="#23a0e5"/>
<polygon points="171.3,226.1 175.0,228.5 179.3,225.8 175.6,223.3" fill="#259be8"/>
<polygon points="135.9,224.8 139.6,227.2 143.8,224.5 140.1,222.1" fill="#23a0e5"/>
<polygon points="163.4,226.4 167.1,228.9 171.3,226.1 167.6,223.6" fill="#259be8"/>
<polygon points="198.8,227.4 202.5,229.7 206.7,227.0 203.0,224.6" fill="#2797eb"/>
<polygon points="128.0,225.1 131.7,227.4 135.9,224.8 132.2,222.6" fill="#23a0e5"/>
<polygon points="190.9,227.8 194.6,230.1 198.8,227.4 195.1,225.0" fill="#2797eb"/>
<polygon points="155.5,226.7 159.2,229.1 163.4,226.4 159.7,223.9" fill="#259be8"/>
<polygon points="120.1,225.6 123.8,227.7 128.0,225.1 124.3,223.1" fill="#23a0e5"/>
<polygon points="183.0,228.2 186.7,230.6 190.9,227.8 187.2,225.4" fill="#259be8"/>
<polygon points="147.6,226.9 151.3,229.4 155.5,226.7 151.8,224.2" fill="#23a0e5"/>
<polygon points="175.0,228.5 178.7,230.9 183.0,228.2 179.3,225.8" fill="#259be8"/>
<polygon points="139.6,227.2 143.3,229.7 147.6,226.9 143.8,224.5" fill="#23a0e5"/>
<polygon points="167.1,228.9 170.8,231.3 175.0,228.5 171.3,226.1" fill="#259be8"/>
<polygon points="131.7,227.4 135.4,229.9 139.6,227.2 135.9,224.8" fill="#23a0e5"/>
<polygon points="159.2,229.1 162.9,231.6 167.1,228.9 163.4,226.4" fill="#259be8"/>
<polygon points="194.6,230.1 198.3,232.5 202.5,229.7 198.8,227.4" fill="#2797eb"/>
<polygon points="123.8,227.7 127.5,230.1 131.7,227.4 128.0,225.1" fill="#23a0e5"/>
<polygon points="186.7,230.6 190.4,232.9 194.6,230.1 190.9,227.8" fill="#2797eb"/>
<polygon points="151.3,229.4 155.0,231.9 159.2,229.1 155.5,226.7" fill="#259be8"/>
<polygon points="178.7,230.9 182.4,233.3 186.7,230.6 183.0,228.2" fill="#259be8"/>
<polygon points="143.3,229.7 147.0,232.2 151.3,229.4 147.6,226.9" fill="#23a0e5"/>
<polygon points="170.8,231.3 174.5,233.7 178.7,230.9 175.0,228.5" fill="#259be8"/>
<polygon points="135.4,229.9 139.1,232.4 143.3,229.7 139.6,227.2" fill="#23a0e5"/>
<polygon points="162.9,231.6 166.6,234.1 170.8,231.3 167.1,228.9" fill="#259be8"/>
<polygon points="127.5,230.1 131.2,232.6 135.4,229.9 131.7,227.4" fill="#23a0e5"/>
<polygon points="155.0,231.9 158.7,234.4 162.9,231.6 159.2,229.1" fill="#259be8"/>
<polygon points="190.4,232.9 194.1,235.2 198.3,232.5 194.6,230.1" fill="#2797eb"/>
<polygon points="182.4,233.3 186.1,235.6 190.4,232.9 186.7,230.6" fill="#2797eb"/>
<polygon points="147.0,232.2 150.7,234.7 155.0,231.9 151.3,229.4" fill="#259be8"/>
<polygon points="174.5,233.7 178.2,236.1 182.4,233.3 178.7,230.9" fill="#2797eb"/>
<polygon points="139.1,232.4 142.8,234.9 147.0,232.2 143.3,229.7" fill="#23a0e5"/>
<polygon points="166.6,234.1 170.3,236.5 174.5,233.7 170.8,231.3" fill="#259be8"/>
<polygon points="131.2,232.6 134.9,235.1 139.1,232.4 135.4,229.9" fill="#23a0e5"/>
<polygon points="158.7,234.4 162.4,236.8 166.6,234.1 162.9,231.6" fill="#259be8"/>
<polygon points="150.7,234.7 154.4,237.2 158.7,234.4 155.0,231.9" fill="#259be8"/>
<polygon points="186.1,235.6 189.8,238.0 194.1,235.2 190.4,232.9" fill="#2797eb"/>
<polygon points="178.2,236.1 181.9,238.4 186.1,235.6 182.4,233.3" fill="#2797eb"/>
<polygon points="142.8,234.9 146.5,237.4 150.7,234.7 147.0,232.2" fill="#259be8"/>
<polygon points="170.3,236.5 174.0,238.8 178.2,236.1 174.5,233.7" fill="#2797eb"/>
<polygon points="134.9,235.1 138.6,237.7 142.8,234.9 139.1,232.4" fill="#23a0e5"/>
<polygon points="162.4,236.8 166.1,239.2 170.3,236.5 166.6,234.1" fill="#259be8"/>
<polygon points="154.4,237.2 158.1,239.6 162.4,236.8 158.7,234.4" fill="#259be8"/>
<polygon points="146.5,237.4 150.2,239.9 154.4,237.2 150.7,234.7" fill="#259be8"/>
<polygon points="181.9,238.4 185.6,240.7 189.8,238.0 186.1,235.6" fill="#2797eb"/>
<polygon points="174.0,238.8 177.7,241.1 181.9,238.4 178.2,236.1" fill="#2797eb"/>
<polygon points="138.6,237.7 142.3,240.2 146.5,237.4 142.8,234.9" fill="#259be8"/>
<polygon points="166.1,239.2 169.8,241.6 174.0,238.8 170.3,236.5" fill="#2797eb"/>
<polygon points="158.1,239.6 161.8,242.0 166.1,239.2 162.4,236.8" fill="#259be8"/>
<polygon points="150.2,239.9 153.9,242.4 158.1,239.6 154.4,237.2" fill="#259be8"/>
<polygon points="142.3,240.2 146.0,242.7 150.2,239.9 146.5,237.4" fill="#259be8"/>
<polygon points="177.7,241.1 181.4,243.4 185.6,240.7 181.9,238.4" fill="#2797eb"/>
<polygon points="169.8,241.6 173.5,243.9 177.7,241.1 174.0,238.8" fill="#2797eb"/>
<polygon points="161.8,242.0 165.5,244.3 169.8,241.6 166.1,239.2" fill="#2797eb"/>
<polygon points="153.9,242.4 157.6,244.7 161.8,242.0 158.1,239.6" fill="#259be8"/>
<polygon points="146.0,242.7 149.7,245.1 153.9,242.4 150.2,239.9" fill="#259be8"/>
<polygon points="173.5,243.9 177.2,246.2 181.4,243.4 177.7,241.1" fill="#2797eb"/>
<polygon points="165.5,244.3 169.2,246.6 173.5,243.9 169.8,241.6" fill="#2797eb"/>
<polygon points="157.6,244.7 161.3,247.1 165.5,244.3 161.8,242.0" fill="#2797eb"/>
<polygon points="149.7,245.1 153.4,247.5 157.6,244.7 153.9,242.4" fill="#259be8"/>
<polygon points="169.2,246.6 172.9,248.9 177.2,246.2 173.5,243.9" fill="#2797eb"/>
<polygon points="161.3,247.1 165.0,249.4 169.2,246.6 165.5,244.3" fill="#2797eb"/>
<polygon points="153.4,247.5 157.1,249.8 161.3,247.1 157.6,244.7" fill="#2797eb"/>
<polygon points="165.0,249.4 168.7,251.7 172.9,248.9 169.2,246.6" fill="#2797eb"/>
<polygon points="157.1,249.8 160.8,252.1 165.0,249.4 161.3,247.1" fill="#2797eb"/>
<polygon points="160.8,252.1 164.5,254.4 168.7,251.7 165.0,249.4" fill="#2797eb"/>
<polygon points="526.6,91.8 530.2,92.3 534.5,89.7 530.8,89.2" fill="#465efb"/>
<polygon points="522.3,94.5 526.0,94.9 530.2,92.3 526.6,91.8" fill="#465efb"/>
<polygon points="530.2,92.3 533.9,92.7 538.2,90.2 534.5,89.7" fill="#4563fd"/>
<polygon points="518.1,97.2 521.8,97.5 526.0,94.9 522.3,94.5" fill="#465efb"/>
<polygon points="526.0,94.9 529.7,95.2 533.9,92.7 530.2,92.3" fill="#4563fd"/>
<polygon points="533.9,92.7 537.6,93.0 541.9,90.5 538.2,90.2" fill="#3e6fff"/>
<polygon points="513.8,99.9 517.5,100.1 521.8,97.5 518.1,97.2" fill="#465efb"/>
<polygon points="521.8,97.5 525.5,97.7 529.7,95.2 526.0,94.9" fill="#4563fd"/>
<polygon points="529.7,95.2 533.4,95.4 537.6,93.0 533.9,92.7" fill="#3e6fff"/>
<polygon points="537.6,93.0 541.3,93.2 545.5,90.9 541.9,90.5" fill="#327cfc"/>
<polygon points="509.6,102.6 513.3,102.7 517.5,100.1 513.8,99.9" fill="#465efb"/>
<polygon points="517.5,100.1 521.2,100.2 525.5,97.7 521.8,97.5" fill="#4563fd"/>
<polygon points="525.5,97.7 529.1,97.9 533.4,95.4 529.7,95.2" fill="#3e6fff"/>
<polygon points="533.4,95.4 537.1,95.6 541.3,93.2 537.6,93.0" fill="#327cfc"/>
<polygon points="541.3,93.2 545.0,93.5 549.2,91.2 545.5,90.9" fill="#2f81fa"/>
<polygon points="505.4,105.3 509.1,105.3 513.3,102.7 509.6,102.6" fill="#465efb"/>
<polygon points="513.3,102.7 517.0,102.7 521.2,100.2 517.5,100.1" fill="#4269fe"/>
<polygon points="521.2,100.2 524.9,100.3 529.1,97.9 525.5,97.7" fill="#3e6fff"/>
<polygon points="529.1,97.9 532.8,98.0 537.1,95.6 533.4,95.4" fill="#327cfc"/>
<polygon points="501.1,108.0 504.8,107.8 509.1,105.3 505.4,105.3" fill="#465efb"/>
<polygon points="537.1,95.6 540.7,95.8 545.0,93.5 541.3,93.2" fill="#2e87f7"/>
<polygon points="545.0,93.5 548.7,93.9 552.9,91.7 549.2,91.2" fill="#2d8cf3"/>
<polygon points="509.1,105.3 512.7,105.2 517.0,102.7 513.3,102.7" fill="#4269fe"/>
<polygon points="517.0,102.7 520.7,102.7 524.9,100.3 521.2,100.2" fill="#3875fe"/>
<polygon points="524.9,100.3 528.6,100.3 532.8,98.0 529.1,97.9" fill="#327cfc"/>
<polygon points="496.9,110.7 500.6,110.4 504.8,107.8 501.1,108.0" fill="#465efb"/>
<polygon points="532.8,98.0 536.5,98.2 540.7,95.8 537.1,95.6" fill="#2e87f7"/>
<polygon points="540.7,95.8 544.4,96.2 548.7,93.9 545.0,93.5" fill="#2d8cf3"/>
<polygon points="504.8,107.8 508.5,107.7 512.7,105.2 509.1,105.3" fill="#4269fe"/>
<polygon points="548.7,93.9 552.4,94.4 556.6,92.2 552.9,91.7" fill="#2797eb"/>
<polygon points="512.7,105.2 516.4,105.1 520.7,102.7 517.0,102.7" fill="#3875fe"/>
<polygon points="520.7,102.7 524.3,102.7 528.6,100.3 524.9,100.3" fill="#2f81fa"/>
<polygon points="492.7,113.4 496.3,112.9 500.6,110.4 496.9,110.7" fill="#465efb"/>
<polygon points="528.6,100.3 532.3,100.5 536.5,98.2 532.8,98.0" fill="#2e87f7"/>
<polygon points="536.5,98.2 540.2,98.5 544.4,96.2 540.7,95.8" fill="#2b91ef"/>
<polygon points="500.6,110.4 504.3,110.1 508.5,107.7 504.8,107.8" fill="#4269fe"/>
<polygon points="544.4,96.2 548.1,96.6 552.4,94.4 548.7,93.9" fill="#2797eb"/>
<polygon points="552.4,94.4 556.0,95.1 560.3,92.9 556.6,92.2" fill="#259be8"/>
<polygon points="508.5,107.7 512.2,107.4 516.4,105.1 512.7,105.2" fill="#3875fe"/>
<polygon points="516.4,105.1 520.1,105.0 524.3,102.7 520.7,102.7" fill="#2f81fa"/>
<polygon points="488.4,116.0 492.1,115.5 496.3,112.9 492.7,113.4" fill="#465efb"/>
<polygon points="524.3,102.7 528.0,102.7 532.3,100.5 528.6,100.3" fill="#2d8cf3"/>
<polygon points="496.3,112.9 500.0,112.5 504.3,110.1 500.6,110.4" fill="#4269fe"/>
<polygon points="532.3,100.5 536.0,100.7 540.2,98.5 536.5,98.2" fill="#2b91ef"/>
<polygon points="540.2,98.5 543.9,98.8 548.1,96.6 544.4,96.2" fill="#2797eb"/>
<polygon points="548.1,96.6 551.8,97.2 556.0,95.1 552.4,94.4" fill="#23a0e5"/>
<polygon points="504.3,110.1 507.9,109.8 512.2,107.4 508.5,107.7" fill="#3875fe"/>
<polygon points="556.0,95.1 559.7,96.0 564.0,93.9 560.3,92.9" fill="#20a5e3"/>
<polygon points="484.2,118.7 487.9,118.0 492.1,115.5 488.4,116.0" fill="#465efb"/>
<polygon points="512.2,107.4 515.9,107.3 520.1,105.0 516.4,105.1" fill="#2f81fa"/>
<polygon points="520.1,105.0 523.8,105.0 528.0,102.7 524.3,102.7" fill="#2d8cf3"/>
<polygon points="492.1,115.5 495.8,115.0 500.0,112.5 496.3,112.9" fill="#4269fe"/>
<polygon points="528.0,102.7 531.7,103.0 536.0,100.7 532.3,100.5" fill="#2b91ef"/>
<polygon points="536.0,100.7 539.6,101.1 543.9,98.8 540.2,98.5" fill="#259be8"/>
<polygon points="500.0,112.5 503.7,112.1 507.9,109.8 504.3,110.1" fill="#3875fe"/>
<polygon points="543.9,98.8 547.6,99.4 551.8,97.2 548.1,96.6" fill="#23a0e5"/>
<polygon points="559.7,96.0 563.4,97.2 567.7,95.0 564.0,93.9" fill="#1ca9df"/>
<polygon points="551.8,97.2 555.5,98.2 559.7,96.0 556.0,95.1" fill="#20a5e3"/>
<polygon points="479.9,121.4 483.6,120.6 487.9,118.0 484.2,118.7" fill="#465efb"/>
<polygon points="507.9,109.8 511.6,109.6 515.9,107.3 512.2,107.4" fill="#2f81fa"/>
<polygon points="515.9,107.3 519.6,107.3 523.8,105.0 520.1,105.0" fill="#2d8cf3"/>
<polygon points="487.9,118.0 491.5,117.4 495.8,115.0 492.1,115.5" fill="#4269fe"/>
<polygon points="523.8,105.0 527.5,105.2 531.7,103.0 528.0,102.7" fill="#2797eb"/>
<polygon points="531.7,103.0 535.4,103.3 539.6,101.1 536.0,100.7" fill="#259be8"/>
<polygon points="495.8,115.0 499.5,114.4 503.7,112.1 500.0,112.5" fill="#327cfc"/>
<polygon points="563.4,97.2 567.1,98.4 571.3,96.3 567.7,95.0" fill="#18addb"/>
<polygon points="539.6,101.1 543.3,101.6 547.6,99.4 543.9,98.8" fill="#20a5e3"/>
<polygon points="555.5,98.2 559.2,99.3 563.4,97.2 559.7,96.0" fill="#1ca9df"/>
<polygon points="547.6,99.4 551.3,100.3 555.5,98.2 551.8,97.2" fill="#1ca9df"/>
<polygon points="475.7,124.1 479.4,123.1 483.6,120.6 479.9,121.4" fill="#465efb"/>
<polygon points="503.7,112.1 507.4,111.8 511.6,109.6 507.9,109.8" fill="#2e87f7"/>
<polygon points="511.6,109.6 515.3,109.5 519.6,107.3 515.9,107.3" fill="#2b91ef"/>
<polygon points="483.6,120.6 487.3,119.7 491.5,117.4 487.9,118.0" fill="#4269fe"/>
<polygon points="519.6,107.3 523.2,107.4 527.5,105.2 523.8,105.0" fill="#2797eb"/>
<polygon points="527.5,105.2 531.2,105.5 535.4,103.3 531.7,103.0" fill="#23a0e5"/>
<polygon points="567.1,98.4 570.8,99.9 575.0,97.7 571.3,96.3" fill="#12b1d6"/>
<polygon points="491.5,117.4 495.2,116.7 499.5,114.4 495.8,115.0" fill="#327cfc"/>
<polygon points="559.2,99.3 562.9,100.6 567.1,98.4 563.4,97.2" fill="#18addb"/>
<polygon points="535.4,103.3 539.1,103.8 543.3,101.6 539.6,101.1" fill="#20a5e3"/>
<polygon points="471.5,126.8 475.1,125.6 479.4,123.1 475.7,124.1" fill="#465efb"/>
<polygon points="551.3,100.3 554.9,101.5 559.2,99.3 555.5,98.2" fill="#18addb"/>
<polygon points="543.3,101.6 547.0,102.5 551.3,100.3 547.6,99.4" fill="#1ca9df"/>
<polygon points="499.5,114.4 503.2,114.0 507.4,111.8 503.7,112.1" fill="#2e87f7"/>
<polygon points="479.4,123.1 483.1,122.1 487.3,119.7 483.6,120.6" fill="#3e6fff"/>
<polygon points="507.4,111.8 511.1,111.7 515.3,109.5 511.6,109.6" fill="#2b91ef"/>
<polygon points="515.3,109.5 519.0,109.6 523.2,107.4 519.6,107.3" fill="#259be8"/>
<polygon points="570.8,99.9 574.5,101.4 578.7,99.3 575.0,97.7" fill="#12b1d6"/>
<polygon points="523.2,107.4 526.9,107.6 531.2,105.5 527.5,105.2" fill="#23a0e5"/>
<polygon points="487.3,119.7 491.0,119.0 495.2,116.7 491.5,117.4" fill="#327cfc"/>
<polygon points="467.2,129.5 470.9,128.1 475.1,125.6 471.5,126.8" fill="#465efb"/>
<polygon points="562.9,100.6 566.5,102.0 570.8,99.9 567.1,98.4" fill="#12b1d6"/>
<polygon points="531.2,105.5 534.9,106.0 539.1,103.8 535.4,103.3" fill="#20a5e3"/>
<polygon points="554.9,101.5 558.6,102.7 562.9,100.6 559.2,99.3" fill="#12b1d6"/>
<polygon points="547.0,102.5 550.7,103.6 554.9,101.5 551.3,100.3" fill="#18addb"/>
<polygon points="539.1,103.8 542.8,104.7 547.0,102.5 543.3,101.6" fill="#1ca9df"/>
<polygon points="495.2,116.7 498.9,116.2 503.2,114.0 499.5,114.4" fill="#2e87f7"/>
<polygon points="475.1,125.6 478.8,124.4 483.1,122.1 479.4,123.1" fill="#3e6fff"/>
<polygon points="503.2,114.0 506.8,113.8 511.1,111.7 507.4,111.8" fill="#2b91ef"/>
<polygon points="574.5,101.4 578.2,103.1 582.4,100.9 578.7,99.3" fill="#08b5d0"/>
<polygon points="511.1,111.7 514.8,111.7 519.0,109.6 515.3,109.5" fill="#259be8"/>
<polygon points="566.5,102.0 570.2,103.6 574.5,101.4 570.8,99.9" fill="#08b5d0"/>
<polygon points="463.0,132.2 466.7,130.5 470.9,128.1 467.2,129.5" fill="#465efb"/>
<polygon points="483.1,122.1 486.8,121.2 491.0,119.0 487.3,119.7" fill="#327cfc"/>
<polygon points="519.0,109.6 522.7,109.8 526.9,107.6 523.2,107.4" fill="#20a5e3"/>
<polygon points="558.6,102.7 562.3,104.2 566.5,102.0 562.9,100.6" fill="#08b5d0"/>
<polygon points="526.9,107.6 530.6,108.1 534.9,106.0 531.2,105.5" fill="#1ca9df"/>
<polygon points="550.7,103.6 554.4,104.9 558.6,102.7 554.9,101.5" fill="#12b1d6"/>
<polygon points="542.8,104.7 546.5,105.8 550.7,103.6 547.0,102.5" fill="#12b1d6"/>
<polygon points="534.9,106.0 538.5,106.8 542.8,104.7 539.1,103.8" fill="#18addb"/>
<polygon points="491.0,119.0 494.7,118.4 498.9,116.2 495.2,116.7" fill="#2d8cf3"/>
<polygon points="470.9,128.1 474.6,126.7 478.8,124.4 475.1,125.6" fill="#3e6fff"/>
<polygon points="498.9,116.2 502.6,116.0 506.8,113.8 503.2,114.0" fill="#2797eb"/>
<polygon points="578.2,103.1 581.8,104.9 586.1,102.6 582.4,100.9" fill="#08b5d0"/>
<polygon points="570.2,103.6 573.9,105.4 578.2,103.1 574.5,101.4" fill="#08b5d0"/>
<polygon points="506.8,113.8 510.5,113.8 514.8,111.7 511.1,111.7" fill="#23a0e5"/>
<polygon points="458.8,134.9 462.4,133.0 466.7,130.5 463.0,132.2" fill="#465efb"/>
<polygon points="562.3,104.2 566.0,105.9 570.2,103.6 566.5,102.0" fill="#08b5d0"/>
<polygon points="478.8,124.4 482.5,123.4 486.8,121.2 483.1,122.1" fill="#2f81fa"/>
<polygon points="514.8,111.7 518.5,111.9 522.7,109.8 519.0,109.6" fill="#20a5e3"/>
<polygon points="554.4,104.9 558.1,106.4 562.3,104.2 558.6,102.7" fill="#08b5d0"/>
<polygon points="522.7,109.8 526.4,110.3 530.6,108.1 526.9,107.6" fill="#1ca9df"/>
<polygon points="546.5,105.8 550.1,107.1 554.4,104.9 550.7,103.6" fill="#08b5d0"/>
<polygon points="538.5,106.8 542.2,107.9 546.5,105.8 542.8,104.7" fill="#12b1d6"/>
<polygon points="530.6,108.1 534.3,109.0 538.5,106.8 534.9,106.0" fill="#18addb"/>
<polygon points="486.8,121.2 490.4,120.5 494.7,118.4 491.0,119.0" fill="#2d8cf3"/>
<polygon points="466.7,130.5 470.4,129.0 474.6,126.7 470.9,128.1" fill="#3e6fff"/>
<polygon points="581.8,104.9 585.5,106.9 589.8,104.5 586.1,102.6" fill="#01b8ca"/>
<polygon points="494.7,118.4 498.4,118.0 502.6,116.0 498.9,116.2" fill="#2797eb"/>
<polygon points="573.9,105.4 577.6,107.3 581.8,104.9 578.2,103.1" fill="#01b8ca"/>
<polygon points="566.0,105.9 569.7,107.7 573.9,105.4 570.2,103.6" fill="#01b8ca"/>
<polygon points="454.5,137.5 458.2,135.4 462.4,133.0 458.8,134.9" fill="#465efb"/>
<polygon points="502.6,116.0 506.3,115.9 510.5,113.8 506.8,113.8" fill="#23a0e5"/>
<polygon points="558.1,106.4 561.8,108.2 566.0,105.9 562.3,104.2" fill="#01b8ca"/>
<polygon points="474.6,126.7 478.3,125.5 482.5,123.4 478.8,124.4" fill="#2f81fa"/>
<polygon points="510.5,113.8 514.2,114.0 518.5,111.9 514.8,111.7" fill="#1ca9df"/>
<polygon points="550.1,107.1 553.8,108.7 558.1,106.4 554.4,104.9" fill="#08b5d0"/>
<polygon points="542.2,107.9 545.9,109.3 550.1,107.1 546.5,105.8" fill="#08b5d0"/>
<polygon points="518.5,111.9 522.1,112.4 526.4,110.3 522.7,109.8" fill="#18addb"/>
<polygon points="534.3,109.0 538.0,110.1 542.2,107.9 538.5,106.8" fill="#08b5d0"/>
<polygon points="526.4,110.3 530.1,111.1 534.3,109.0 530.6,108.1" fill="#12b1d6"/>
<polygon points="585.5,106.9 589.2,109.4 593.4,106.8 589.8,104.5" fill="#01b8ca"/>
<polygon points="482.5,123.4 486.2,122.6 490.4,120.5 486.8,121.2" fill="#2b91ef"/>
<polygon points="462.4,133.0 466.1,131.2 470.4,129.0 466.7,130.5" fill="#3e6fff"/>
<polygon points="577.6,107.3 581.3,109.4 585.5,106.9 581.8,104.9" fill="#01b8ca"/>
<polygon points="569.7,107.7 573.4,109.7 577.6,107.3 573.9,105.4" fill="#01b8ca"/>
<polygon points="490.4,120.5 494.1,120.1 498.4,118.0 494.7,118.4" fill="#259be8"/>
<polygon points="450.3,140.2 454.0,137.8 458.2,135.4 454.5,137.5" fill="#465efb"/>
<polygon points="561.8,108.2 565.4,110.1 569.7,107.7 566.0,105.9" fill="#01b8ca"/>
<polygon points="498.4,118.0 502.1,117.9 506.3,115.9 502.6,116.0" fill="#20a5e3"/>
<polygon points="553.8,108.7 557.5,110.4 561.8,108.2 558.1,106.4" fill="#01b8ca"/>
<polygon points="589.2,109.4 592.9,112.1 597.1,109.3 593.4,106.8" fill="#01b8ca"/>
<polygon points="470.4,129.0 474.0,127.6 478.3,125.5 474.6,126.7" fill="#2f81fa"/>
<polygon points="545.9,109.3 549.6,110.9 553.8,108.7 550.1,107.1" fill="#01b8ca"/>
<polygon points="506.3,115.9 510.0,116.0 514.2,114.0 510.5,113.8" fill="#1ca9df"/>
<polygon points="538.0,110.1 541.7,111.5 545.9,109.3 542.2,107.9" fill="#01b8ca"/>
<polygon points="514.2,114.0 517.9,114.4 522.1,112.4 518.5,111.9" fill="#18addb"/>
<polygon points="581.3,109.4 585.0,112.0 589.2,109.4 585.5,106.9" fill="#01b8ca"/>
<polygon points="530.1,111.1 533.7,112.2 538.0,110.1 534.3,109.0" fill="#08b5d0"/>
<polygon points="522.1,112.4 525.8,113.2 530.1,111.1 526.4,110.3" fill="#12b1d6"/>
<polygon points="478.3,125.5 482.0,124.6 486.2,122.6 482.5,123.4" fill="#2b91ef"/>
<polygon points="573.4,109.7 577.0,111.9 581.3,109.4 577.6,107.3" fill="#01b8ca"/>
<polygon points="458.2,135.4 461.9,133.4 466.1,131.2 462.4,133.0" fill="#3875fe"/>
<polygon points="565.4,110.1 569.1,112.1 573.4,109.7 569.7,107.7" fill="#01b8ca"/>
<polygon points="592.9,112.1 596.6,114.9 600.8,112.0 597.1,109.3" fill="#08b5d0"/>
<polygon points="446.0,142.9 449.7,140.2 454.0,137.8 450.3,140.2" fill="#465efb"/>
<polygon points="486.2,122.6 489.9,122.1 494.1,120.1 490.4,120.5" fill="#259be8"/>
<polygon points="557.5,110.4 561.2,112.4 565.4,110.1 561.8,108.2" fill="#02bac3"/>
<polygon points="585.0,112.0 588.7,114.8 592.9,112.1 589.2,109.4" fill="#01b8ca"/>
<polygon points="549.6,110.9 553.3,112.7 557.5,110.4 553.8,108.7" fill="#02bac3"/>
<polygon points="494.1,120.1 497.8,119.9 502.1,117.9 498.4,118.0" fill="#20a5e3"/>
<polygon points="466.1,131.2 469.8,129.7 474.0,127.6 470.4,129.0" fill="#2e87f7"/>
<polygon points="541.7,111.5 545.4,113.1 549.6,110.9 545.9,109.3" fill="#01b8ca"/>
<polygon points="502.1,117.9 505.7,118.0 510.0,116.0 506.3,115.9" fill="#18addb"/>
<polygon points="577.0,111.9 580.7,114.7 585.0,112.0 581.3,109.4" fill="#01b8ca"/>
<polygon points="596.6,114.9 600.3,118.6 604.5,115.7 600.8,112.0" fill="#08b5d0"/>
<polygon points="533.7,112.2 537.4,113.6 541.7,111.5 538.0,110.1" fill="#01b8ca"/>
<polygon points="510.0,116.0 513.7,116.4 517.9,114.4 514.2,114.0" fill="#12b1d6"/>
<polygon points="525.8,113.2 529.5,114.3 533.7,112.2 530.1,111.1" fill="#01b8ca"/>
<polygon points="517.9,114.4 521.6,115.2 525.8,113.2 522.1,112.4" fill="#08b5d0"/>
<polygon points="569.1,112.1 572.8,114.5 577.0,111.9 573.4,109.7" fill="#02bac3"/>
<polygon points="454.0,137.8 457.6,135.6 461.9,133.4 458.2,135.4" fill="#3875fe"/>
<polygon points="474.0,127.6 477.7,126.5 482.0,124.6 478.3,125.5" fill="#2797eb"/>
<polygon points="588.7,114.8 592.3,117.8 596.6,114.9 592.9,112.1" fill="#08b5d0"/>
<polygon points="600.3,118.6 603.9,123.2 608.2,120.2 604.5,115.7" fill="#12b1d6"/>
<polygon points="561.2,112.4 564.9,114.6 569.1,112.1 565.4,110.1" fill="#02bac3"/>
<polygon points="441.8,145.6 445.5,142.6 449.7,140.2 446.0,142.9" fill="#465efb"/>
<polygon points="553.3,112.7 557.0,114.8 561.2,112.4 557.5,110.4" fill="#02bac3"/>
<polygon points="603.9,123.2 607.6,128.2 611.9,125.1 608.2,120.2" fill="#1ca9df"/>
<polygon points="482.0,124.6 485.7,124.0 489.9,122.1 486.2,122.6" fill="#23a0e5"/>
<polygon points="580.7,114.7 584.4,117.7 588.7,114.8 585.0,112.0" fill="#01b8ca"/>
<polygon points="607.6,128.2 611.3,134.0 615.6,130.8 611.9,125.1" fill="#259be8"/>
<polygon points="611.3,134.0 615.0,139.7 619.2,136.5 615.6,130.8" fill="#2d8cf3"/>
<polygon points="545.4,113.1 549.0,115.0 553.3,112.7 549.6,110.9" fill="#02bac3"/>
<polygon points="615.0,139.7 618.7,145.1 622.9,141.9 619.2,136.5" fill="#327cfc"/>
<polygon points="489.9,122.1 493.6,121.8 497.8,119.9 494.1,120.1" fill="#1ca9df"/>
<polygon points="461.9,133.4 465.6,131.7 469.8,129.7 466.1,131.2" fill="#2e87f7"/>
<polygon points="592.3,117.8 596.0,121.6 600.3,118.6 596.6,114.9" fill="#08b5d0"/>
<polygon points="572.8,114.5 576.5,117.4 580.7,114.7 577.0,111.9" fill="#02bac3"/>
<polygon points="618.7,145.1 622.4,150.3 626.6,147.2 622.9,141.9" fill="#4269fe"/>
<polygon points="537.4,113.6 541.1,115.4 545.4,113.1 541.7,111.5" fill="#02bac3"/>
<polygon points="497.8,119.9 501.5,119.9 505.7,118.0 502.1,117.9" fill="#18addb"/>
<polygon points="529.5,114.3 533.2,115.8 537.4,113.6 533.7,112.2" fill="#02bac3"/>
<polygon points="622.4,150.3 626.1,155.2 630.3,152.2 626.6,147.2" fill="#4758f8"/>
<polygon points="505.7,118.0 509.4,118.4 513.7,116.4 510.0,116.0" fill="#08b5d0"/>
<polygon points="521.6,115.2 525.3,116.4 529.5,114.3 525.8,113.2" fill="#01b8ca"/>
<polygon points="564.9,114.6 568.6,117.1 572.8,114.5 569.1,112.1" fill="#02bac3"/>
<polygon points="513.7,116.4 517.3,117.2 521.6,115.2 517.9,114.4" fill="#01b8ca"/>
<polygon points="596.0,121.6 599.7,126.3 603.9,123.2 600.3,118.6" fill="#18addb"/>
<polygon points="584.4,117.7 588.1,120.8 592.3,117.8 588.7,114.8" fill="#08b5d0"/>
<polygon points="449.7,140.2 453.4,137.7 457.6,135.6 454.0,137.8" fill="#3875fe"/>
<polygon points="626.1,155.2 629.7,159.6 634.0,156.7 630.3,152.2" fill="#484df0"/>
<polygon points="469.8,129.7 473.5,128.4 477.7,126.5 474.0,127.6" fill="#2797eb"/>
<polygon points="557.0,114.8 560.6,117.1 564.9,114.6 561.2,112.4" fill="#02bac3"/>
<polygon points="437.6,148.3 441.2,145.0 445.5,142.6 441.8,145.6" fill="#465efb"/>
<polygon points="599.7,126.3 603.4,131.3 607.6,128.2 603.9,123.2" fill="#20a5e3"/>
<polygon points="576.5,117.4 580.2,120.6 584.4,117.7 580.7,114.7" fill="#01b8ca"/>
<polygon points="603.4,131.3 607.1,137.2 611.3,134.0 607.6,128.2" fill="#259be8"/>
<polygon points="607.1,137.2 610.8,142.9 615.0,139.7 611.3,134.0" fill="#2e87f7"/>
<polygon points="549.0,115.0 552.7,117.2 557.0,114.8 553.3,112.7" fill="#02bac3"/>
<polygon points="610.8,142.9 614.4,148.3 618.7,145.1 615.0,139.7" fill="#3875fe"/>
<polygon points="629.7,159.6 633.4,163.8 637.7,161.1 634.0,156.7" fill="#4741e5"/>
<polygon points="477.7,126.5 481.4,125.8 485.7,124.0 482.0,124.6" fill="#20a5e3"/>
<polygon points="588.1,120.8 591.8,124.7 596.0,121.6 592.3,117.8" fill="#12b1d6"/>
<polygon points="614.4,148.3 618.1,153.4 622.4,150.3 618.7,145.1" fill="#4269fe"/>
<polygon points="541.1,115.4 544.8,117.3 549.0,115.0 545.4,113.1" fill="#02bac3"/>
<polygon points="568.6,117.1 572.3,120.1 576.5,117.4 572.8,114.5" fill="#02bac3"/>
<polygon points="457.6,135.6 461.3,133.6 465.6,131.7 461.9,133.4" fill="#2d8cf3"/>
<polygon points="618.1,153.4 621.8,158.2 626.1,155.2 622.4,150.3" fill="#4758f8"/>
<polygon points="485.7,124.0 489.3,123.7 493.6,121.8 489.9,122.1" fill="#1ca9df"/>
<polygon points="533.2,115.8 536.9,117.6 541.1,115.4 537.4,113.6" fill="#02bac3"/>
<polygon points="633.4,163.8 637.1,167.6 641.4,165.1 637.7,161.1" fill="#4537d5"/>
<polygon points="591.8,124.7 595.5,129.4 599.7,126.3 596.0,121.6" fill="#18addb"/>
<polygon points="580.2,120.6 583.9,123.8 588.1,120.8 584.4,117.7" fill="#08b5d0"/>
<polygon points="525.3,116.4 529.0,117.9 533.2,115.8 529.5,114.3" fill="#02bac3"/>
<polygon points="493.6,121.8 497.3,121.8 501.5,119.9 497.8,119.9" fill="#12b1d6"/>
<polygon points="560.6,117.1 564.3,119.7 568.6,117.1 564.9,114.6" fill="#02bac3"/>
<polygon points="621.8,158.2 625.5,162.4 629.7,159.6 626.1,155.2" fill="#484df0"/>
<polygon points="517.3,117.2 521.0,118.4 525.3,116.4 521.6,115.2" fill="#02bac3"/>
<polygon points="501.5,119.9 505.2,120.3 509.4,118.4 505.7,118.0" fill="#08b5d0"/>
<polygon points="509.4,118.4 513.1,119.2 517.3,117.2 513.7,116.4" fill="#01b8ca"/>
<polygon points="595.5,129.4 599.2,134.5 603.4,131.3 599.7,126.3" fill="#20a5e3"/>
<polygon points="445.5,142.6 449.2,139.8 453.4,137.7 449.7,140.2" fill="#3875fe"/>
<polygon points="599.2,134.5 602.8,140.5 607.1,137.2 603.4,131.3" fill="#2797eb"/>
<polygon points="552.7,117.2 556.4,119.6 560.6,117.1 557.0,114.8" fill="#02bac3"/>
<polygon points="602.8,140.5 606.5,146.1 610.8,142.9 607.1,137.2" fill="#2e87f7"/>
<polygon points="433.3,151.0 437.0,147.3 441.2,145.0 437.6,148.3" fill="#465efb"/>
<polygon points="572.3,120.1 575.9,123.5 580.2,120.6 576.5,117.4" fill="#01b8ca"/>
<polygon points="465.6,131.7 469.3,130.3 473.5,128.4 469.8,129.7" fill="#259be8"/>
<polygon points="606.5,146.1 610.2,151.5 614.4,148.3 610.8,142.9" fill="#3875fe"/>
<polygon points="637.1,167.6 640.8,170.4 645.0,168.0 641.4,165.1" fill="#4332cb"/>
<polygon points="625.5,162.4 629.2,166.5 633.4,163.8 629.7,159.6" fill="#4741e5"/>
<polygon points="610.2,151.5 613.9,156.5 618.1,153.4 614.4,148.3" fill="#4563fd"/>
<polygon points="583.9,123.8 587.5,127.8 591.8,124.7 588.1,120.8" fill="#12b1d6"/>
<polygon points="544.8,117.3 548.5,119.6 552.7,117.2 549.0,115.0" fill="#0bbdbd"/>
<polygon points="564.3,119.7 568.0,122.9 572.3,120.1 568.6,117.1" fill="#02bac3"/>
<polygon points="613.9,156.5 617.6,161.3 621.8,158.2 618.1,153.4" fill="#4758f8"/>
<polygon points="473.5,128.4 477.2,127.6 481.4,125.8 477.7,126.5" fill="#20a5e3"/>
<polygon points="536.9,117.6 540.6,119.6 544.8,117.3 541.1,115.4" fill="#0bbdbd"/>
<polygon points="587.5,127.8 591.2,132.6 595.5,129.4 591.8,124.7" fill="#18addb"/>
<polygon points="575.9,123.5 579.6,126.9 583.9,123.8 580.2,120.6" fill="#08b5d0"/>
<polygon points="629.2,166.5 632.9,170.1 637.1,167.6 633.4,163.8" fill="#4537d5"/>
<polygon points="453.4,137.7 457.1,135.5 461.3,133.6 457.6,135.6" fill="#2d8cf3"/>
<polygon points="529.0,117.9 532.6,119.7 536.9,117.6 533.2,115.8" fill="#0bbdbd"/>
<polygon points="481.4,125.8 485.1,125.4 489.3,123.7 485.7,124.0" fill="#18addb"/>
<polygon points="556.4,119.6 560.1,122.3 564.3,119.7 560.6,117.1" fill="#02bac3"/>
<polygon points="617.6,161.3 621.3,165.3 625.5,162.4 621.8,158.2" fill="#4747eb"/>
<polygon points="591.2,132.6 594.9,137.7 599.2,134.5 595.5,129.4" fill="#23a0e5"/>
<polygon points="521.0,118.4 524.7,120.0 529.0,117.9 525.3,116.4" fill="#0bbdbd"/>
<polygon points="594.9,137.7 598.6,143.7 602.8,140.5 599.2,134.5" fill="#2797eb"/>
<polygon points="598.6,143.7 602.3,149.4 606.5,146.1 602.8,140.5" fill="#2f81fa"/>
<polygon points="489.3,123.7 493.0,123.6 497.3,121.8 493.6,121.8" fill="#08b5d0"/>
<polygon points="602.3,149.4 606.0,154.7 610.2,151.5 606.5,146.1" fill="#3e6fff"/>
<polygon points="513.1,119.2 516.8,120.4 521.0,118.4 517.3,117.2" fill="#0bbdbd"/>
<polygon points="640.8,170.4 644.5,172.0 648.7,169.8 645.0,168.0" fill="#4332cb"/>
<polygon points="568.0,122.9 571.7,126.5 575.9,123.5 572.3,120.1" fill="#01b8ca"/>
<polygon points="441.2,145.0 444.9,141.9 449.2,139.8 445.5,142.6" fill="#327cfc"/>
<polygon points="497.3,121.8 500.9,122.1 505.2,120.3 501.5,119.9" fill="#01b8ca"/>
<polygon points="548.5,119.6 552.2,122.1 556.4,119.6 552.7,117.2" fill="#0bbdbd"/>
<polygon points="505.2,120.3 508.9,121.1 513.1,119.2 509.4,118.4" fill="#02bac3"/>
<polygon points="429.1,153.7 432.8,149.6 437.0,147.3 433.3,151.0" fill="#465efb"/>
<polygon points="606.0,154.7 609.7,159.6 613.9,156.5 610.2,151.5" fill="#4563fd"/>
<polygon points="579.6,126.9 583.3,131.0 587.5,127.8 583.9,123.8" fill="#12b1d6"/>
<polygon points="621.3,165.3 625.0,169.2 629.2,166.5 625.5,162.4" fill="#4741e5"/>
<polygon points="461.3,133.6 465.0,132.0 469.3,130.3 465.6,131.7" fill="#259be8"/>
<polygon points="632.9,170.1 636.6,172.7 640.8,170.4 637.1,167.6" fill="#4332cb"/>
<polygon points="540.6,119.6 544.2,122.0 548.5,119.6 544.8,117.3" fill="#0bbdbd"/>
<polygon points="609.7,159.6 613.3,164.2 617.6,161.3 613.9,156.5" fill="#4852f4"/>
<polygon points="560.1,122.3 563.8,125.7 568.0,122.9 564.3,119.7" fill="#02bac3"/>
<polygon points="583.3,131.0 587.0,135.8 591.2,132.6 587.5,127.8" fill="#1ca9df"/>
<polygon points="571.7,126.5 575.4,130.0 579.6,126.9 575.9,123.5" fill="#08b5d0"/>
<polygon points="532.6,119.7 536.3,121.9 540.6,119.6 536.9,117.6" fill="#0bbdbd"/>
<polygon points="469.3,130.3 472.9,129.3 477.2,127.6 473.5,128.4" fill="#1ca9df"/>
<polygon points="625.0,169.2 628.6,172.6 632.9,170.1 629.2,166.5" fill="#4537d5"/>
<polygon points="587.0,135.8 590.7,141.0 594.9,137.7 591.2,132.6" fill="#23a0e5"/>
<polygon points="613.3,164.2 617.0,168.1 621.3,165.3 617.6,161.3" fill="#4747eb"/>
<polygon points="590.7,141.0 594.4,147.0 598.6,143.7 594.9,137.7" fill="#2b91ef"/>
<polygon points="594.4,147.0 598.0,152.6 602.3,149.4 598.6,143.7" fill="#2f81fa"/>
<polygon points="552.2,122.1 555.9,125.0 560.1,122.3 556.4,119.6" fill="#02bac3"/>
<polygon points="524.7,120.0 528.4,121.9 532.6,119.7 529.0,117.9" fill="#0bbdbd"/>
<polygon points="449.2,139.8 452.9,137.4 457.1,135.5 453.4,137.7" fill="#2b91ef"/>
<polygon points="598.0,152.6 601.7,157.9 606.0,154.7 602.3,149.4" fill="#3e6fff"/>
<polygon points="477.2,127.6 480.9,127.1 485.1,125.4 481.4,125.8" fill="#12b1d6"/>
<polygon points="563.8,125.7 567.5,129.4 571.7,126.5 568.0,122.9" fill="#01b8ca"/>
<polygon points="516.8,120.4 520.5,122.0 524.7,120.0 521.0,118.4" fill="#0bbdbd"/>
<polygon points="601.7,157.9 605.4,162.7 609.7,159.6 606.0,154.7" fill="#465efb"/>
<polygon points="644.5,172.0 648.2,173.2 652.4,171.0 648.7,169.8" fill="#4332cb"/>
<polygon points="575.4,130.0 579.1,134.2 583.3,131.0 579.6,126.9" fill="#18addb"/>
<polygon points="636.6,172.7 640.2,174.3 644.5,172.0 640.8,170.4" fill="#4332cb"/>
<polygon points="544.2,122.0 547.9,124.6 552.2,122.1 548.5,119.6" fill="#0bbdbd"/>
<polygon points="424.8,156.4 428.5,151.9 432.8,149.6 429.1,153.7" fill="#465efb"/>
<polygon points="485.1,125.4 488.8,125.3 493.0,123.6 489.3,123.7" fill="#01b8ca"/>
<polygon points="437.0,147.3 440.7,143.9 444.9,141.9 441.2,145.0" fill="#327cfc"/>
<polygon points="508.9,121.1 512.6,122.3 516.8,120.4 513.1,119.2" fill="#0bbdbd"/>
<polygon points="617.0,168.1 620.7,171.8 625.0,169.2 621.3,165.3" fill="#4741e5"/>
<polygon points="493.0,123.6 496.7,123.9 500.9,122.1 497.3,121.8" fill="#02bac3"/>
<polygon points="500.9,122.1 504.6,122.9 508.9,121.1 505.2,120.3" fill="#0bbdbd"/>
<polygon points="605.4,162.7 609.1,167.2 613.3,164.2 609.7,159.6" fill="#4852f4"/>
<polygon points="628.6,172.6 632.3,175.1 636.6,172.7 632.9,170.1" fill="#4332cb"/>
<polygon points="579.1,134.2 582.8,139.0 587.0,135.8 583.3,131.0" fill="#1ca9df"/>
<polygon points="536.3,121.9 540.0,124.3 544.2,122.0 540.6,119.6" fill="#0bbdbd"/>
<polygon points="555.9,125.0 559.5,128.5 563.8,125.7 560.1,122.3" fill="#02bac3"/>
<polygon points="457.1,135.5 460.8,133.7 465.0,132.0 461.3,133.6" fill="#23a0e5"/>
<polygon points="567.5,129.4 571.1,133.2 575.4,130.0 571.7,126.5" fill="#12b1d6"/>
<polygon points="582.8,139.0 586.4,144.2 590.7,141.0 587.0,135.8" fill="#259be8"/>
<polygon points="586.4,144.2 590.1,150.3 594.4,147.0 590.7,141.0" fill="#2b91ef"/>
<polygon points="590.1,150.3 593.8,155.9 598.0,152.6 594.4,147.0" fill="#327cfc"/>
<polygon points="609.1,167.2 612.8,170.9 617.0,168.1 613.3,164.2" fill="#4747eb"/>
<polygon points="528.4,121.9 532.1,124.1 536.3,121.9 532.6,119.7" fill="#19bfb6"/>
<polygon points="620.7,171.8 624.4,175.1 628.6,172.6 625.0,169.2" fill="#4537d5"/>
<polygon points="593.8,155.9 597.5,161.0 601.7,157.9 598.0,152.6" fill="#4269fe"/>
<polygon points="547.9,124.6 551.6,127.6 555.9,125.0 552.2,122.1" fill="#02bac3"/>
<polygon points="465.0,132.0 468.7,130.9 472.9,129.3 469.3,130.3" fill="#18addb"/>
<polygon points="597.5,161.0 601.2,165.8 605.4,162.7 601.7,157.9" fill="#465efb"/>
<polygon points="571.1,133.2 574.8,137.4 579.1,134.2 575.4,130.0" fill="#18addb"/>
<polygon points="559.5,128.5 563.2,132.4 567.5,129.4 563.8,125.7" fill="#01b8ca"/>
<polygon points="520.5,122.0 524.2,124.0 528.4,121.9 524.7,120.0" fill="#19bfb6"/>
<polygon points="444.9,141.9 448.6,139.1 452.9,137.4 449.2,139.8" fill="#2b91ef"/>
<polygon points="648.2,173.2 651.9,174.4 656.1,172.2 652.4,171.0" fill="#4537d5"/>
<polygon points="640.2,174.3 643.9,175.5 648.2,173.2 644.5,172.0" fill="#4332cb"/>
<polygon points="420.6,159.1 424.3,154.2 428.5,151.9 424.8,156.4" fill="#465efb"/>
<polygon points="612.8,170.9 616.5,174.4 620.7,171.8 617.0,168.1" fill="#4741e5"/>
<polygon points="540.0,124.3 543.7,127.1 547.9,124.6 544.2,122.0" fill="#0bbdbd"/>
<polygon points="472.9,129.3 476.6,128.7 480.9,127.1 477.2,127.6" fill="#08b5d0"/>
<polygon points="512.6,122.3 516.2,124.0 520.5,122.0 516.8,120.4" fill="#19bfb6"/>
<polygon points="632.3,175.1 636.0,176.6 640.2,174.3 636.6,172.7" fill="#4332cb"/>
<polygon points="601.2,165.8 604.9,170.2 609.1,167.2 605.4,162.7" fill="#4852f4"/>
<polygon points="574.8,137.4 578.5,142.3 582.8,139.0 579.1,134.2" fill="#20a5e3"/>
<polygon points="432.8,149.6 436.5,145.8 440.7,143.9 437.0,147.3" fill="#327cfc"/>
<polygon points="504.6,122.9 508.3,124.2 512.6,122.3 508.9,121.1" fill="#19bfb6"/>
<polygon points="480.9,127.1 484.5,126.9 488.8,125.3 485.1,125.4" fill="#01b8ca"/>
<polygon points="624.4,175.1 628.1,177.4 632.3,175.1 628.6,172.6" fill="#4537d5"/>
<polygon points="563.2,132.4 566.9,136.3 571.1,133.2 567.5,129.4" fill="#12b1d6"/>
<polygon points="551.6,127.6 555.3,131.3 559.5,128.5 555.9,125.0" fill="#02bac3"/>
<polygon points="578.5,142.3 582.2,147.5 586.4,144.2 582.8,139.0" fill="#259be8"/>
<polygon points="496.7,123.9 500.4,124.7 504.6,122.9 500.9,122.1" fill="#19bfb6"/>
<polygon points="488.8,125.3 492.5,125.5 496.7,123.9 493.0,123.6" fill="#0bbdbd"/>
<polygon points="582.2,147.5 585.9,153.6 590.1,150.3 586.4,144.2" fill="#2d8cf3"/>
<polygon points="585.9,153.6 589.6,159.1 593.8,155.9 590.1,150.3" fill="#327cfc"/>
<polygon points="532.1,124.1 535.8,126.7 540.0,124.3 536.3,121.9" fill="#19bfb6"/>
<polygon points="589.6,159.1 593.3,164.2 597.5,161.0 593.8,155.9" fill="#4269fe"/>
<polygon points="604.9,170.2 608.6,173.7 612.8,170.9 609.1,167.2" fill="#4747eb"/>
<polygon points="452.9,137.4 456.5,135.3 460.8,133.7 457.1,135.5" fill="#20a5e3"/>
<polygon points="616.5,174.4 620.2,177.5 624.4,175.1 620.7,171.8" fill="#4537d5"/>
<polygon points="524.2,124.0 527.8,126.3 532.1,124.1 528.4,121.9" fill="#19bfb6"/>
<polygon points="566.9,136.3 570.6,140.6 574.8,137.4 571.1,133.2" fill="#18addb"/>
<polygon points="593.3,164.2 596.9,168.9 601.2,165.8 597.5,161.0" fill="#4758f8"/>
<polygon points="543.7,127.1 547.4,130.3 551.6,127.6 547.9,124.6" fill="#0bbdbd"/>
<polygon points="555.3,131.3 559.0,135.4 563.2,132.4 559.5,128.5" fill="#08b5d0"/>
<polygon points="516.2,124.0 519.9,126.1 524.2,124.0 520.5,122.0" fill="#24c1ae"/>
<polygon points="570.6,140.6 574.3,145.5 578.5,142.3 574.8,137.4" fill="#20a5e3"/>
<polygon points="460.8,133.7 464.5,132.4 468.7,130.9 465.0,132.0" fill="#12b1d6"/>
<polygon points="596.9,168.9 600.6,173.1 604.9,170.2 601.2,165.8" fill="#484df0"/>
<polygon points="608.6,173.7 612.2,177.1 616.5,174.4 612.8,170.9" fill="#4741e5"/>
<polygon points="651.9,174.4 655.5,175.5 659.8,173.2 656.1,172.2" fill="#463cde"/>
<polygon points="440.7,143.9 444.4,140.8 448.6,139.1 444.9,141.9" fill="#2797eb"/>
<polygon points="643.9,175.5 647.6,176.7 651.9,174.4 648.2,173.2" fill="#4537d5"/>
<polygon points="416.4,161.7 420.1,156.4 424.3,154.2 420.6,159.1" fill="#465efb"/>
<polygon points="535.8,126.7 539.5,129.7 543.7,127.1 540.0,124.3" fill="#0bbdbd"/>
<polygon points="636.0,176.6 639.7,177.7 643.9,175.5 640.2,174.3" fill="#4537d5"/>
<polygon points="628.1,177.4 631.8,178.9 636.0,176.6 632.3,175.1" fill="#4332cb"/>
<polygon points="574.3,145.5 578.0,150.8 582.2,147.5 578.5,142.3" fill="#2797eb"/>
<polygon points="559.0,135.4 562.7,139.5 566.9,136.3 563.2,132.4" fill="#12b1d6"/>
<polygon points="578.0,150.8 581.6,156.9 585.9,153.6 582.2,147.5" fill="#2d8cf3"/>
<polygon points="581.6,156.9 585.3,162.4 589.6,159.1 585.9,153.6" fill="#3875fe"/>
<polygon points="508.3,124.2 512.0,125.9 516.2,124.0 512.6,122.3" fill="#24c1ae"/>
<polygon points="547.4,130.3 551.1,134.2 555.3,131.3 551.6,127.6" fill="#02bac3"/>
<polygon points="428.5,151.9 432.2,147.7 436.5,145.8 432.8,149.6" fill="#2f81fa"/>
<polygon points="468.7,130.9 472.4,130.2 476.6,128.7 472.9,129.3" fill="#01b8ca"/>
<polygon points="620.2,177.5 623.8,179.7 628.1,177.4 624.4,175.1" fill="#4537d5"/>
<polygon points="585.3,162.4 589.0,167.4 593.3,164.2 589.6,159.1" fill="#4563fd"/>
<polygon points="500.4,124.7 504.1,126.0 508.3,124.2 504.6,122.9" fill="#24c1ae"/>
<polygon points="600.6,173.1 604.3,176.5 608.6,173.7 604.9,170.2" fill="#4741e5"/>
<polygon points="527.8,126.3 531.5,129.0 535.8,126.7 532.1,124.1" fill="#19bfb6"/>
<polygon points="476.6,128.7 480.3,128.4 484.5,126.9 480.9,127.1" fill="#02bac3"/>
<polygon points="492.5,125.5 496.2,126.3 500.4,124.7 496.7,123.9" fill="#19bfb6"/>
<polygon points="484.5,126.9 488.2,127.1 492.5,125.5 488.8,125.3" fill="#19bfb6"/>
<polygon points="562.7,139.5 566.4,143.9 570.6,140.6 566.9,136.3" fill="#1ca9df"/>
<polygon points="589.0,167.4 592.7,171.9 596.9,168.9 593.3,164.2" fill="#4758f8"/>
<polygon points="612.2,177.1 615.9,180.0 620.2,177.5 616.5,174.4" fill="#463cde"/>
<polygon points="551.1,134.2 554.7,138.5 559.0,135.4 555.3,131.3" fill="#08b5d0"/>
<polygon points="539.5,129.7 543.1,133.0 547.4,130.3 543.7,127.1" fill="#0bbdbd"/>
<polygon points="448.6,139.1 452.3,136.8 456.5,135.3 452.9,137.4" fill="#1ca9df"/>
<polygon points="519.9,126.1 523.6,128.5 527.8,126.3 524.2,124.0" fill="#24c1ae"/>
<polygon points="566.4,143.9 570.0,148.8 574.3,145.5 570.6,140.6" fill="#23a0e5"/>
<polygon points="592.7,171.9 596.4,176.0 600.6,173.1 596.9,168.9" fill="#484df0"/>
<polygon points="570.0,148.8 573.7,154.1 578.0,150.8 574.3,145.5" fill="#2797eb"/>
<polygon points="604.3,176.5 608.0,179.7 612.2,177.1 608.6,173.7" fill="#463cde"/>
<polygon points="573.7,154.1 577.4,160.2 581.6,156.9 578.0,150.8" fill="#2e87f7"/>
<polygon points="577.4,160.2 581.1,165.7 585.3,162.4 581.6,156.9" fill="#3875fe"/>
<polygon points="554.7,138.5 558.4,142.7 562.7,139.5 559.0,135.4" fill="#18addb"/>
<polygon points="512.0,125.9 515.7,128.1 519.9,126.1 516.2,124.0" fill="#24c1ae"/>
<polygon points="412.1,164.4 415.8,158.5 420.1,156.4 416.4,161.7" fill="#465efb"/>
<polygon points="531.5,129.0 535.2,132.2 539.5,129.7 535.8,126.7" fill="#19bfb6"/>
<polygon points="647.6,176.7 651.3,177.7 655.5,175.5 651.9,174.4" fill="#463cde"/>
<polygon points="655.5,175.5 659.2,176.5 663.5,174.2 659.8,173.2" fill="#4741e5"/>
<polygon points="639.7,177.7 643.4,178.9 647.6,176.7 643.9,175.5" fill="#463cde"/>
<polygon points="631.8,178.9 635.5,180.0 639.7,177.7 636.0,176.6" fill="#4537d5"/>
<polygon points="581.1,165.7 584.8,170.5 589.0,167.4 585.3,162.4" fill="#4563fd"/>
<polygon points="623.8,179.7 627.5,181.2 631.8,178.9 628.1,177.4" fill="#4537d5"/>
<polygon points="543.1,133.0 546.8,137.0 551.1,134.2 547.4,130.3" fill="#02bac3"/>
<polygon points="456.5,135.3 460.2,133.8 464.5,132.4 460.8,133.7" fill="#08b5d0"/>
<polygon points="436.5,145.8 440.1,142.4 444.4,140.8 440.7,143.9" fill="#259be8"/>
<polygon points="615.9,180.0 619.6,182.1 623.8,179.7 620.2,177.5" fill="#4537d5"/>
<polygon points="596.4,176.0 600.1,179.3 604.3,176.5 600.6,173.1" fill="#4741e5"/>
<polygon points="504.1,126.0 507.8,127.8 512.0,125.9 508.3,124.2" fill="#2cc4a7"/>
<polygon points="424.3,154.2 428.0,149.5 432.2,147.7 428.5,151.9" fill="#2f81fa"/>
<polygon points="558.4,142.7 562.1,147.2 566.4,143.9 562.7,139.5" fill="#1ca9df"/>
<polygon points="584.8,170.5 588.5,175.0 592.7,171.9 589.0,167.4" fill="#4758f8"/>
<polygon points="523.6,128.5 527.3,131.4 531.5,129.0 527.8,126.3" fill="#24c1ae"/>
<polygon points="464.5,132.4 468.1,131.6 472.4,130.2 468.7,130.9" fill="#02bac3"/>
<polygon points="546.8,137.0 550.5,141.5 554.7,138.5 551.1,134.2" fill="#08b5d0"/>
<polygon points="496.2,126.3 499.8,127.7 504.1,126.0 500.4,124.7" fill="#2cc4a7"/>
<polygon points="608.0,179.7 611.7,182.4 615.9,180.0 612.2,177.1" fill="#463cde"/>
<polygon points="562.1,147.2 565.8,152.1 570.0,148.8 566.4,143.9" fill="#23a0e5"/>
<polygon points="472.4,130.2 476.1,129.9 480.3,128.4 476.6,128.7" fill="#0bbdbd"/>
<polygon points="535.2,132.2 538.9,135.7 543.1,133.0 539.5,129.7" fill="#0bbdbd"/>
<polygon points="488.2,127.1 491.9,127.9 496.2,126.3 492.5,125.5" fill="#24c1ae"/>
<polygon points="480.3,128.4 484.0,128.6 488.2,127.1 484.5,126.9" fill="#24c1ae"/>
<polygon points="588.5,175.0 592.2,179.0 596.4,176.0 592.7,171.9" fill="#484df0"/>
<polygon points="565.8,152.1 569.5,157.5 573.7,154.1 570.0,148.8" fill="#2b91ef"/>
<polygon points="569.5,157.5 573.2,163.5 577.4,160.2 573.7,154.1" fill="#2e87f7"/>
<polygon points="515.7,128.1 519.4,130.7 523.6,128.5 519.9,126.1" fill="#24c1ae"/>
<polygon points="573.2,163.5 576.9,168.9 581.1,165.7 577.4,160.2" fill="#3e6fff"/>
<polygon points="550.5,141.5 554.2,145.9 558.4,142.7 554.7,138.5" fill="#18addb"/>
<polygon points="444.4,140.8 448.1,138.2 452.3,136.8 448.6,139.1" fill="#18addb"/>
<polygon points="600.1,179.3 603.8,182.3 608.0,179.7 604.3,176.5" fill="#463cde"/>
<polygon points="576.9,168.9 580.5,173.7 584.8,170.5 581.1,165.7" fill="#465efb"/>
<polygon points="407.9,167.1 411.6,160.7 415.8,158.5 412.1,164.4" fill="#465efb"/>
<polygon points="527.3,131.4 531.0,134.6 535.2,132.2 531.5,129.0" fill="#19bfb6"/>
<polygon points="538.9,135.7 542.6,139.9 546.8,137.0 543.1,133.0" fill="#02bac3"/>
<polygon points="643.4,178.9 647.1,180.0 651.3,177.7 647.6,176.7" fill="#4741e5"/>
<polygon points="651.3,177.7 655.0,178.8 659.2,176.5 655.5,175.5" fill="#4741e5"/>
<polygon points="659.2,176.5 662.9,177.7 667.1,175.3 663.5,174.2" fill="#4747eb"/>
<polygon points="635.5,180.0 639.1,181.2 643.4,178.9 639.7,177.7" fill="#463cde"/>
<polygon points="627.5,181.2 631.2,182.3 635.5,180.0 631.8,178.9" fill="#4537d5"/>
<polygon points="507.8,127.8 511.4,130.1 515.7,128.1 512.0,125.9" fill="#2cc4a7"/>
<polygon points="619.6,182.1 623.3,183.5 627.5,181.2 623.8,179.7" fill="#4537d5"/>
<polygon points="554.2,145.9 557.9,150.4 562.1,147.2 558.4,142.7" fill="#20a5e3"/>
<polygon points="592.2,179.0 595.8,182.1 600.1,179.3 596.4,176.0" fill="#4741e5"/>
<polygon points="580.5,173.7 584.2,178.0 588.5,175.0 584.8,170.5" fill="#4852f4"/>
<polygon points="611.7,182.4 615.4,184.4 619.6,182.1 615.9,180.0" fill="#4537d5"/>
<polygon points="432.2,147.7 435.9,143.9 440.1,142.4 436.5,145.8" fill="#259be8"/>
<polygon points="452.3,136.8 456.0,135.1 460.2,133.8 456.5,135.3" fill="#01b8ca"/>
<polygon points="420.1,156.4 423.7,151.3 428.0,149.5 424.3,154.2" fill="#2f81fa"/>
<polygon points="557.9,150.4 561.6,155.4 565.8,152.1 562.1,147.2" fill="#259be8"/>
<polygon points="542.6,139.9 546.3,144.6 550.5,141.5 546.8,137.0" fill="#08b5d0"/>
<polygon points="499.8,127.7 503.5,129.6 507.8,127.8 504.1,126.0" fill="#2cc4a7"/>
<polygon points="519.4,130.7 523.1,133.7 527.3,131.4 523.6,128.5" fill="#24c1ae"/>
<polygon points="603.8,182.3 607.4,184.9 611.7,182.4 608.0,179.7" fill="#463cde"/>
<polygon points="561.6,155.4 565.2,160.8 569.5,157.5 565.8,152.1" fill="#2b91ef"/>
<polygon points="565.2,160.8 568.9,166.8 573.2,163.5 569.5,157.5" fill="#2f81fa"/>
<polygon points="531.0,134.6 534.7,138.3 538.9,135.7 535.2,132.2" fill="#0bbdbd"/>
<polygon points="584.2,178.0 587.9,181.9 592.2,179.0 588.5,175.0" fill="#4747eb"/>
<polygon points="568.9,166.8 572.6,172.2 576.9,168.9 573.2,163.5" fill="#3e6fff"/>
<polygon points="460.2,133.8 463.9,132.9 468.1,131.6 464.5,132.4" fill="#0bbdbd"/>
<polygon points="491.9,127.9 495.6,129.3 499.8,127.7 496.2,126.3" fill="#31c69f"/>
<polygon points="546.3,144.6 550.0,149.1 554.2,145.9 550.5,141.5" fill="#18addb"/>
<polygon points="572.6,172.2 576.3,176.8 580.5,173.7 576.9,168.9" fill="#465efb"/>
<polygon points="595.8,182.1 599.5,184.9 603.8,182.3 600.1,179.3" fill="#463cde"/>
<polygon points="468.1,131.6 471.8,131.2 476.1,129.9 472.4,130.2" fill="#24c1ae"/>
<polygon points="484.0,128.6 487.7,129.5 491.9,127.9 488.2,127.1" fill="#2cc4a7"/>
<polygon points="511.4,130.1 515.1,132.8 519.4,130.7 515.7,128.1" fill="#2cc4a7"/>
<polygon points="476.1,129.9 479.8,130.0 484.0,128.6 480.3,128.4" fill="#2cc4a7"/>
<polygon points="550.0,149.1 553.6,153.7 557.9,150.4 554.2,145.9" fill="#20a5e3"/>
<polygon points="534.7,138.3 538.3,142.7 542.6,139.9 538.9,135.7" fill="#02bac3"/>
<polygon points="403.7,169.8 407.3,162.8 411.6,160.7 407.9,167.1" fill="#465efb"/>
<polygon points="523.1,133.7 526.7,137.1 531.0,134.6 527.3,131.4" fill="#19bfb6"/>
<polygon points="440.1,142.4 443.8,139.5 448.1,138.2 444.4,140.8" fill="#12b1d6"/>
<polygon points="662.9,177.7 666.6,179.1 670.8,176.6 667.1,175.3" fill="#484df0"/>
<polygon points="576.3,176.8 580.0,181.1 584.2,178.0 580.5,173.7" fill="#4852f4"/>
<polygon points="655.0,178.8 658.7,180.1 662.9,177.7 659.2,176.5" fill="#4747eb"/>
<polygon points="587.9,181.9 591.6,184.8 595.8,182.1 592.2,179.0" fill="#4741e5"/>
<polygon points="647.1,180.0 650.7,181.2 655.0,178.8 651.3,177.7" fill="#4747eb"/>
<polygon points="639.1,181.2 642.8,182.3 647.1,180.0 643.4,178.9" fill="#4741e5"/>
<polygon points="631.2,182.3 634.9,183.4 639.1,181.2 635.5,180.0" fill="#4741e5"/>
<polygon points="623.3,183.5 627.0,184.5 631.2,182.3 627.5,181.2" fill="#463cde"/>
<polygon points="615.4,184.4 619.1,185.8 623.3,183.5 619.6,182.1" fill="#4537d5"/>
<polygon points="553.6,153.7 557.3,158.8 561.6,155.4 557.9,150.4" fill="#259be8"/>
<polygon points="503.5,129.6 507.2,132.0 511.4,130.1 507.8,127.8" fill="#31c69f"/>
<polygon points="607.4,184.9 611.1,186.8 615.4,184.4 611.7,182.4" fill="#4537d5"/>
<polygon points="538.3,142.7 542.0,147.6 546.3,144.6 542.6,139.9" fill="#08b5d0"/>
<polygon points="557.3,158.8 561.0,164.2 565.2,160.8 561.6,155.4" fill="#2d8cf3"/>
<polygon points="561.0,164.2 564.7,170.1 568.9,166.8 565.2,160.8" fill="#327cfc"/>
<polygon points="564.7,170.1 568.4,175.4 572.6,172.2 568.9,166.8" fill="#4269fe"/>
<polygon points="428.0,149.5 431.7,145.3 435.9,143.9 432.2,147.7" fill="#23a0e5"/>
<polygon points="580.0,181.1 583.7,184.8 587.9,181.9 584.2,178.0" fill="#4747eb"/>
<polygon points="599.5,184.9 603.2,187.4 607.4,184.9 603.8,182.3" fill="#463cde"/>
<polygon points="415.8,158.5 419.5,152.9 423.7,151.3 420.1,156.4" fill="#2e87f7"/>
<polygon points="515.1,132.8 518.8,136.0 523.1,133.7 519.4,130.7" fill="#2cc4a7"/>
<polygon points="542.0,147.6 545.7,152.3 550.0,149.1 546.3,144.6" fill="#18addb"/>
<polygon points="526.7,137.1 530.4,141.0 534.7,138.3 531.0,134.6" fill="#0bbdbd"/>
<polygon points="495.6,129.3 499.3,131.3 503.5,129.6 499.8,127.7" fill="#31c69f"/>
<polygon points="448.1,138.2 451.7,136.3 456.0,135.1 452.3,136.8" fill="#02bac3"/>
<polygon points="568.4,175.4 572.1,180.0 576.3,176.8 572.6,172.2" fill="#4758f8"/>
<polygon points="591.6,184.8 595.3,187.5 599.5,184.9 595.8,182.1" fill="#463cde"/>
<polygon points="545.7,152.3 549.4,157.1 553.6,153.7 550.0,149.1" fill="#23a0e5"/>
<polygon points="487.7,129.5 491.4,130.9 495.6,129.3 491.9,127.9" fill="#37c897"/>
<polygon points="456.0,135.1 459.7,134.0 463.9,132.9 460.2,133.8" fill="#19bfb6"/>
<polygon points="530.4,141.0 534.1,145.6 538.3,142.7 534.7,138.3" fill="#02bac3"/>
<polygon points="572.1,180.0 575.8,184.1 580.0,181.1 576.3,176.8" fill="#484df0"/>
<polygon points="507.2,132.0 510.9,134.9 515.1,132.8 511.4,130.1" fill="#31c69f"/>
<polygon points="549.4,157.1 553.1,162.1 557.3,158.8 553.6,153.7" fill="#2797eb"/>
<polygon points="583.7,184.8 587.4,187.6 591.6,184.8 587.9,181.9" fill="#4741e5"/>
<polygon points="479.8,130.0 483.4,130.9 487.7,129.5 484.0,128.6" fill="#37c897"/>
<polygon points="666.6,179.1 670.3,180.5 674.5,178.0 670.8,176.6" fill="#4852f4"/>
<polygon points="399.4,172.5 403.1,164.8 407.3,162.8 403.7,169.8" fill="#465efb"/>
<polygon points="518.8,136.0 522.5,139.6 526.7,137.1 523.1,133.7" fill="#24c1ae"/>
<polygon points="463.9,132.9 467.6,132.4 471.8,131.2 468.1,131.6" fill="#2cc4a7"/>
<polygon points="658.7,180.1 662.4,181.5 666.6,179.1 662.9,177.7" fill="#484df0"/>
<polygon points="650.7,181.2 654.4,182.5 658.7,180.1 655.0,178.8" fill="#484df0"/>
<polygon points="471.8,131.2 475.5,131.3 479.8,130.0 476.1,129.9" fill="#31c69f"/>
<polygon points="642.8,182.3 646.5,183.5 650.7,181.2 647.1,180.0" fill="#4747eb"/>
<polygon points="553.1,162.1 556.8,167.5 561.0,164.2 557.3,158.8" fill="#2d8cf3"/>
<polygon points="634.9,183.4 638.6,184.7 642.8,182.3 639.1,181.2" fill="#4741e5"/>
<polygon points="534.1,145.6 537.8,150.7 542.0,147.6 538.3,142.7" fill="#08b5d0"/>
<polygon points="627.0,184.5 630.7,185.8 634.9,183.4 631.2,182.3" fill="#4741e5"/>
<polygon points="619.1,185.8 622.7,186.9 627.0,184.5 623.3,183.5" fill="#463cde"/>
<polygon points="556.8,167.5 560.5,173.5 564.7,170.1 561.0,164.2" fill="#327cfc"/>
<polygon points="611.1,186.8 614.8,188.1 619.1,185.8 615.4,184.4" fill="#463cde"/>
<polygon points="560.5,173.5 564.1,178.7 568.4,175.4 564.7,170.1" fill="#4269fe"/>
<polygon points="603.2,187.4 606.9,189.2 611.1,186.8 607.4,184.9" fill="#463cde"/>
<polygon points="435.9,143.9 439.6,140.7 443.8,139.5 440.1,142.4" fill="#08b5d0"/>
<polygon points="575.8,184.1 579.4,187.7 583.7,184.8 580.0,181.1" fill="#4747eb"/>
<polygon points="499.3,131.3 503.0,133.9 507.2,132.0 503.5,129.6" fill="#37c897"/>
<polygon points="537.8,150.7 541.5,155.5 545.7,152.3 542.0,147.6" fill="#1ca9df"/>
<polygon points="564.1,178.7 567.8,183.1 572.1,180.0 568.4,175.4" fill="#4758f8"/>
<polygon points="595.3,187.5 599.0,189.9 603.2,187.4 599.5,184.9" fill="#463cde"/>
<polygon points="522.5,139.6 526.2,143.7 530.4,141.0 526.7,137.1" fill="#0bbdbd"/>
<polygon points="510.9,134.9 514.6,138.2 518.8,136.0 515.1,132.8" fill="#2cc4a7"/>
<polygon points="411.6,160.7 415.3,154.5 419.5,152.9 415.8,158.5" fill="#2e87f7"/>
<polygon points="541.5,155.5 545.2,160.4 549.4,157.1 545.7,152.3" fill="#23a0e5"/>
<polygon points="423.7,151.3 427.4,146.6 431.7,145.3 428.0,149.5" fill="#20a5e3"/>
<polygon points="587.4,187.6 591.0,190.2 595.3,187.5 591.6,184.8" fill="#463cde"/>
<polygon points="491.4,130.9 495.0,133.0 499.3,131.3 495.6,129.3" fill="#37c897"/>
<polygon points="567.8,183.1 571.5,187.1 575.8,184.1 572.1,180.0" fill="#484df0"/>
<polygon points="545.2,160.4 548.8,165.5 553.1,162.1 549.4,157.1" fill="#2797eb"/>
<polygon points="526.2,143.7 529.9,148.5 534.1,145.6 530.4,141.0" fill="#02bac3"/>
<polygon points="443.8,139.5 447.5,137.4 451.7,136.3 448.1,138.2" fill="#0bbdbd"/>
<polygon points="579.4,187.7 583.1,190.4 587.4,187.6 583.7,184.8" fill="#463cde"/>
<polygon points="548.8,165.5 552.5,170.9 556.8,167.5 553.1,162.1" fill="#2e87f7"/>
<polygon points="552.5,170.9 556.2,176.8 560.5,173.5 556.8,167.5" fill="#3875fe"/>
<polygon points="670.3,180.5 674.0,182.1 678.2,179.5 674.5,178.0" fill="#4852f4"/>
<polygon points="529.9,148.5 533.6,153.8 537.8,150.7 534.1,145.6" fill="#08b5d0"/>
<polygon points="662.4,181.5 666.0,183.0 670.3,180.5 666.6,179.1" fill="#4852f4"/>
<polygon points="503.0,133.9 506.7,136.9 510.9,134.9 507.2,132.0" fill="#31c69f"/>
<polygon points="556.2,176.8 559.9,181.9 564.1,178.7 560.5,173.5" fill="#4563fd"/>
<polygon points="483.4,130.9 487.1,132.4 491.4,130.9 487.7,129.5" fill="#3fca8e"/>
<polygon points="395.2,175.2 398.9,166.8 403.1,164.8 399.4,172.5" fill="#465efb"/>
<polygon points="514.6,138.2 518.3,142.1 522.5,139.6 518.8,136.0" fill="#24c1ae"/>
<polygon points="654.4,182.5 658.1,184.0 662.4,181.5 658.7,180.1" fill="#484df0"/>
<polygon points="646.5,183.5 650.2,185.0 654.4,182.5 650.7,181.2" fill="#484df0"/>
<polygon points="638.6,184.7 642.3,185.9 646.5,183.5 642.8,182.3" fill="#4747eb"/>
<polygon points="630.7,185.8 634.3,187.0 638.6,184.7 634.9,183.4" fill="#4747eb"/>
<polygon points="451.7,136.3 455.4,135.0 459.7,134.0 456.0,135.1" fill="#2cc4a7"/>
<polygon points="622.7,186.9 626.4,188.1 630.7,185.8 627.0,184.5" fill="#4741e5"/>
<polygon points="614.8,188.1 618.5,189.2 622.7,186.9 619.1,185.8" fill="#463cde"/>
<polygon points="606.9,189.2 610.6,190.5 614.8,188.1 611.1,186.8" fill="#463cde"/>
<polygon points="533.6,153.8 537.2,158.8 541.5,155.5 537.8,150.7" fill="#1ca9df"/>
<polygon points="571.5,187.1 575.2,190.6 579.4,187.7 575.8,184.1" fill="#4741e5"/>
<polygon points="599.0,189.9 602.7,191.6 606.9,189.2 603.2,187.4" fill="#463cde"/>
<polygon points="475.5,131.3 479.2,132.2 483.4,130.9 479.8,130.0" fill="#3fca8e"/>
<polygon points="559.9,181.9 563.6,186.3 567.8,183.1 564.1,178.7" fill="#4852f4"/>
<polygon points="459.7,134.0 463.4,133.4 467.6,132.4 463.9,132.9" fill="#31c69f"/>
<polygon points="467.6,132.4 471.3,132.5 475.5,131.3 471.8,131.2" fill="#37c897"/>
<polygon points="537.2,158.8 540.9,163.8 545.2,160.4 541.5,155.5" fill="#259be8"/>
<polygon points="591.0,190.2 594.7,192.4 599.0,189.9 595.3,187.5" fill="#463cde"/>
<polygon points="518.3,142.1 521.9,146.4 526.2,143.7 522.5,139.6" fill="#19bfb6"/>
<polygon points="495.0,133.0 498.7,135.7 503.0,133.9 499.3,131.3" fill="#3fca8e"/>
<polygon points="431.7,145.3 435.3,141.8 439.6,140.7 435.9,143.9" fill="#01b8ca"/>
<polygon points="540.9,163.8 544.6,168.9 548.8,165.5 545.2,160.4" fill="#2b91ef"/>
<polygon points="506.7,136.9 510.3,140.5 514.6,138.2 510.9,134.9" fill="#31c69f"/>
<polygon points="583.1,190.4 586.8,192.8 591.0,190.2 587.4,187.6" fill="#463cde"/>
<polygon points="563.6,186.3 567.3,190.1 571.5,187.1 567.8,183.1" fill="#484df0"/>
<polygon points="544.6,168.9 548.3,174.3 552.5,170.9 548.8,165.5" fill="#2f81fa"/>
<polygon points="407.3,162.8 411.0,156.0 415.3,154.5 411.6,160.7" fill="#2d8cf3"/>
<polygon points="521.9,146.4 525.6,151.4 529.9,148.5 526.2,143.7" fill="#02bac3"/>
<polygon points="548.3,174.3 552.0,180.2 556.2,176.8 552.5,170.9" fill="#3875fe"/>
<polygon points="575.2,190.6 578.9,193.1 583.1,190.4 579.4,187.7" fill="#463cde"/>
<polygon points="552.0,180.2 555.7,185.2 559.9,181.9 556.2,176.8" fill="#465efb"/>
<polygon points="419.5,152.9 423.2,147.8 427.4,146.6 423.7,151.3" fill="#1ca9df"/>
<polygon points="525.6,151.4 529.3,157.0 533.6,153.8 529.9,148.5" fill="#12b1d6"/>
<polygon points="487.1,132.4 490.8,134.6 495.0,133.0 491.4,130.9" fill="#3fca8e"/>
<polygon points="666.0,183.0 669.7,184.7 674.0,182.1 670.3,180.5" fill="#4758f8"/>
<polygon points="658.1,184.0 661.8,185.6 666.0,183.0 662.4,181.5" fill="#4852f4"/>
<polygon points="529.3,157.0 533.0,162.1 537.2,158.8 533.6,153.8" fill="#20a5e3"/>
<polygon points="650.2,185.0 653.9,186.5 658.1,184.0 654.4,182.5" fill="#4852f4"/>
<polygon points="510.3,140.5 514.0,144.6 518.3,142.1 514.6,138.2" fill="#24c1ae"/>
<polygon points="390.9,177.9 394.6,168.8 398.9,166.8 395.2,175.2" fill="#465efb"/>
<polygon points="555.7,185.2 559.4,189.4 563.6,186.3 559.9,181.9" fill="#4852f4"/>
<polygon points="642.3,185.9 646.0,187.4 650.2,185.0 646.5,183.5" fill="#484df0"/>
<polygon points="439.6,140.7 443.3,138.3 447.5,137.4 443.8,139.5" fill="#24c1ae"/>
<polygon points="567.3,190.1 571.0,193.4 575.2,190.6 571.5,187.1" fill="#4741e5"/>
<polygon points="498.7,135.7 502.4,138.9 506.7,136.9 503.0,133.9" fill="#37c897"/>
<polygon points="634.3,187.0 638.0,188.4 642.3,185.9 638.6,184.7" fill="#484df0"/>
<polygon points="626.4,188.1 630.1,189.4 634.3,187.0 630.7,185.8" fill="#4747eb"/>
<polygon points="618.5,189.2 622.2,190.4 626.4,188.1 622.7,186.9" fill="#4741e5"/>
<polygon points="610.6,190.5 614.3,191.6 618.5,189.2 614.8,188.1" fill="#4741e5"/>
<polygon points="602.7,191.6 606.3,192.9 610.6,190.5 606.9,189.2" fill="#463cde"/>
<polygon points="533.0,162.1 536.7,167.2 540.9,163.8 537.2,158.8" fill="#259be8"/>
<polygon points="594.7,192.4 598.4,194.0 602.7,191.6 599.0,189.9" fill="#463cde"/>
<polygon points="479.2,132.2 482.9,133.8 487.1,132.4 483.4,130.9" fill="#4acb84"/>
<polygon points="536.7,167.2 540.4,172.4 544.6,168.9 540.9,163.8" fill="#2d8cf3"/>
<polygon points="586.8,192.8 590.5,194.9 594.7,192.4 591.0,190.2" fill="#463cde"/>
<polygon points="514.0,144.6 517.7,149.1 521.9,146.4 518.3,142.1" fill="#19bfb6"/>
<polygon points="447.5,137.4 451.2,135.9 455.4,135.0 451.7,136.3" fill="#31c69f"/>
<polygon points="559.4,189.4 563.0,193.2 567.3,190.1 563.6,186.3" fill="#4747eb"/>
<polygon points="540.4,172.4 544.1,177.8 548.3,174.3 544.6,168.9" fill="#2f81fa"/>
<polygon points="471.3,132.5 475.0,133.4 479.2,132.2 475.5,131.3" fill="#4acb84"/>
<polygon points="544.1,177.8 547.7,183.6 552.0,180.2 548.3,174.3" fill="#3e6fff"/>
<polygon points="578.9,193.1 582.6,195.4 586.8,192.8 583.1,190.4" fill="#463cde"/>
<polygon points="455.4,135.0 459.1,134.3 463.4,133.4 459.7,134.0" fill="#3fca8e"/>
<polygon points="463.4,133.4 467.0,133.5 471.3,132.5 467.6,132.4" fill="#4acb84"/>
<polygon points="490.8,134.6 494.5,137.5 498.7,135.7 495.0,133.0" fill="#3fca8e"/>
<polygon points="547.7,183.6 551.4,188.5 555.7,185.2 552.0,180.2" fill="#465efb"/>
<polygon points="517.7,149.1 521.4,154.4 525.6,151.4 521.9,146.4" fill="#02bac3"/>
<polygon points="502.4,138.9 506.1,142.7 510.3,140.5 506.7,136.9" fill="#31c69f"/>
<polygon points="571.0,193.4 574.6,195.9 578.9,193.1 575.2,190.6" fill="#463cde"/>
<polygon points="521.4,154.4 525.1,160.1 529.3,157.0 525.6,151.4" fill="#12b1d6"/>
<polygon points="427.4,146.6 431.1,142.7 435.3,141.8 431.7,145.3" fill="#02bac3"/>
<polygon points="525.1,160.1 528.8,165.4 533.0,162.1 529.3,157.0" fill="#20a5e3"/>
<polygon points="403.1,164.8 406.8,157.5 411.0,156.0 407.3,162.8" fill="#2d8cf3"/>
<polygon points="551.4,188.5 555.1,192.6 559.4,189.4 555.7,185.2" fill="#484df0"/>
<polygon points="661.8,185.6 665.5,187.3 669.7,184.7 666.0,183.0" fill="#4758f8"/>
<polygon points="653.9,186.5 657.6,188.1 661.8,185.6 658.1,184.0" fill="#4852f4"/>
<polygon points="563.0,193.2 566.7,196.3 571.0,193.4 567.3,190.1" fill="#4741e5"/>
<polygon points="528.8,165.4 532.5,170.6 536.7,167.2 533.0,162.1" fill="#2797eb"/>
<polygon points="646.0,187.4 649.6,189.0 653.9,186.5 650.2,185.0" fill="#4852f4"/>
<polygon points="415.3,154.5 418.9,148.9 423.2,147.8 419.5,152.9" fill="#18addb"/>
<polygon points="506.1,142.7 509.8,147.0 514.0,144.6 510.3,140.5" fill="#2cc4a7"/>
<polygon points="386.7,180.6 390.4,170.6 394.6,168.8 390.9,177.9" fill="#465efb"/>
<polygon points="638.0,188.4 641.7,189.9 646.0,187.4 642.3,185.9" fill="#484df0"/>
<polygon points="482.9,133.8 486.6,136.1 490.8,134.6 487.1,132.4" fill="#57cc7a"/>
<polygon points="630.1,189.4 633.8,190.8 638.0,188.4 634.3,187.0" fill="#484df0"/>
<polygon points="532.5,170.6 536.1,175.8 540.4,172.4 536.7,167.2" fill="#2d8cf3"/>
<polygon points="622.2,190.4 625.9,191.8 630.1,189.4 626.4,188.1" fill="#4747eb"/>
<polygon points="598.4,194.0 602.1,195.2 606.3,192.9 602.7,191.6" fill="#463cde"/>
<polygon points="606.3,192.9 610.0,194.0 614.3,191.6 610.6,190.5" fill="#4741e5"/>
<polygon points="614.3,191.6 617.9,192.8 622.2,190.4 618.5,189.2" fill="#4747eb"/>
<polygon points="590.5,194.9 594.2,196.4 598.4,194.0 594.7,192.4" fill="#463cde"/>
<polygon points="494.5,137.5 498.2,140.9 502.4,138.9 498.7,135.7" fill="#3fca8e"/>
<polygon points="536.1,175.8 539.8,181.2 544.1,177.8 540.4,172.4" fill="#327cfc"/>
<polygon points="539.8,181.2 543.5,187.0 547.7,183.6 544.1,177.8" fill="#4269fe"/>
<polygon points="555.1,192.6 558.8,196.2 563.0,193.2 559.4,189.4" fill="#4747eb"/>
<polygon points="582.6,195.4 586.3,197.4 590.5,194.9 586.8,192.8" fill="#463cde"/>
<polygon points="509.8,147.0 513.5,151.8 517.7,149.1 514.0,144.6" fill="#19bfb6"/>
<polygon points="435.3,141.8 439.0,139.0 443.3,138.3 439.6,140.7" fill="#2cc4a7"/>
<polygon points="543.5,187.0 547.2,191.8 551.4,188.5 547.7,183.6" fill="#4758f8"/>
<polygon points="574.6,195.9 578.3,198.0 582.6,195.4 578.9,193.1" fill="#463cde"/>
<polygon points="475.0,133.4 478.6,135.1 482.9,133.8 479.2,132.2" fill="#57cc7a"/>
<polygon points="513.5,151.8 517.2,157.3 521.4,154.4 517.7,149.1" fill="#02bac3"/>
<polygon points="517.2,157.3 520.8,163.3 525.1,160.1 521.4,154.4" fill="#12b1d6"/>
<polygon points="566.7,196.3 570.4,198.6 574.6,195.9 571.0,193.4" fill="#463cde"/>
<polygon points="520.8,163.3 524.5,168.8 528.8,165.4 525.1,160.1" fill="#20a5e3"/>
<polygon points="498.2,140.9 501.9,144.9 506.1,142.7 502.4,138.9" fill="#37c897"/>
<polygon points="547.2,191.8 550.9,195.8 555.1,192.6 551.4,188.5" fill="#484df0"/>
<polygon points="524.5,168.8 528.2,174.1 532.5,170.6 528.8,165.4" fill="#2797eb"/>
<polygon points="443.3,138.3 447.0,136.6 451.2,135.9 447.5,137.4" fill="#3fca8e"/>
<polygon points="467.0,133.5 470.7,134.4 475.0,133.4 471.3,132.5" fill="#64cd6f"/>
<polygon points="486.6,136.1 490.3,139.2 494.5,137.5 490.8,134.6" fill="#57cc7a"/>
<polygon points="558.8,196.2 562.5,199.2 566.7,196.3 563.0,193.2" fill="#463cde"/>
<polygon points="657.6,188.1 661.2,189.9 665.5,187.3 661.8,185.6" fill="#4758f8"/>
<polygon points="528.2,174.1 531.9,179.3 536.1,175.8 532.5,170.6" fill="#2e87f7"/>
<polygon points="459.1,134.3 462.8,134.4 467.0,133.5 463.4,133.4" fill="#57cc7a"/>
<polygon points="451.2,135.9 454.9,135.1 459.1,134.3 455.4,135.0" fill="#4acb84"/>
<polygon points="649.6,189.0 653.3,190.7 657.6,188.1 653.9,186.5" fill="#4852f4"/>
<polygon points="398.9,166.8 402.5,158.8 406.8,157.5 403.1,164.8" fill="#2b91ef"/>
<polygon points="641.7,189.9 645.4,191.5 649.6,189.0 646.0,187.4" fill="#4852f4"/>
<polygon points="531.9,179.3 535.6,184.7 539.8,181.2 536.1,175.8" fill="#3875fe"/>
<polygon points="423.2,147.8 426.9,143.5 431.1,142.7 427.4,146.6" fill="#0bbdbd"/>
<polygon points="501.9,144.9 505.5,149.5 509.8,147.0 506.1,142.7" fill="#2cc4a7"/>
<polygon points="633.8,190.8 637.5,192.4 641.7,189.9 638.0,188.4" fill="#4852f4"/>
<polygon points="535.6,184.7 539.3,190.4 543.5,187.0 539.8,181.2" fill="#4563fd"/>
<polygon points="625.9,191.8 629.6,193.3 633.8,190.8 630.1,189.4" fill="#484df0"/>
<polygon points="617.9,192.8 621.6,194.2 625.9,191.8 622.2,190.4" fill="#484df0"/>
<polygon points="594.2,196.4 597.9,197.7 602.1,195.2 598.4,194.0" fill="#4741e5"/>
<polygon points="550.9,195.8 554.6,199.2 558.8,196.2 555.1,192.6" fill="#4741e5"/>
<polygon points="602.1,195.2 605.8,196.4 610.0,194.0 606.3,192.9" fill="#4741e5"/>
<polygon points="610.0,194.0 613.7,195.2 617.9,192.8 614.3,191.6" fill="#4747eb"/>
<polygon points="586.3,197.4 589.9,198.9 594.2,196.4 590.5,194.9" fill="#463cde"/>
<polygon points="539.3,190.4 543.0,195.1 547.2,191.8 543.5,187.0" fill="#4852f4"/>
<polygon points="411.0,156.0 414.7,149.9 418.9,148.9 415.3,154.5" fill="#12b1d6"/>
<polygon points="578.3,198.0 582.0,199.9 586.3,197.4 582.6,195.4" fill="#463cde"/>
<polygon points="478.6,135.1 482.3,137.6 486.6,136.1 482.9,133.8" fill="#64cd6f"/>
<polygon points="505.5,149.5 509.2,154.6 513.5,151.8 509.8,147.0" fill="#19bfb6"/>
<polygon points="490.3,139.2 493.9,142.9 498.2,140.9 494.5,137.5" fill="#4acb84"/>
<polygon points="570.4,198.6 574.1,200.6 578.3,198.0 574.6,195.9" fill="#463cde"/>
<polygon points="509.2,154.6 512.9,160.3 517.2,157.3 513.5,151.8" fill="#02bac3"/>
<polygon points="512.9,160.3 516.6,166.5 520.8,163.3 517.2,157.3" fill="#12b1d6"/>
<polygon points="516.6,166.5 520.3,172.2 524.5,168.8 520.8,163.3" fill="#23a0e5"/>
<polygon points="520.3,172.2 524.0,177.6 528.2,174.1 524.5,168.8" fill="#2b91ef"/>
<polygon points="562.5,199.2 566.2,201.4 570.4,198.6 566.7,196.3" fill="#463cde"/>
<polygon points="543.0,195.1 546.6,198.9 550.9,195.8 547.2,191.8" fill="#4747eb"/>
<polygon points="524.0,177.6 527.7,182.9 531.9,179.3 528.2,174.1" fill="#2f81fa"/>
<polygon points="431.1,142.7 434.8,139.6 439.0,139.0 435.3,141.8" fill="#37c897"/>
<polygon points="470.7,134.4 474.4,136.3 478.6,135.1 475.0,133.4" fill="#72cd64"/>
<polygon points="554.6,199.2 558.2,202.1 562.5,199.2 558.8,196.2" fill="#463cde"/>
<polygon points="493.9,142.9 497.6,147.2 501.9,144.9 498.2,140.9" fill="#3fca8e"/>
<polygon points="527.7,182.9 531.3,188.3 535.6,184.7 531.9,179.3" fill="#3875fe"/>
<polygon points="653.3,190.7 657.0,192.5 661.2,189.9 657.6,188.1" fill="#4758f8"/>
<polygon points="531.3,188.3 535.0,193.8 539.3,190.4 535.6,184.7" fill="#4563fd"/>
<polygon points="645.4,191.5 649.1,193.2 653.3,190.7 649.6,189.0" fill="#4758f8"/>
<polygon points="482.3,137.6 486.0,140.9 490.3,139.2 486.6,136.1" fill="#64cd6f"/>
<polygon points="637.5,192.4 641.2,194.0 645.4,191.5 641.7,189.9" fill="#4852f4"/>
<polygon points="535.0,193.8 538.7,198.4 543.0,195.1 539.3,190.4" fill="#4852f4"/>
<polygon points="546.6,198.9 550.3,202.2 554.6,199.2 550.9,195.8" fill="#4741e5"/>
<polygon points="629.6,193.3 633.2,194.9 637.5,192.4 633.8,190.8" fill="#4852f4"/>
<polygon points="462.8,134.4 466.5,135.4 470.7,134.4 467.0,133.5" fill="#72cd64"/>
<polygon points="497.6,147.2 501.3,152.0 505.5,149.5 501.9,144.9" fill="#31c69f"/>
<polygon points="621.6,194.2 625.3,195.7 629.6,193.3 625.9,191.8" fill="#484df0"/>
<polygon points="439.0,139.0 442.7,137.2 447.0,136.6 443.3,138.3" fill="#4acb84"/>
<polygon points="394.6,168.8 398.3,160.0 402.5,158.8 398.9,166.8" fill="#2797eb"/>
<polygon points="613.7,195.2 617.4,196.7 621.6,194.2 617.9,192.8" fill="#484df0"/>
<polygon points="589.9,198.9 593.6,200.1 597.9,197.7 594.2,196.4" fill="#4741e5"/>
<polygon points="597.9,197.7 601.5,198.8 605.8,196.4 602.1,195.2" fill="#4747eb"/>
<polygon points="605.8,196.4 609.5,197.7 613.7,195.2 610.0,194.0" fill="#4747eb"/>
<polygon points="582.0,199.9 585.7,201.3 589.9,198.9 586.3,197.4" fill="#463cde"/>
<polygon points="512.4,169.8 516.1,175.7 520.3,172.2 516.6,166.5" fill="#23a0e5"/>
<polygon points="574.1,200.6 577.8,202.4 582.0,199.9 578.3,198.0" fill="#463cde"/>
<polygon points="454.9,135.1 458.6,135.2 462.8,134.4 459.1,134.3" fill="#72cd64"/>
<polygon points="501.3,152.0 505.0,157.3 509.2,154.6 505.5,149.5" fill="#19bfb6"/>
<polygon points="447.0,136.6 450.6,135.7 454.9,135.1 451.2,135.9" fill="#64cd6f"/>
<polygon points="508.7,163.4 512.4,169.8 516.6,166.5 512.9,160.3" fill="#18addb"/>
<polygon points="516.1,175.7 519.7,181.1 524.0,177.6 520.3,172.2" fill="#2d8cf3"/>
<polygon points="505.0,157.3 508.7,163.4 512.9,160.3 509.2,154.6" fill="#02bac3"/>
<polygon points="566.2,201.4 569.9,203.3 574.1,200.6 570.4,198.6" fill="#463cde"/>
<polygon points="538.7,198.4 542.4,202.1 546.6,198.9 543.0,195.1" fill="#4747eb"/>
<polygon points="418.9,148.9 422.6,144.1 426.9,143.5 423.2,147.8" fill="#24c1ae"/>
<polygon points="519.7,181.1 523.4,186.5 527.7,182.9 524.0,177.6" fill="#327cfc"/>
<polygon points="558.2,202.1 561.9,204.1 566.2,201.4 562.5,199.2" fill="#463cde"/>
<polygon points="486.0,140.9 489.7,144.8 493.9,142.9 490.3,139.2" fill="#57cc7a"/>
<polygon points="523.4,186.5 527.1,191.8 531.3,188.3 527.7,182.9" fill="#3e6fff"/>
<polygon points="474.4,136.3 478.1,139.0 482.3,137.6 478.6,135.1" fill="#72cd64"/>
<polygon points="406.8,157.5 410.5,150.7 414.7,149.9 411.0,156.0" fill="#08b5d0"/>
<polygon points="527.1,191.8 530.8,197.3 535.0,193.8 531.3,188.3" fill="#465efb"/>
<polygon points="550.3,202.2 554.0,205.0 558.2,202.1 554.6,199.2" fill="#463cde"/>
<polygon points="649.1,193.2 652.8,195.2 657.0,192.5 653.3,190.7" fill="#4758f8"/>
<polygon points="530.8,197.3 534.5,201.8 538.7,198.4 535.0,193.8" fill="#484df0"/>
<polygon points="489.7,144.8 493.4,149.4 497.6,147.2 493.9,142.9" fill="#3fca8e"/>
<polygon points="542.4,202.1 546.1,205.3 550.3,202.2 546.6,198.9" fill="#463cde"/>
<polygon points="641.2,194.0 644.8,195.8 649.1,193.2 645.4,191.5" fill="#4758f8"/>
<polygon points="633.2,194.9 636.9,196.6 641.2,194.0 637.5,192.4" fill="#4852f4"/>
<polygon points="466.5,135.4 470.2,137.4 474.4,136.3 470.7,134.4" fill="#81cc59"/>
<polygon points="625.3,195.7 629.0,197.4 633.2,194.9 629.6,193.3" fill="#4852f4"/>
<polygon points="508.1,173.2 511.8,179.2 516.1,175.7 512.4,169.8" fill="#259be8"/>
<polygon points="511.8,179.2 515.5,184.8 519.7,181.1 516.1,175.7" fill="#2d8cf3"/>
<polygon points="493.4,149.4 497.1,154.5 501.3,152.0 497.6,147.2" fill="#31c69f"/>
<polygon points="617.4,196.7 621.1,198.2 625.3,195.7 621.6,194.2" fill="#4852f4"/>
<polygon points="426.9,143.5 430.6,140.1 434.8,139.6 431.1,142.7" fill="#3fca8e"/>
<polygon points="504.4,166.5 508.1,173.2 512.4,169.8 508.7,163.4" fill="#18addb"/>
<polygon points="478.1,139.0 481.8,142.5 486.0,140.9 482.3,137.6" fill="#72cd64"/>
<polygon points="609.5,197.7 613.2,199.2 617.4,196.7 613.7,195.2" fill="#484df0"/>
<polygon points="515.5,184.8 519.2,190.2 523.4,186.5 519.7,181.1" fill="#327cfc"/>
<polygon points="585.7,201.3 589.4,202.5 593.6,200.1 589.9,198.9" fill="#4741e5"/>
<polygon points="577.8,202.4 581.5,203.8 585.7,201.3 582.0,199.9" fill="#4741e5"/>
<polygon points="593.6,200.1 597.3,201.2 601.5,198.8 597.9,197.7" fill="#4747eb"/>
<polygon points="601.5,198.8 605.2,200.1 609.5,197.7 605.8,196.4" fill="#484df0"/>
<polygon points="534.5,201.8 538.2,205.3 542.4,202.1 538.7,198.4" fill="#4741e5"/>
<polygon points="497.1,154.5 500.8,160.2 505.0,157.3 501.3,152.0" fill="#24c1ae"/>
<polygon points="569.9,203.3 573.5,204.9 577.8,202.4 574.1,200.6" fill="#463cde"/>
<polygon points="500.8,160.2 504.4,166.5 508.7,163.4 505.0,157.3" fill="#02bac3"/>
<polygon points="519.2,190.2 522.9,195.5 527.1,191.8 523.4,186.5" fill="#4269fe"/>
<polygon points="561.9,204.1 565.6,205.9 569.9,203.3 566.2,201.4" fill="#463cde"/>
<polygon points="390.4,170.6 394.1,161.2 398.3,160.0 394.6,168.8" fill="#2797eb"/>
<polygon points="554.0,205.0 557.7,206.9 561.9,204.1 558.2,202.1" fill="#4537d5"/>
<polygon points="522.9,195.5 526.6,200.8 530.8,197.3 527.1,191.8" fill="#4758f8"/>
<polygon points="458.6,135.2 462.2,136.2 466.5,135.4 462.8,134.4" fill="#8fcb4e"/>
<polygon points="546.1,205.3 549.8,207.8 554.0,205.0 550.3,202.2" fill="#463cde"/>
<polygon points="434.8,139.6 438.5,137.6 442.7,137.2 439.0,139.0" fill="#64cd6f"/>
<polygon points="526.6,200.8 530.2,205.1 534.5,201.8 530.8,197.3" fill="#4747eb"/>
<polygon points="481.8,142.5 485.5,146.7 489.7,144.8 486.0,140.9" fill="#64cd6f"/>
<polygon points="450.6,135.7 454.3,135.8 458.6,135.2 454.9,135.1" fill="#8fcb4e"/>
<polygon points="442.7,137.2 446.4,136.2 450.6,135.7 447.0,136.6" fill="#81cc59"/>
<polygon points="414.7,149.9 418.4,144.6 422.6,144.1 418.9,148.9" fill="#2cc4a7"/>
<polygon points="538.2,205.3 541.8,208.3 546.1,205.3 542.4,202.1" fill="#463cde"/>
<polygon points="644.8,195.8 648.5,197.8 652.8,195.2 649.1,193.2" fill="#4758f8"/>
<polygon points="470.2,137.4 473.9,140.3 478.1,139.0 474.4,136.3" fill="#8fcb4e"/>
<polygon points="507.6,182.8 511.3,188.5 515.5,184.8 511.8,179.2" fill="#2e87f7"/>
<polygon points="503.9,176.6 507.6,182.8 511.8,179.2 508.1,173.2" fill="#2797eb"/>
<polygon points="402.5,158.8 406.2,151.5 410.5,150.7 406.8,157.5" fill="#01b8ca"/>
<polygon points="636.9,196.6 640.6,198.4 644.8,195.8 641.2,194.0" fill="#4758f8"/>
<polygon points="511.3,188.5 514.9,193.9 519.2,190.2 515.5,184.8" fill="#3875fe"/>
<polygon points="485.5,146.7 489.1,151.6 493.4,149.4 489.7,144.8" fill="#4acb84"/>
<polygon points="629.0,197.4 632.7,199.2 636.9,196.6 633.2,194.9" fill="#4758f8"/>
<polygon points="500.2,169.6 503.9,176.6 508.1,173.2 504.4,166.5" fill="#1ca9df"/>
<polygon points="514.9,193.9 518.6,199.1 522.9,195.5 519.2,190.2" fill="#4563fd"/>
<polygon points="530.2,205.1 533.9,208.5 538.2,205.3 534.5,201.8" fill="#463cde"/>
<polygon points="621.1,198.2 624.8,199.9 629.0,197.4 625.3,195.7" fill="#4852f4"/>
<polygon points="613.2,199.2 616.8,200.8 621.1,198.2 617.4,196.7" fill="#4852f4"/>
<polygon points="489.1,151.6 492.8,157.1 497.1,154.5 493.4,149.4" fill="#37c897"/>
<polygon points="496.5,163.0 500.2,169.6 504.4,166.5 500.8,160.2" fill="#01b8ca"/>
<polygon points="518.6,199.1 522.3,204.4 526.6,200.8 522.9,195.5" fill="#4852f4"/>
<polygon points="605.2,200.1 608.9,201.6 613.2,199.2 609.5,197.7" fill="#484df0"/>
<polygon points="581.5,203.8 585.1,205.0 589.4,202.5 585.7,201.3" fill="#4741e5"/>
<polygon points="573.5,204.9 577.2,206.3 581.5,203.8 577.8,202.4" fill="#4741e5"/>
<polygon points="492.8,157.1 496.5,163.0 500.8,160.2 497.1,154.5" fill="#24c1ae"/>
<polygon points="589.4,202.5 593.1,203.7 597.3,201.2 593.6,200.1" fill="#4747eb"/>
<polygon points="597.3,201.2 601.0,202.6 605.2,200.1 601.5,198.8" fill="#484df0"/>
<polygon points="565.6,205.9 569.3,207.5 573.5,204.9 569.9,203.3" fill="#463cde"/>
<polygon points="557.7,206.9 561.4,208.5 565.6,205.9 561.9,204.1" fill="#463cde"/>
<polygon points="549.8,207.8 553.5,209.6 557.7,206.9 554.0,205.0" fill="#4537d5"/>
<polygon points="462.2,136.2 465.9,138.4 470.2,137.4 466.5,135.4" fill="#9dc943"/>
<polygon points="473.9,140.3 477.5,144.1 481.8,142.5 478.1,139.0" fill="#81cc59"/>
<polygon points="522.3,204.4 526.0,208.5 530.2,205.1 526.6,200.8" fill="#4747eb"/>
<polygon points="541.8,208.3 545.5,210.7 549.8,207.8 546.1,205.3" fill="#4537d5"/>
<polygon points="422.6,144.1 426.3,140.4 430.6,140.1 426.9,143.5" fill="#57cc7a"/>
<polygon points="503.3,186.5 507.0,192.3 511.3,188.5 507.6,182.8" fill="#2f81fa"/>
<polygon points="499.7,180.1 503.3,186.5 507.6,182.8 503.9,176.6" fill="#2797eb"/>
<polygon points="533.9,208.5 537.6,211.3 541.8,208.3 538.2,205.3" fill="#4537d5"/>
<polygon points="507.0,192.3 510.7,197.7 514.9,193.9 511.3,188.5" fill="#3e6fff"/>
<polygon points="640.6,198.4 644.3,200.4 648.5,197.8 644.8,195.8" fill="#4758f8"/>
<polygon points="510.7,197.7 514.4,202.9 518.6,199.1 514.9,193.9" fill="#465efb"/>
<polygon points="496.0,172.9 499.7,180.1 503.9,176.6 500.2,169.6" fill="#1ca9df"/>
<polygon points="477.5,144.1 481.2,148.6 485.5,146.7 481.8,142.5" fill="#72cd64"/>
<polygon points="454.3,135.8 458.0,136.9 462.2,136.2 458.6,135.2" fill="#abc739"/>
<polygon points="526.0,208.5 529.7,211.7 533.9,208.5 530.2,205.1" fill="#463cde"/>
<polygon points="632.7,199.2 636.4,201.0 640.6,198.4 636.9,196.6" fill="#4758f8"/>
<polygon points="514.4,202.9 518.1,208.0 522.3,204.4 518.6,199.1" fill="#484df0"/>
<polygon points="624.8,199.9 628.4,201.7 632.7,199.2 629.0,197.4" fill="#4758f8"/>
<polygon points="430.6,140.1 434.2,137.8 438.5,137.6 434.8,139.6" fill="#81cc59"/>
<polygon points="492.3,166.0 496.0,172.9 500.2,169.6 496.5,163.0" fill="#01b8ca"/>
<polygon points="616.8,200.8 620.5,202.5 624.8,199.9 621.1,198.2" fill="#4852f4"/>
<polygon points="481.2,148.6 484.9,153.8 489.1,151.6 485.5,146.7" fill="#57cc7a"/>
<polygon points="446.4,136.2 450.1,136.3 454.3,135.8 450.6,135.7" fill="#abc739"/>
<polygon points="465.9,138.4 469.6,141.5 473.9,140.3 470.2,137.4" fill="#9dc943"/>
<polygon points="608.9,201.6 612.6,203.3 616.8,200.8 613.2,199.2" fill="#4852f4"/>
<polygon points="410.5,150.7 414.2,145.0 418.4,144.6 414.7,149.9" fill="#37c897"/>
<polygon points="488.6,159.7 492.3,166.0 496.5,163.0 492.8,157.1" fill="#24c1ae"/>
<polygon points="438.5,137.6 442.2,136.5 446.4,136.2 442.7,137.2" fill="#9dc943"/>
<polygon points="484.9,153.8 488.6,159.7 492.8,157.1 489.1,151.6" fill="#37c897"/>
<polygon points="601.0,202.6 604.7,204.2 608.9,201.6 605.2,200.1" fill="#4852f4"/>
<polygon points="518.1,208.0 521.8,211.9 526.0,208.5 522.3,204.4" fill="#4741e5"/>
<polygon points="569.3,207.5 573.0,208.8 577.2,206.3 573.5,204.9" fill="#4741e5"/>
<polygon points="398.3,160.0 402.0,152.1 406.2,151.5 402.5,158.8" fill="#02bac3"/>
<polygon points="577.2,206.3 580.9,207.5 585.1,205.0 581.5,203.8" fill="#4741e5"/>
<polygon points="561.4,208.5 565.1,210.0 569.3,207.5 565.6,205.9" fill="#463cde"/>
<polygon points="585.1,205.0 588.8,206.2 593.1,203.7 589.4,202.5" fill="#4747eb"/>
<polygon points="593.1,203.7 596.8,205.1 601.0,202.6 597.3,201.2" fill="#484df0"/>
<polygon points="553.5,209.6 557.1,211.2 561.4,208.5 557.7,206.9" fill="#463cde"/>
<polygon points="545.5,210.7 549.2,212.4 553.5,209.6 549.8,207.8" fill="#4537d5"/>
<polygon points="499.1,190.3 502.8,196.1 507.0,192.3 503.3,186.5" fill="#327cfc"/>
<polygon points="537.6,211.3 541.3,213.6 545.5,210.7 541.8,208.3" fill="#4537d5"/>
<polygon points="502.8,196.1 506.5,201.6 510.7,197.7 507.0,192.3" fill="#4269fe"/>
<polygon points="495.4,183.7 499.1,190.3 503.3,186.5 499.7,180.1" fill="#2b91ef"/>
<polygon points="506.5,201.6 510.2,206.7 514.4,202.9 510.7,197.7" fill="#4758f8"/>
<polygon points="529.7,211.7 533.4,214.4 537.6,211.3 533.9,208.5" fill="#4537d5"/>
<polygon points="491.7,176.2 495.4,183.7 499.7,180.1 496.0,172.9" fill="#20a5e3"/>
<polygon points="469.6,141.5 473.3,145.6 477.5,144.1 473.9,140.3" fill="#8fcb4e"/>
<polygon points="510.2,206.7 513.8,211.6 518.1,208.0 514.4,202.9" fill="#4747eb"/>
<polygon points="521.8,211.9 525.4,214.9 529.7,211.7 526.0,208.5" fill="#4537d5"/>
<polygon points="636.4,201.0 640.1,203.1 644.3,200.4 640.6,198.4" fill="#4758f8"/>
<polygon points="458.0,136.9 461.7,139.3 465.9,138.4 462.2,136.2" fill="#b9c431"/>
<polygon points="628.4,201.7 632.1,203.6 636.4,201.0 632.7,199.2" fill="#4758f8"/>
<polygon points="488.0,169.0 491.7,176.2 496.0,172.9 492.3,166.0" fill="#01b8ca"/>
<polygon points="620.5,202.5 624.2,204.3 628.4,201.7 624.8,199.9" fill="#4758f8"/>
<polygon points="513.8,211.6 517.5,215.4 521.8,211.9 518.1,208.0" fill="#463cde"/>
<polygon points="473.3,145.6 477.0,150.5 481.2,148.6 477.5,144.1" fill="#81cc59"/>
<polygon points="494.9,194.2 498.5,200.1 502.8,196.1 499.1,190.3" fill="#3875fe"/>
<polygon points="418.4,144.6 422.1,140.5 426.3,140.4 422.6,144.1" fill="#72cd64"/>
<polygon points="612.6,203.3 616.3,205.1 620.5,202.5 616.8,200.8" fill="#4852f4"/>
<polygon points="498.5,200.1 502.2,205.5 506.5,201.6 502.8,196.1" fill="#4563fd"/>
<polygon points="484.4,162.3 488.0,169.0 492.3,166.0 488.6,159.7" fill="#24c1ae"/>
<polygon points="491.2,187.4 494.9,194.2 499.1,190.3 495.4,183.7" fill="#2d8cf3"/>
<polygon points="604.7,204.2 608.4,205.8 612.6,203.3 608.9,201.6" fill="#4852f4"/>
<polygon points="477.0,150.5 480.7,156.1 484.9,153.8 481.2,148.6" fill="#57cc7a"/>
<polygon points="480.7,156.1 484.4,162.3 488.6,159.7 484.9,153.8" fill="#37c897"/>
<polygon points="502.2,205.5 505.9,210.5 510.2,206.7 506.5,201.6" fill="#4852f4"/>
<polygon points="596.8,205.1 600.4,206.7 604.7,204.2 601.0,202.6" fill="#4852f4"/>
<polygon points="565.1,210.0 568.7,211.3 573.0,208.8 569.3,207.5" fill="#4741e5"/>
<polygon points="557.1,211.2 560.8,212.6 565.1,210.0 561.4,208.5" fill="#463cde"/>
<polygon points="541.3,213.6 545.0,215.1 549.2,212.4 545.5,210.7" fill="#4537d5"/>
<polygon points="549.2,212.4 552.9,213.8 557.1,211.2 553.5,209.6" fill="#463cde"/>
<polygon points="573.0,208.8 576.7,209.9 580.9,207.5 577.2,206.3" fill="#4747eb"/>
<polygon points="580.9,207.5 584.6,208.7 588.8,206.2 585.1,205.0" fill="#4747eb"/>
<polygon points="588.8,206.2 592.5,207.6 596.8,205.1 593.1,203.7" fill="#484df0"/>
<polygon points="450.1,136.3 453.8,137.5 458.0,136.9 454.3,135.8" fill="#c5c22a"/>
<polygon points="533.4,214.4 537.1,216.4 541.3,213.6 537.6,211.3" fill="#4537d5"/>
<polygon points="525.4,214.9 529.1,217.4 533.4,214.4 529.7,211.7" fill="#4537d5"/>
<polygon points="487.5,179.7 491.2,187.4 495.4,183.7 491.7,176.2" fill="#20a5e3"/>
<polygon points="505.9,210.5 509.6,215.2 513.8,211.6 510.2,206.7" fill="#4741e5"/>
<polygon points="461.7,139.3 465.4,142.7 469.6,141.5 465.9,138.4" fill="#b9c431"/>
<polygon points="426.3,140.4 430.0,137.9 434.2,137.8 430.6,140.1" fill="#9dc943"/>
<polygon points="517.5,215.4 521.2,218.2 525.4,214.9 521.8,211.9" fill="#4537d5"/>
<polygon points="442.2,136.5 445.8,136.6 450.1,136.3 446.4,136.2" fill="#c5c22a"/>
<polygon points="394.1,161.2 397.8,152.6 402.0,152.1 398.3,160.0" fill="#19bfb6"/>
<polygon points="406.2,151.5 409.9,145.2 414.2,145.0 410.5,150.7" fill="#4acb84"/>
<polygon points="434.2,137.8 437.9,136.7 442.2,136.5 438.5,137.6" fill="#b9c431"/>
<polygon points="490.6,198.1 494.3,204.2 498.5,200.1 494.9,194.2" fill="#3e6fff"/>
<polygon points="632.1,203.6 635.8,205.7 640.1,203.1 636.4,201.0" fill="#4758f8"/>
<polygon points="494.3,204.2 498.0,209.6 502.2,205.5 498.5,200.1" fill="#4758f8"/>
<polygon points="483.8,172.2 487.5,179.7 491.7,176.2 488.0,169.0" fill="#08b5d0"/>
<polygon points="509.6,215.2 513.3,218.8 517.5,215.4 513.8,211.6" fill="#4537d5"/>
<polygon points="486.9,191.2 490.6,198.1 494.9,194.2 491.2,187.4" fill="#2e87f7"/>
<polygon points="624.2,204.3 627.9,206.3 632.1,203.6 628.4,201.7" fill="#4758f8"/>
<polygon points="498.0,209.6 501.7,214.5 505.9,210.5 502.2,205.5" fill="#484df0"/>
<polygon points="465.4,142.7 469.1,147.1 473.3,145.6 469.6,141.5" fill="#abc739"/>
<polygon points="616.3,205.1 620.0,206.9 624.2,204.3 620.5,202.5" fill="#4758f8"/>
<polygon points="480.1,165.1 483.8,172.2 488.0,169.0 484.4,162.3" fill="#24c1ae"/>
<polygon points="608.4,205.8 612.0,207.6 616.3,205.1 612.6,203.3" fill="#4758f8"/>
<polygon points="501.7,214.5 505.4,218.9 509.6,215.2 505.9,210.5" fill="#463cde"/>
<polygon points="600.4,206.7 604.1,208.4 608.4,205.8 604.7,204.2" fill="#4852f4"/>
<polygon points="483.3,183.3 486.9,191.2 491.2,187.4 487.5,179.7" fill="#23a0e5"/>
<polygon points="453.8,137.5 457.5,140.1 461.7,139.3 458.0,136.9" fill="#d1bf27"/>
<polygon points="537.1,216.4 540.7,217.8 545.0,215.1 541.3,213.6" fill="#4537d5"/>
<polygon points="529.1,217.4 532.8,219.3 537.1,216.4 533.4,214.4" fill="#4332cb"/>
<polygon points="469.1,147.1 472.7,152.4 477.0,150.5 473.3,145.6" fill="#8fcb4e"/>
<polygon points="545.0,215.1 548.7,216.4 552.9,213.8 549.2,212.4" fill="#463cde"/>
<polygon points="552.9,213.8 556.6,215.1 560.8,212.6 557.1,211.2" fill="#463cde"/>
<polygon points="476.4,158.4 480.1,165.1 484.4,162.3 480.7,156.1" fill="#3fca8e"/>
<polygon points="592.5,207.6 596.2,209.2 600.4,206.7 596.8,205.1" fill="#4852f4"/>
<polygon points="560.8,212.6 564.5,213.8 568.7,211.3 565.1,210.0" fill="#4741e5"/>
<polygon points="568.7,211.3 572.4,212.4 576.7,209.9 573.0,208.8" fill="#4747eb"/>
<polygon points="521.2,218.2 524.9,220.4 529.1,217.4 525.4,214.9" fill="#4332cb"/>
<polygon points="584.6,208.7 588.3,210.1 592.5,207.6 588.8,206.2" fill="#484df0"/>
<polygon points="576.7,209.9 580.4,211.2 584.6,208.7 580.9,207.5" fill="#484df0"/>
<polygon points="472.7,152.4 476.4,158.4 480.7,156.1 477.0,150.5" fill="#64cd6f"/>
<polygon points="486.4,202.3 490.1,208.4 494.3,204.2 490.6,198.1" fill="#4563fd"/>
<polygon points="513.3,218.8 517.0,221.4 521.2,218.2 517.5,215.4" fill="#4332cb"/>
<polygon points="490.1,208.4 493.8,213.7 498.0,209.6 494.3,204.2" fill="#4852f4"/>
<polygon points="482.7,195.1 486.4,202.3 490.6,198.1 486.9,191.2" fill="#2f81fa"/>
<polygon points="414.2,145.0 417.8,140.5 422.1,140.5 418.4,144.6" fill="#8fcb4e"/>
<polygon points="505.4,218.9 509.0,222.3 513.3,218.8 509.6,215.2" fill="#4332cb"/>
<polygon points="493.8,213.7 497.4,218.4 501.7,214.5 498.0,209.6" fill="#4741e5"/>
<polygon points="479.6,175.4 483.3,183.3 487.5,179.7 483.8,172.2" fill="#08b5d0"/>
<polygon points="627.9,206.3 631.6,208.4 635.8,205.7 632.1,203.6" fill="#4758f8"/>
<polygon points="445.8,136.6 449.5,138.0 453.8,137.5 450.1,136.3" fill="#dcbd29"/>
<polygon points="457.5,140.1 461.1,143.8 465.4,142.7 461.7,139.3" fill="#c5c22a"/>
<polygon points="620.0,206.9 623.7,208.9 627.9,206.3 624.2,204.3" fill="#4758f8"/>
<polygon points="497.4,218.4 501.1,222.6 505.4,218.9 501.7,214.5" fill="#4537d5"/>
<polygon points="479.0,187.0 482.7,195.1 486.9,191.2 483.3,183.3" fill="#259be8"/>
<polygon points="475.9,167.9 479.6,175.4 483.8,172.2 480.1,165.1" fill="#24c1ae"/>
<polygon points="612.0,207.6 615.7,209.5 620.0,206.9 616.3,205.1" fill="#4758f8"/>
<polygon points="482.1,206.5 485.8,212.6 490.1,208.4 486.4,202.3" fill="#465efb"/>
<polygon points="485.8,212.6 489.5,217.9 493.8,213.7 490.1,208.4" fill="#484df0"/>
<polygon points="604.1,208.4 607.8,210.2 612.0,207.6 608.4,205.8" fill="#4758f8"/>
<polygon points="422.1,140.5 425.8,137.8 430.0,137.9 426.3,140.4" fill="#c5c22a"/>
<polygon points="402.0,152.1 405.7,145.3 409.9,145.2 406.2,151.5" fill="#64cd6f"/>
<polygon points="437.9,136.7 441.6,136.8 445.8,136.6 442.2,136.5" fill="#dcbd29"/>
<polygon points="524.9,220.4 528.6,222.2 532.8,219.3 529.1,217.4" fill="#4332cb"/>
<polygon points="532.8,219.3 536.5,220.6 540.7,217.8 537.1,216.4" fill="#4537d5"/>
<polygon points="517.0,221.4 520.7,223.4 524.9,220.4 521.2,218.2" fill="#4332cb"/>
<polygon points="596.2,209.2 599.9,211.0 604.1,208.4 600.4,206.7" fill="#4852f4"/>
<polygon points="540.7,217.8 544.4,219.1 548.7,216.4 545.0,215.1" fill="#463cde"/>
<polygon points="478.5,199.2 482.1,206.5 486.4,202.3 482.7,195.1" fill="#327cfc"/>
<polygon points="461.1,143.8 464.8,148.6 469.1,147.1 465.4,142.7" fill="#b9c431"/>
<polygon points="509.0,222.3 512.7,224.6 517.0,221.4 513.3,218.8" fill="#422ec0"/>
<polygon points="548.7,216.4 552.3,217.7 556.6,215.1 552.9,213.8" fill="#463cde"/>
<polygon points="472.2,160.8 475.9,167.9 480.1,165.1 476.4,158.4" fill="#3fca8e"/>
<polygon points="430.0,137.9 433.7,136.6 437.9,136.7 434.2,137.8" fill="#dcbd29"/>
<polygon points="556.6,215.1 560.3,216.3 564.5,213.8 560.8,212.6" fill="#4741e5"/>
<polygon points="489.5,217.9 493.2,222.5 497.4,218.4 493.8,213.7" fill="#463cde"/>
<polygon points="588.3,210.1 592.0,211.7 596.2,209.2 592.5,207.6" fill="#4852f4"/>
<polygon points="564.5,213.8 568.2,214.9 572.4,212.4 568.7,211.3" fill="#4747eb"/>
<polygon points="580.4,211.2 584.0,212.6 588.3,210.1 584.6,208.7" fill="#484df0"/>
<polygon points="572.4,212.4 576.1,213.7 580.4,211.2 576.7,209.9" fill="#484df0"/>
<polygon points="501.1,222.6 504.8,225.7 509.0,222.3 505.4,218.9" fill="#422ec0"/>
<polygon points="468.5,154.3 472.2,160.8 476.4,158.4 472.7,152.4" fill="#72cd64"/>
<polygon points="475.3,178.8 479.0,187.0 483.3,183.3 479.6,175.4" fill="#12b1d6"/>
<polygon points="464.8,148.6 468.5,154.3 472.7,152.4 469.1,147.1" fill="#9dc943"/>
<polygon points="493.2,222.5 496.9,226.4 501.1,222.6 497.4,218.4" fill="#4332cb"/>
<polygon points="449.5,138.0 453.2,140.8 457.5,140.1 453.8,137.5" fill="#e6bb2d"/>
<polygon points="474.8,190.9 478.5,199.2 482.7,195.1 479.0,187.0" fill="#2797eb"/>
<polygon points="477.9,210.9 481.6,217.0 485.8,212.6 482.1,206.5" fill="#4758f8"/>
<polygon points="481.6,217.0 485.3,222.2 489.5,217.9 485.8,212.6" fill="#4741e5"/>
<polygon points="623.7,208.9 627.3,211.0 631.6,208.4 627.9,206.3" fill="#4758f8"/>
<polygon points="474.2,203.5 477.9,210.9 482.1,206.5 478.5,199.2" fill="#3e6fff"/>
<polygon points="471.6,170.9 475.3,178.8 479.6,175.4 475.9,167.9" fill="#19bfb6"/>
<polygon points="615.7,209.5 619.4,211.5 623.7,208.9 620.0,206.9" fill="#4758f8"/>
<polygon points="485.3,222.2 489.0,226.5 493.2,222.5 489.5,217.9" fill="#4332cb"/>
<polygon points="607.8,210.2 611.5,212.2 615.7,209.5 612.0,207.6" fill="#4758f8"/>
<polygon points="512.7,224.6 516.4,226.4 520.7,223.4 517.0,221.4" fill="#422ec0"/>
<polygon points="520.7,223.4 524.3,225.0 528.6,222.2 524.9,220.4" fill="#4332cb"/>
<polygon points="504.8,225.7 508.5,227.8 512.7,224.6 509.0,222.3" fill="#422ec0"/>
<polygon points="599.9,211.0 603.6,212.8 607.8,210.2 604.1,208.4" fill="#4758f8"/>
<polygon points="528.6,222.2 532.3,223.3 536.5,220.6 532.8,219.3" fill="#4537d5"/>
<polygon points="496.9,226.4 500.6,229.2 504.8,225.7 501.1,222.6" fill="#402ab4"/>
<polygon points="409.9,145.2 413.6,140.4 417.8,140.5 414.2,145.0" fill="#abc739"/>
<polygon points="471.1,182.4 474.8,190.9 479.0,187.0 475.3,178.8" fill="#12b1d6"/>
<polygon points="536.5,220.6 540.2,221.7 544.4,219.1 540.7,217.8" fill="#463cde"/>
<polygon points="592.0,211.7 595.6,213.5 599.9,211.0 596.2,209.2" fill="#4758f8"/>
<polygon points="453.2,140.8 456.9,144.9 461.1,143.8 457.5,140.1" fill="#dcbd29"/>
<polygon points="468.0,163.3 471.6,170.9 475.9,167.9 472.2,160.8" fill="#3fca8e"/>
<polygon points="473.7,215.4 477.4,221.5 481.6,217.0 477.9,210.9" fill="#484df0"/>
<polygon points="544.4,219.1 548.1,220.2 552.3,217.7 548.7,216.4" fill="#463cde"/>
<polygon points="441.6,136.8 445.3,138.4 449.5,138.0 445.8,136.6" fill="#f0ba36"/>
<polygon points="552.3,217.7 556.0,218.8 560.3,216.3 556.6,215.1" fill="#4741e5"/>
<polygon points="584.0,212.6 587.7,214.3 592.0,211.7 588.3,210.1" fill="#4852f4"/>
<polygon points="477.4,221.5 481.0,226.6 485.3,222.2 481.6,217.0" fill="#4537d5"/>
<polygon points="470.5,195.0 474.2,203.5 478.5,199.2 474.8,190.9" fill="#2b91ef"/>
<polygon points="489.0,226.5 492.6,230.1 496.9,226.4 493.2,222.5" fill="#422ec0"/>
<polygon points="560.3,216.3 564.0,217.5 568.2,214.9 564.5,213.8" fill="#4747eb"/>
<polygon points="576.1,213.7 579.8,215.1 584.0,212.6 580.4,211.2" fill="#4852f4"/>
<polygon points="568.2,214.9 571.9,216.2 576.1,213.7 572.4,212.4" fill="#484df0"/>
<polygon points="470.0,207.9 473.7,215.4 477.9,210.9 474.2,203.5" fill="#4269fe"/>
<polygon points="464.3,156.3 468.0,163.3 472.2,160.8 468.5,154.3" fill="#72cd64"/>
<polygon points="456.9,144.9 460.6,150.1 464.8,148.6 461.1,143.8" fill="#c5c22a"/>
<polygon points="481.0,226.6 484.7,230.7 489.0,226.5 485.3,222.2" fill="#422ec0"/>
<polygon points="460.6,150.1 464.3,156.3 468.5,154.3 464.8,148.6" fill="#abc739"/>
<polygon points="397.8,152.6 401.4,145.3 405.7,145.3 402.0,152.1" fill="#72cd64"/>
<polygon points="433.7,136.6 437.4,136.9 441.6,136.8 437.9,136.7" fill="#f8ba3d"/>
<polygon points="417.8,140.5 421.5,137.5 425.8,137.8 422.1,140.5" fill="#dcbd29"/>
<polygon points="467.4,174.0 471.1,182.4 475.3,178.8 471.6,170.9" fill="#19bfb6"/>
<polygon points="619.4,211.5 623.1,213.7 627.3,211.0 623.7,208.9" fill="#465efb"/>
<polygon points="469.4,220.0 473.1,226.1 477.4,221.5 473.7,215.4" fill="#4741e5"/>
<polygon points="425.8,137.8 429.4,136.5 433.7,136.6 430.0,137.9" fill="#f0ba36"/>
<polygon points="473.1,226.1 476.8,231.0 481.0,226.6 477.4,221.5" fill="#4332cb"/>
<polygon points="611.5,212.2 615.2,214.2 619.4,211.5 615.7,209.5" fill="#4758f8"/>
<polygon points="500.6,229.2 504.3,231.1 508.5,227.8 504.8,225.7" fill="#402ab4"/>
<polygon points="466.9,186.1 470.5,195.0 474.8,190.9 471.1,182.4" fill="#18addb"/>
<polygon points="492.6,230.1 496.3,232.6 500.6,229.2 496.9,226.4" fill="#3e26a8"/>
<polygon points="466.3,199.2 470.0,207.9 474.2,203.5 470.5,195.0" fill="#2e87f7"/>
<polygon points="508.5,227.8 512.2,229.4 516.4,226.4 512.7,224.6" fill="#422ec0"/>
<polygon points="516.4,226.4 520.1,227.8 524.3,225.0 520.7,223.4" fill="#422ec0"/>
<polygon points="603.6,212.8 607.3,214.8 611.5,212.2 607.8,210.2" fill="#4758f8"/>
<polygon points="465.7,212.5 469.4,220.0 473.7,215.4 470.0,207.9" fill="#465efb"/>
<polygon points="484.7,230.7 488.4,233.9 492.6,230.1 489.0,226.5" fill="#3e26a8"/>
<polygon points="524.3,225.0 528.0,226.0 532.3,223.3 528.6,222.2" fill="#4332cb"/>
<polygon points="445.3,138.4 449.0,141.5 453.2,140.8 449.5,138.0" fill="#f8ba3d"/>
<polygon points="595.6,213.5 599.3,215.4 603.6,212.8 599.9,211.0" fill="#4758f8"/>
<polygon points="532.3,223.3 535.9,224.3 540.2,221.7 536.5,220.6" fill="#4537d5"/>
<polygon points="476.8,231.0 480.5,234.8 484.7,230.7 481.0,226.6" fill="#3e26a8"/>
<polygon points="463.7,165.9 467.4,174.0 471.6,170.9 468.0,163.3" fill="#3fca8e"/>
<polygon points="587.7,214.3 591.4,216.1 595.6,213.5 592.0,211.7" fill="#4758f8"/>
<polygon points="540.2,221.7 543.9,222.8 548.1,220.2 544.4,219.1" fill="#4741e5"/>
<polygon points="579.8,215.1 583.5,216.9 587.7,214.3 584.0,212.6" fill="#4852f4"/>
<polygon points="548.1,220.2 551.8,221.3 556.0,218.8 552.3,217.7" fill="#4741e5"/>
<polygon points="465.2,224.8 468.9,230.8 473.1,226.1 469.4,220.0" fill="#4537d5"/>
<polygon points="556.0,218.8 559.7,220.0 564.0,217.5 560.3,216.3" fill="#4747eb"/>
<polygon points="571.9,216.2 575.6,217.7 579.8,215.1 576.1,213.7" fill="#4852f4"/>
<polygon points="564.0,217.5 567.6,218.7 571.9,216.2 568.2,214.9" fill="#484df0"/>
<polygon points="468.9,230.8 472.6,235.5 476.8,231.0 473.1,226.1" fill="#402ab4"/>
<polygon points="462.1,203.7 465.7,212.5 470.0,207.9 466.3,199.2" fill="#2f81fa"/>
<polygon points="463.2,177.3 466.9,186.1 471.1,182.4 467.4,174.0" fill="#0bbdbd"/>
<polygon points="461.5,217.3 465.2,224.8 469.4,220.0 465.7,212.5" fill="#4852f4"/>
<polygon points="460.0,158.4 463.7,165.9 468.0,163.3 464.3,156.3" fill="#81cc59"/>
<polygon points="462.6,190.1 466.3,199.2 470.5,195.0 466.9,186.1" fill="#20a5e3"/>
<polygon points="449.0,141.5 452.7,146.0 456.9,144.9 453.2,140.8" fill="#f0ba36"/>
<polygon points="488.4,233.9 492.1,236.1 496.3,232.6 492.6,230.1" fill="#3e26a8"/>
<polygon points="480.5,234.8 484.2,237.7 488.4,233.9 484.7,230.7" fill="#3e26a8"/>
<polygon points="615.2,214.2 618.9,216.4 623.1,213.7 619.4,211.5" fill="#465efb"/>
<polygon points="405.7,145.3 409.4,140.1 413.6,140.4 409.9,145.2" fill="#d1bf27"/>
<polygon points="496.3,232.6 500.0,234.2 504.3,231.1 500.6,229.2" fill="#3e26a8"/>
<polygon points="456.3,151.7 460.0,158.4 464.3,156.3 460.6,150.1" fill="#b9c431"/>
<polygon points="437.4,136.9 441.1,138.7 445.3,138.4 441.6,136.8" fill="#febe3c"/>
<polygon points="472.6,235.5 476.2,238.9 480.5,234.8 476.8,231.0" fill="#3e26a8"/>
<polygon points="452.7,146.0 456.3,151.7 460.6,150.1 456.9,144.9" fill="#dcbd29"/>
<polygon points="504.3,231.1 507.9,232.4 512.2,229.4 508.5,227.8" fill="#402ab4"/>
<polygon points="461.0,229.7 464.6,235.5 468.9,230.8 465.2,224.8" fill="#422ec0"/>
<polygon points="607.3,214.8 610.9,216.8 615.2,214.2 611.5,212.2" fill="#4758f8"/>
<polygon points="512.2,229.4 515.9,230.6 520.1,227.8 516.4,226.4" fill="#422ec0"/>
<polygon points="464.6,235.5 468.3,239.9 472.6,235.5 468.9,230.8" fill="#3e26a8"/>
<polygon points="599.3,215.4 603.0,217.4 607.3,214.8 603.6,212.8" fill="#4758f8"/>
<polygon points="520.1,227.8 523.8,228.7 528.0,226.0 524.3,225.0" fill="#4332cb"/>
<polygon points="457.3,222.3 461.0,229.7 465.2,224.8 461.5,217.3" fill="#4747eb"/>
<polygon points="457.8,208.4 461.5,217.3 465.7,212.5 462.1,203.7" fill="#3875fe"/>
<polygon points="591.4,216.1 595.1,218.1 599.3,215.4 595.6,213.5" fill="#4758f8"/>
<polygon points="459.5,168.6 463.2,177.3 467.4,174.0 463.7,165.9" fill="#3fca8e"/>
<polygon points="528.0,226.0 531.7,226.9 535.9,224.3 532.3,223.3" fill="#4537d5"/>
<polygon points="583.5,216.9 587.2,218.7 591.4,216.1 587.7,214.3" fill="#4758f8"/>
<polygon points="458.4,194.3 462.1,203.7 466.3,199.2 462.6,190.1" fill="#23a0e5"/>
<polygon points="535.9,224.3 539.6,225.3 543.9,222.8 540.2,221.7" fill="#4741e5"/>
<polygon points="429.4,136.5 433.1,136.8 437.4,136.9 433.7,136.6" fill="#fec338"/>
<polygon points="458.9,180.8 462.6,190.1 466.9,186.1 463.2,177.3" fill="#0bbdbd"/>
<polygon points="575.6,217.7 579.2,219.4 583.5,216.9 579.8,215.1" fill="#4852f4"/>
<polygon points="543.9,222.8 547.6,223.9 551.8,221.3 548.1,220.2" fill="#4747eb"/>
<polygon points="413.6,140.4 417.3,137.2 421.5,137.5 417.8,140.5" fill="#f0ba36"/>
<polygon points="456.7,234.6 460.4,240.3 464.6,235.5 461.0,229.7" fill="#3e26a8"/>
<polygon points="551.8,221.3 555.5,222.5 559.7,220.0 556.0,218.8" fill="#4747eb"/>
<polygon points="567.6,218.7 571.3,220.3 575.6,217.7 571.9,216.2" fill="#4852f4"/>
<polygon points="559.7,220.0 563.4,221.3 567.6,218.7 564.0,217.5" fill="#484df0"/>
<polygon points="476.2,238.9 479.9,241.4 484.2,237.7 480.5,234.8" fill="#3e26a8"/>
<polygon points="468.3,239.9 472.0,243.0 476.2,238.9 472.6,235.5" fill="#3e26a8"/>
<polygon points="484.2,237.7 487.9,239.5 492.1,236.1 488.4,233.9" fill="#3e26a8"/>
<polygon points="421.5,137.5 425.2,136.2 429.4,136.5 425.8,137.8" fill="#fec338"/>
<polygon points="453.0,227.4 456.7,234.6 461.0,229.7 457.3,222.3" fill="#463cde"/>
<polygon points="460.4,240.3 464.1,244.4 468.3,239.9 464.6,235.5" fill="#3e26a8"/>
<polygon points="453.6,213.4 457.3,222.3 461.5,217.3 457.8,208.4" fill="#4269fe"/>
<polygon points="441.1,138.7 444.7,142.1 449.0,141.5 445.3,138.4" fill="#fec338"/>
<polygon points="492.1,236.1 495.8,237.4 500.0,234.2 496.3,232.6" fill="#3e26a8"/>
<polygon points="455.8,160.5 459.5,168.6 463.7,165.9 460.0,158.4" fill="#81cc59"/>
<polygon points="610.9,216.8 614.6,219.0 618.9,216.4 615.2,214.2" fill="#465efb"/>
<polygon points="500.0,234.2 503.7,235.4 507.9,232.4 504.3,231.1" fill="#402ab4"/>
<polygon points="454.1,198.7 457.8,208.4 462.1,203.7 458.4,194.3" fill="#259be8"/>
<polygon points="507.9,232.4 511.6,233.4 515.9,230.6 512.2,229.4" fill="#422ec0"/>
<polygon points="603.0,217.4 606.7,219.5 610.9,216.8 607.3,214.8" fill="#4758f8"/>
<polygon points="452.1,153.3 455.8,160.5 460.0,158.4 456.3,151.7" fill="#c5c22a"/>
<polygon points="444.7,142.1 448.4,147.0 452.7,146.0 449.0,141.5" fill="#febe3c"/>
<polygon points="595.1,218.1 598.8,220.1 603.0,217.4 599.3,215.4" fill="#4758f8"/>
<polygon points="515.9,230.6 519.5,231.4 523.8,228.7 520.1,227.8" fill="#4332cb"/>
<polygon points="455.2,171.6 458.9,180.8 463.2,177.3 459.5,168.6" fill="#3fca8e"/>
<polygon points="449.3,218.5 453.0,227.4 457.3,222.3 453.6,213.4" fill="#465efb"/>
<polygon points="454.7,184.5 458.4,194.3 462.6,190.1 458.9,180.8" fill="#02bac3"/>
<polygon points="464.1,244.4 467.8,247.1 472.0,243.0 468.3,239.9" fill="#3e26a8"/>
<polygon points="448.4,147.0 452.1,153.3 456.3,151.7 452.7,146.0" fill="#e6bb2d"/>
<polygon points="587.2,218.7 590.9,220.7 595.1,218.1 591.4,216.1" fill="#4758f8"/>
<polygon points="472.0,243.0 475.7,245.0 479.9,241.4 476.2,238.9" fill="#3e26a8"/>
<polygon points="523.8,228.7 527.5,229.5 531.7,226.9 528.0,226.0" fill="#4537d5"/>
<polygon points="579.2,219.4 582.9,221.3 587.2,218.7 583.5,216.9" fill="#4758f8"/>
<polygon points="479.9,241.4 483.6,242.8 487.9,239.5 484.2,237.7" fill="#3e26a8"/>
<polygon points="531.7,226.9 535.4,227.9 539.6,225.3 535.9,224.3" fill="#4741e5"/>
<polygon points="571.3,220.3 575.0,222.0 579.2,219.4 575.6,217.7" fill="#4758f8"/>
<polygon points="539.6,225.3 543.3,226.4 547.6,223.9 543.9,222.8" fill="#4747eb"/>
<polygon points="449.9,203.4 453.6,213.4 457.8,208.4 454.1,198.7" fill="#2b91ef"/>
<polygon points="433.1,136.8 436.8,138.9 441.1,138.7 437.4,136.9" fill="#fccf30"/>
<polygon points="401.4,145.3 405.1,139.7 409.4,140.1 405.7,145.3" fill="#e6bb2d"/>
<polygon points="547.6,223.9 551.2,225.0 555.5,222.5 551.8,221.3" fill="#484df0"/>
<polygon points="563.4,221.3 567.1,222.8 571.3,220.3 567.6,218.7" fill="#4852f4"/>
<polygon points="555.5,222.5 559.2,223.8 563.4,221.3 559.7,220.0" fill="#484df0"/>
<polygon points="487.9,239.5 491.5,240.5 495.8,237.4 492.1,236.1" fill="#3e26a8"/>
<polygon points="495.8,237.4 499.5,238.3 503.7,235.4 500.0,234.2" fill="#3e26a8"/>
<polygon points="451.6,162.9 455.2,171.6 459.5,168.6 455.8,160.5" fill="#8fcb4e"/>
<polygon points="450.5,188.5 454.1,198.7 458.4,194.3 454.7,184.5" fill="#01b8ca"/>
<polygon points="606.7,219.5 610.4,221.7 614.6,219.0 610.9,216.8" fill="#465efb"/>
<polygon points="503.7,235.4 507.4,236.2 511.6,233.4 507.9,232.4" fill="#422ec0"/>
<polygon points="445.7,208.4 449.3,218.5 453.6,213.4 449.9,203.4" fill="#2e87f7"/>
<polygon points="451.0,174.7 454.7,184.5 458.9,180.8 455.2,171.6" fill="#37c897"/>
<polygon points="467.8,247.1 471.5,248.6 475.7,245.0 472.0,243.0" fill="#3e26a8"/>
<polygon points="598.8,220.1 602.5,222.1 606.7,219.5 603.0,217.4" fill="#465efb"/>
<polygon points="425.2,136.2 428.9,136.7 433.1,136.8 429.4,136.5" fill="#fad62d"/>
<polygon points="511.6,233.4 515.3,234.0 519.5,231.4 515.9,230.6" fill="#4332cb"/>
<polygon points="590.9,220.7 594.5,222.7 598.8,220.1 595.1,218.1" fill="#4758f8"/>
<polygon points="409.4,140.1 413.0,136.7 417.3,137.2 413.6,140.4" fill="#fec338"/>
<polygon points="436.8,138.9 440.5,142.7 444.7,142.1 441.1,138.7" fill="#fccf30"/>
<polygon points="475.7,245.0 479.4,246.1 483.6,242.8 479.9,241.4" fill="#3e26a8"/>
<polygon points="582.9,221.3 586.6,223.3 590.9,220.7 587.2,218.7" fill="#4758f8"/>
<polygon points="447.9,155.0 451.6,162.9 455.8,160.5 452.1,153.3" fill="#d1bf27"/>
<polygon points="519.5,231.4 523.2,232.1 527.5,229.5 523.8,228.7" fill="#4537d5"/>
<polygon points="417.3,137.2 421.0,135.8 425.2,136.2 421.5,137.5" fill="#fccf30"/>
<polygon points="575.0,222.0 578.7,223.9 582.9,221.3 579.2,219.4" fill="#4758f8"/>
<polygon points="527.5,229.5 531.2,230.4 535.4,227.9 531.7,226.9" fill="#4741e5"/>
<polygon points="483.6,242.8 487.3,243.6 491.5,240.5 487.9,239.5" fill="#3e26a8"/>
<polygon points="446.2,192.8 449.9,203.4 454.1,198.7 450.5,188.5" fill="#12b1d6"/>
<polygon points="567.1,222.8 570.8,224.6 575.0,222.0 571.3,220.3" fill="#4758f8"/>
<polygon points="535.4,227.9 539.1,228.9 543.3,226.4 539.6,225.3" fill="#4747eb"/>
<polygon points="440.5,142.7 444.2,148.1 448.4,147.0 444.7,142.1" fill="#fec934"/>
<polygon points="444.2,148.1 447.9,155.0 452.1,153.3 448.4,147.0" fill="#f8ba3d"/>
<polygon points="559.2,223.8 562.8,225.4 567.1,222.8 563.4,221.3" fill="#4852f4"/>
<polygon points="543.3,226.4 547.0,227.6 551.2,225.0 547.6,223.9" fill="#484df0"/>
<polygon points="551.2,225.0 554.9,226.4 559.2,223.8 555.5,222.5" fill="#484df0"/>
<polygon points="491.5,240.5 495.2,241.1 499.5,238.3 495.8,237.4" fill="#3e26a8"/>
<polygon points="447.3,165.3 451.0,174.7 455.2,171.6 451.6,162.9" fill="#8fcb4e"/>
<polygon points="446.8,178.1 450.5,188.5 454.7,184.5 451.0,174.7" fill="#37c897"/>
<polygon points="602.5,222.1 606.2,224.4 610.4,221.7 606.7,219.5" fill="#465efb"/>
<polygon points="499.5,238.3 503.1,238.9 507.4,236.2 503.7,235.4" fill="#422ec0"/>
<polygon points="442.0,197.4 445.7,208.4 449.9,203.4 446.2,192.8" fill="#18addb"/>
<polygon points="594.5,222.7 598.2,224.8 602.5,222.1 598.8,220.1" fill="#465efb"/>
<polygon points="471.5,248.6 475.1,249.3 479.4,246.1 475.7,245.0" fill="#3e26a8"/>
<polygon points="428.9,136.7 432.6,139.1 436.8,138.9 433.1,136.8" fill="#f7dc2a"/>
<polygon points="507.4,236.2 511.1,236.7 515.3,234.0 511.6,233.4" fill="#4332cb"/>
<polygon points="586.6,223.3 590.3,225.4 594.5,222.7 590.9,220.7" fill="#4758f8"/>
<polygon points="578.7,223.9 582.4,225.9 586.6,223.3 582.9,221.3" fill="#4758f8"/>
<polygon points="515.3,234.0 519.0,234.7 523.2,232.1 519.5,231.4" fill="#4537d5"/>
<polygon points="479.4,246.1 483.1,246.6 487.3,243.6 483.6,242.8" fill="#3e26a8"/>
<polygon points="570.8,224.6 574.5,226.5 578.7,223.9 575.0,222.0" fill="#4758f8"/>
<polygon points="443.6,156.8 447.3,165.3 451.6,162.9 447.9,155.0" fill="#d1bf27"/>
<polygon points="523.2,232.1 526.9,233.0 531.2,230.4 527.5,229.5" fill="#4741e5"/>
<polygon points="562.8,225.4 566.5,227.2 570.8,224.6 567.1,222.8" fill="#4758f8"/>
<polygon points="442.5,181.8 446.2,192.8 450.5,188.5 446.8,178.1" fill="#31c69f"/>
<polygon points="531.2,230.4 534.8,231.4 539.1,228.9 535.4,227.9" fill="#4747eb"/>
<polygon points="554.9,226.4 558.6,228.0 562.8,225.4 559.2,223.8" fill="#4852f4"/>
<polygon points="539.1,228.9 542.8,230.1 547.0,227.6 543.3,226.4" fill="#484df0"/>
<polygon points="547.0,227.6 550.7,228.9 554.9,226.4 551.2,225.0" fill="#4852f4"/>
<polygon points="487.3,243.6 491.0,244.0 495.2,241.1 491.5,240.5" fill="#3e26a8"/>
<polygon points="443.1,168.1 446.8,178.1 451.0,174.7 447.3,165.3" fill="#8fcb4e"/>
<polygon points="432.6,139.1 436.3,143.3 440.5,142.7 436.8,138.9" fill="#f7dc2a"/>
<polygon points="421.0,135.8 424.7,136.5 428.9,136.7 425.2,136.2" fill="#f5e327"/>
<polygon points="439.9,149.3 443.6,156.8 447.9,155.0 444.2,148.1" fill="#febe3c"/>
<polygon points="405.1,139.7 408.8,136.2 413.0,136.7 409.4,140.1" fill="#fad62d"/>
<polygon points="598.2,224.8 601.9,227.0 606.2,224.4 602.5,222.1" fill="#465efb"/>
<polygon points="495.2,241.1 498.9,241.5 503.1,238.9 499.5,238.3" fill="#402ab4"/>
<polygon points="436.3,143.3 439.9,149.3 444.2,148.1 440.5,142.7" fill="#fccf30"/>
<polygon points="413.0,136.7 416.7,135.4 421.0,135.8 417.3,137.2" fill="#f5e327"/>
<polygon points="590.3,225.4 594.0,227.5 598.2,224.8 594.5,222.7" fill="#465efb"/>
<polygon points="503.1,238.9 506.8,239.3 511.1,236.7 507.4,236.2" fill="#4332cb"/>
<polygon points="582.4,225.9 586.1,228.0 590.3,225.4 586.6,223.3" fill="#4758f8"/>
<polygon points="438.3,185.9 442.0,197.4 446.2,192.8 442.5,181.8" fill="#2cc4a7"/>
<polygon points="475.1,249.3 478.8,249.5 483.1,246.6 479.4,246.1" fill="#3e26a8"/>
<polygon points="574.5,226.5 578.1,228.6 582.4,225.9 578.7,223.9" fill="#4758f8"/>
<polygon points="511.1,236.7 514.8,237.3 519.0,234.7 515.3,234.0" fill="#463cde"/>
<polygon points="566.5,227.2 570.2,229.2 574.5,226.5 570.8,224.6" fill="#4758f8"/>
<polygon points="519.0,234.7 522.7,235.5 526.9,233.0 523.2,232.1" fill="#4741e5"/>
<polygon points="439.4,158.8 443.1,168.1 447.3,165.3 443.6,156.8" fill="#dcbd29"/>
<polygon points="558.6,228.0 562.3,229.8 566.5,227.2 562.8,225.4" fill="#4758f8"/>
<polygon points="526.9,233.0 530.6,234.0 534.8,231.4 531.2,230.4" fill="#4747eb"/>
<polygon points="483.1,246.6 486.7,246.7 491.0,244.0 487.3,243.6" fill="#3e26a8"/>
<polygon points="438.8,171.1 442.5,181.8 446.8,178.1 443.1,168.1" fill="#8fcb4e"/>
<polygon points="550.7,228.9 554.4,230.6 558.6,228.0 554.9,226.4" fill="#4852f4"/>
<polygon points="534.8,231.4 538.5,232.6 542.8,230.1 539.1,228.9" fill="#484df0"/>
<polygon points="542.8,230.1 546.4,231.5 550.7,228.9 547.0,227.6" fill="#4852f4"/>
<polygon points="424.7,136.5 428.3,139.2 432.6,139.1 428.9,136.7" fill="#f6ef20"/>
<polygon points="594.0,227.5 597.7,229.7 601.9,227.0 598.2,224.8" fill="#465efb"/>
<polygon points="491.0,244.0 494.7,244.2 498.9,241.5 495.2,241.1" fill="#402ab4"/>
<polygon points="586.1,228.0 589.8,230.1 594.0,227.5 590.3,225.4" fill="#465efb"/>
<polygon points="435.7,150.6 439.4,158.8 443.6,156.8 439.9,149.3" fill="#fec338"/>
<polygon points="498.9,241.5 502.6,241.9 506.8,239.3 503.1,238.9" fill="#4332cb"/>
<polygon points="578.1,228.6 581.8,230.7 586.1,228.0 582.4,225.9" fill="#465efb"/>
<polygon points="428.3,139.2 432.0,144.0 436.3,143.3 432.6,139.1" fill="#f5e924"/>
<polygon points="570.2,229.2 573.9,231.2 578.1,228.6 574.5,226.5" fill="#4758f8"/>
<polygon points="432.0,144.0 435.7,150.6 439.9,149.3 436.3,143.3" fill="#f7dc2a"/>
<polygon points="506.8,239.3 510.5,239.8 514.8,237.3 511.1,236.7" fill="#463cde"/>
<polygon points="434.6,174.4 438.3,185.9 442.5,181.8 438.8,171.1" fill="#81cc59"/>
<polygon points="416.7,135.4 420.4,136.3 424.7,136.5 421.0,135.8" fill="#f7f51b"/>
<polygon points="562.3,229.8 566.0,231.8 570.2,229.2 566.5,227.2" fill="#4758f8"/>
<polygon points="514.8,237.3 518.4,238.0 522.7,235.5 519.0,234.7" fill="#4741e5"/>
<polygon points="435.2,161.0 438.8,171.1 443.1,168.1 439.4,158.8" fill="#dcbd29"/>
<polygon points="478.8,249.5 482.5,249.3 486.7,246.7 483.1,246.6" fill="#3e26a8"/>
<polygon points="554.4,230.6 558.1,232.4 562.3,229.8 558.6,228.0" fill="#4758f8"/>
<polygon points="522.7,235.5 526.4,236.5 530.6,234.0 526.9,233.0" fill="#4747eb"/>
<polygon points="546.4,231.5 550.1,233.2 554.4,230.6 550.7,228.9" fill="#4758f8"/>
<polygon points="530.6,234.0 534.3,235.2 538.5,232.6 534.8,231.4" fill="#484df0"/>
<polygon points="538.5,232.6 542.2,234.1 546.4,231.5 542.8,230.1" fill="#4852f4"/>
<polygon points="408.8,136.2 412.5,134.9 416.7,135.4 413.0,136.7" fill="#f7f51b"/>
<polygon points="589.8,230.1 593.4,232.4 597.7,229.7 594.0,227.5" fill="#465efb"/>
<polygon points="486.7,246.7 490.4,246.7 494.7,244.2 491.0,244.0" fill="#402ab4"/>
<polygon points="581.8,230.7 585.5,232.8 589.8,230.1 586.1,228.0" fill="#465efb"/>
<polygon points="494.7,244.2 498.4,244.4 502.6,241.9 498.9,241.5" fill="#4332cb"/>
<polygon points="573.9,231.2 577.6,233.3 581.8,230.7 578.1,228.6" fill="#465efb"/>
<polygon points="431.5,152.1 435.2,161.0 439.4,158.8 435.7,150.6" fill="#fec934"/>
<polygon points="566.0,231.8 569.7,233.9 573.9,231.2 570.2,229.2" fill="#4758f8"/>
<polygon points="420.4,136.3 424.1,139.5 428.3,139.2 424.7,136.5" fill="#f9fb15"/>
<polygon points="502.6,241.9 506.3,242.3 510.5,239.8 506.8,239.3" fill="#463cde"/>
<polygon points="558.1,232.4 561.7,234.4 566.0,231.8 562.3,229.8" fill="#4758f8"/>
<polygon points="430.9,163.5 434.6,174.4 438.8,171.1 435.2,161.0" fill="#e6bb2d"/>
<polygon points="510.5,239.8 514.2,240.5 518.4,238.0 514.8,237.3" fill="#4741e5"/>
<polygon points="550.1,233.2 553.8,235.0 558.1,232.4 554.4,230.6" fill="#4758f8"/>
<polygon points="518.4,238.0 522.1,239.0 526.4,236.5 522.7,235.5" fill="#4747eb"/>
<polygon points="542.2,234.1 545.9,235.7 550.1,233.2 546.4,231.5" fill="#4758f8"/>
<polygon points="526.4,236.5 530.0,237.7 534.3,235.2 530.6,234.0" fill="#484df0"/>
<polygon points="534.3,235.2 538.0,236.6 542.2,234.1 538.5,232.6" fill="#4852f4"/>
<polygon points="427.8,144.8 431.5,152.1 435.7,150.6 432.0,144.0" fill="#f5e924"/>
<polygon points="424.1,139.5 427.8,144.8 432.0,144.0 428.3,139.2" fill="#f9fb15"/>
<polygon points="585.5,232.8 589.2,235.1 593.4,232.4 589.8,230.1" fill="#465efb"/>
<polygon points="482.5,249.3 486.2,249.2 490.4,246.7 486.7,246.7" fill="#402ab4"/>
<polygon points="577.6,233.3 581.3,235.5 585.5,232.8 581.8,230.7" fill="#465efb"/>
<polygon points="412.5,134.9 416.2,136.2 420.4,136.3 416.7,135.4" fill="#f9fb15"/>
<polygon points="490.4,246.7 494.1,246.9 498.4,244.4 494.7,244.2" fill="#4332cb"/>
<polygon points="569.7,233.9 573.4,236.0 577.6,233.3 573.9,231.2" fill="#465efb"/>
<polygon points="561.7,234.4 565.4,236.5 569.7,233.9 566.0,231.8" fill="#4758f8"/>
<polygon points="498.4,244.4 502.0,244.8 506.3,242.3 502.6,241.9" fill="#463cde"/>
<polygon points="427.2,153.8 430.9,163.5 435.2,161.0 431.5,152.1" fill="#fccf30"/>
<polygon points="553.8,235.0 557.5,237.1 561.7,234.4 558.1,232.4" fill="#4758f8"/>
<polygon points="506.3,242.3 510.0,243.0 514.2,240.5 510.5,239.8" fill="#4741e5"/>
<polygon points="545.9,235.7 549.6,237.7 553.8,235.0 550.1,233.2" fill="#4758f8"/>
<polygon points="538.0,236.6 541.7,238.3 545.9,235.7 542.2,234.1" fill="#4758f8"/>
<polygon points="514.2,240.5 517.9,241.5 522.1,239.0 518.4,238.0" fill="#4747eb"/>
<polygon points="530.0,237.7 533.7,239.2 538.0,236.6 534.3,235.2" fill="#4852f4"/>
<polygon points="522.1,239.0 525.8,240.3 530.0,237.7 526.4,236.5" fill="#484df0"/>
<polygon points="581.3,235.5 585.0,237.7 589.2,235.1 585.5,232.8" fill="#465efb"/>
<polygon points="416.2,136.2 419.9,139.8 424.1,139.5 420.4,136.3" fill="#f9fb15"/>
<polygon points="573.4,236.0 577.0,238.2 581.3,235.5 577.6,233.3" fill="#465efb"/>
<polygon points="423.6,145.8 427.2,153.8 431.5,152.1 427.8,144.8" fill="#f6ef20"/>
<polygon points="565.4,236.5 569.1,238.6 573.4,236.0 569.7,233.9" fill="#465efb"/>
<polygon points="486.2,249.2 489.9,249.3 494.1,246.9 490.4,246.7" fill="#4332cb"/>
<polygon points="419.9,139.8 423.6,145.8 427.8,144.8 424.1,139.5" fill="#f9fb15"/>
<polygon points="557.5,237.1 561.2,239.2 565.4,236.5 561.7,234.4" fill="#465efb"/>
<polygon points="494.1,246.9 497.8,247.3 502.0,244.8 498.4,244.4" fill="#463cde"/>
<polygon points="549.6,237.7 553.3,239.7 557.5,237.1 553.8,235.0" fill="#4758f8"/>
<polygon points="541.7,238.3 545.3,240.3 549.6,237.7 545.9,235.7" fill="#4758f8"/>
<polygon points="502.0,244.8 505.7,245.5 510.0,243.0 506.3,242.3" fill="#4741e5"/>
<polygon points="533.7,239.2 537.4,240.9 541.7,238.3 538.0,236.6" fill="#4758f8"/>
<polygon points="510.0,243.0 513.6,244.0 517.9,241.5 514.2,240.5" fill="#484df0"/>
<polygon points="525.8,240.3 529.5,241.8 533.7,239.2 530.0,237.7" fill="#4852f4"/>
<polygon points="517.9,241.5 521.6,242.8 525.8,240.3 522.1,239.0" fill="#4852f4"/>
<polygon points="577.0,238.2 580.7,240.4 585.0,237.7 581.3,235.5" fill="#465efb"/>
<polygon points="569.1,238.6 572.8,240.8 577.0,238.2 573.4,236.0" fill="#465efb"/>
<polygon points="561.2,239.2 564.9,241.3 569.1,238.6 565.4,236.5" fill="#465efb"/>
<polygon points="553.3,239.7 557.0,241.8 561.2,239.2 557.5,237.1" fill="#465efb"/>
<polygon points="545.3,240.3 549.0,242.3 553.3,239.7 549.6,237.7" fill="#4758f8"/>
<polygon points="489.9,249.3 493.6,249.7 497.8,247.3 494.1,246.9" fill="#463cde"/>
<polygon points="537.4,240.9 541.1,242.9 545.3,240.3 541.7,238.3" fill="#4758f8"/>
<polygon points="497.8,247.3 501.5,248.0 505.7,245.5 502.0,244.8" fill="#4747eb"/>
<polygon points="529.5,241.8 533.2,243.6 537.4,240.9 533.7,239.2" fill="#4758f8"/>
<polygon points="505.7,245.5 509.4,246.5 513.6,244.0 510.0,243.0" fill="#484df0"/>
<polygon points="521.6,242.8 525.3,244.4 529.5,241.8 525.8,240.3" fill="#4852f4"/>
<polygon points="513.6,244.0 517.3,245.4 521.6,242.8 517.9,241.5" fill="#4852f4"/>
<polygon points="572.8,240.8 576.5,243.1 580.7,240.4 577.0,238.2" fill="#465efb"/>
<polygon points="564.9,241.3 568.6,243.5 572.8,240.8 569.1,238.6" fill="#465efb"/>
<polygon points="557.0,241.8 560.6,244.0 564.9,241.3 561.2,239.2" fill="#465efb"/>
<polygon points="549.0,242.3 552.7,244.5 557.0,241.8 553.3,239.7" fill="#465efb"/>
<polygon points="541.1,242.9 544.8,245.0 549.0,242.3 545.3,240.3" fill="#465efb"/>
<polygon points="533.2,243.6 536.9,245.5 541.1,242.9 537.4,240.9" fill="#4758f8"/>
<polygon points="493.6,249.7 497.2,250.4 501.5,248.0 497.8,247.3" fill="#4747eb"/>
<polygon points="525.3,244.4 528.9,246.2 533.2,243.6 529.5,241.8" fill="#4758f8"/>
<polygon points="501.5,248.0 505.2,249.0 509.4,246.5 505.7,245.5" fill="#484df0"/>
<polygon points="517.3,245.4 521.0,246.9 525.3,244.4 521.6,242.8" fill="#4758f8"/>
<polygon points="509.4,246.5 513.1,247.9 517.3,245.4 513.6,244.0" fill="#4852f4"/>
<polygon points="568.6,243.5 572.2,245.8 576.5,243.1 572.8,240.8" fill="#465efb"/>
<polygon points="560.6,244.0 564.3,246.2 568.6,243.5 564.9,241.3" fill="#465efb"/>
<polygon points="552.7,244.5 556.4,246.7 560.6,244.0 557.0,241.8" fill="#465efb"/>
<polygon points="544.8,245.0 548.5,247.1 552.7,244.5 549.0,242.3" fill="#465efb"/>
<polygon points="536.9,245.5 540.6,247.6 544.8,245.0 541.1,242.9" fill="#465efb"/>
<polygon points="528.9,246.2 532.6,248.2 536.9,245.5 533.2,243.6" fill="#4758f8"/>
<polygon points="521.0,246.9 524.7,248.8 528.9,246.2 525.3,244.4" fill="#4758f8"/>
<polygon points="513.1,247.9 516.8,249.5 521.0,246.9 517.3,245.4" fill="#4758f8"/>
<polygon points="497.2,250.4 500.9,251.5 505.2,249.0 501.5,248.0" fill="#484df0"/>
<polygon points="564.3,246.2 568.0,248.5 572.2,245.8 568.6,243.5" fill="#465efb"/>
<polygon points="505.2,249.0 508.9,250.4 513.1,247.9 509.4,246.5" fill="#4852f4"/>
<polygon points="556.4,246.7 560.1,248.9 564.3,246.2 560.6,244.0" fill="#465efb"/>
<polygon points="548.5,247.1 552.2,249.3 556.4,246.7 552.7,244.5" fill="#465efb"/>
<polygon points="540.6,247.6 544.2,249.8 548.5,247.1 544.8,245.0" fill="#465efb"/>
<polygon points="532.6,248.2 536.3,250.3 540.6,247.6 536.9,245.5" fill="#465efb"/>
<polygon points="524.7,248.8 528.4,250.8 532.6,248.2 528.9,246.2" fill="#4758f8"/>
<polygon points="516.8,249.5 520.5,251.4 524.7,248.8 521.0,246.9" fill="#4758f8"/>
<polygon points="508.9,250.4 512.5,252.1 516.8,249.5 513.1,247.9" fill="#4758f8"/>
<polygon points="560.1,248.9 563.8,251.2 568.0,248.5 564.3,246.2" fill="#465efb"/>
<polygon points="500.9,251.5 504.6,253.0 508.9,250.4 505.2,249.0" fill="#4852f4"/>
<polygon points="552.2,249.3 555.8,251.6 560.1,248.9 556.4,246.7" fill="#465efb"/>
<polygon points="544.2,249.8 547.9,252.0 552.2,249.3 548.5,247.1" fill="#465efb"/>
<polygon points="536.3,250.3 540.0,252.5 544.2,249.8 540.6,247.6" fill="#465efb"/>
<polygon points="528.4,250.8 532.1,252.9 536.3,250.3 532.6,248.2" fill="#465efb"/>
<polygon points="520.5,251.4 524.2,253.4 528.4,250.8 524.7,248.8" fill="#465efb"/>
<polygon points="512.5,252.1 516.2,254.0 520.5,251.4 516.8,249.5" fill="#4758f8"/>
<polygon points="555.8,251.6 559.5,253.8 563.8,251.2 560.1,248.9" fill="#465efb"/>
<polygon points="504.6,253.0 508.3,254.7 512.5,252.1 508.9,250.4" fill="#4758f8"/>
<polygon points="547.9,252.0 551.6,254.3 555.8,251.6 552.2,249.3" fill="#465efb"/>
<polygon points="540.0,252.5 543.7,254.7 547.9,252.0 544.2,249.8" fill="#465efb"/>
<polygon points="532.1,252.9 535.8,255.1 540.0,252.5 536.3,250.3" fill="#465efb"/>
<polygon points="524.2,253.4 527.8,255.6 532.1,252.9 528.4,250.8" fill="#465efb"/>
<polygon points="516.2,254.0 519.9,256.1 524.2,253.4 520.5,251.4" fill="#465efb"/>
<polygon points="508.3,254.7 512.0,256.6 516.2,254.0 512.5,252.1" fill="#4758f8"/>
<polygon points="551.6,254.3 555.3,256.5 559.5,253.8 555.8,251.6" fill="#465efb"/>
<polygon points="543.7,254.7 547.4,256.9 551.6,254.3 547.9,252.0" fill="#465efb"/>
<polygon points="535.8,255.1 539.4,257.4 543.7,254.7 540.0,252.5" fill="#465efb"/>
<polygon points="527.8,255.6 531.5,257.8 535.8,255.1 532.1,252.9" fill="#465efb"/>
<polygon points="519.9,256.1 523.6,258.2 527.8,255.6 524.2,253.4" fill="#465efb"/>
<polygon points="512.0,256.6 515.7,258.7 519.9,256.1 516.2,254.0" fill="#465efb"/>
<polygon points="547.4,256.9 551.1,259.2 555.3,256.5 551.6,254.3" fill="#465efb"/>
<polygon points="539.4,257.4 543.1,259.6 547.4,256.9 543.7,254.7" fill="#465efb"/>
<polygon points="531.5,257.8 535.2,260.0 539.4,257.4 535.8,255.1" fill="#465efb"/>
<polygon points="523.6,258.2 527.3,260.5 531.5,257.8 527.8,255.6" fill="#465efb"/>
<polygon points="515.7,258.7 519.4,260.9 523.6,258.2 519.9,256.1" fill="#465efb"/>
<polygon points="543.1,259.6 546.8,261.9 551.1,259.2 547.4,256.9" fill="#465efb"/>
<polygon points="535.2,260.0 538.9,262.3 543.1,259.6 539.4,257.4" fill="#465efb"/>
<polygon points="527.3,260.5 531.0,262.7 535.2,260.0 531.5,257.8" fill="#465efb"/>
<polygon points="519.4,260.9 523.0,263.1 527.3,260.5 523.6,258.2" fill="#465efb"/>
<polygon points="538.9,262.3 542.6,264.6 546.8,261.9 543.1,259.6" fill="#465efb"/>
<polygon points="531.0,262.7 534.7,265.0 538.9,262.3 535.2,260.0" fill="#465efb"/>
<polygon points="523.0,263.1 526.7,265.4 531.0,262.7 527.3,260.5" fill="#465efb"/>
<polygon points="534.7,265.0 538.3,267.3 542.6,264.6 538.9,262.3" fill="#465efb"/>
<polygon points="526.7,265.4 530.4,267.7 534.7,265.0 531.0,262.7" fill="#465efb"/>
<polygon points="530.4,267.7 534.1,270.0 538.3,267.3 534.7,265.0" fill="#465efb"/>
</g>
<g stroke="#262626" stroke-width="0.9">
<line x1="16.40" y1="213.30" x2="164.50" y2="303.60"/>
<line x1="164.50" y1="303.60" x2="308.10" y2="210.50"/>
<line x1="16.40" y1="213.30" x2="16.40" y2="115.00"/>
<line x1="16.40" y1="213.30" x2="12.79" y2="215.64"/>
<line x1="164.50" y1="303.60" x2="168.17" y2="305.84"/>
<line x1="46.02" y1="231.36" x2="42.41" y2="233.70"/>
<line x1="193.22" y1="284.98" x2="196.89" y2="287.22"/>
<line x1="75.64" y1="249.42" x2="72.03" y2="251.76"/>
<line x1="221.94" y1="266.36" x2="225.61" y2="268.60"/>
<line x1="105.26" y1="267.48" x2="101.65" y2="269.82"/>
<line x1="250.66" y1="247.74" x2="254.33" y2="249.98"/>
<line x1="134.88" y1="285.54" x2="131.27" y2="287.88"/>
<line x1="279.38" y1="229.12" x2="283.05" y2="231.36"/>
<line x1="164.50" y1="303.60" x2="160.89" y2="305.94"/>
<line x1="308.10" y1="210.50" x2="311.77" y2="212.74"/>
<line x1="16.40" y1="213.30" x2="12.73" y2="211.06"/>
<line x1="16.40" y1="164.15" x2="12.73" y2="161.91"/>
<line x1="16.40" y1="115.00" x2="12.73" y2="112.76"/>
<line x1="386.70" y1="214.10" x2="534.10" y2="303.60"/>
<line x1="534.10" y1="303.60" x2="678.20" y2="212.20"/>
<line x1="386.70" y1="214.10" x2="386.70" y2="113.48"/>
<line x1="386.70" y1="214.10" x2="383.07" y2="216.40"/>
<line x1="534.10" y1="303.60" x2="537.78" y2="305.83"/>
<line x1="416.18" y1="232.00" x2="412.55" y2="234.30"/>
<line x1="562.92" y1="285.32" x2="566.60" y2="287.55"/>
<line x1="445.66" y1="249.90" x2="442.03" y2="252.20"/>
<line x1="591.74" y1="267.04" x2="595.42" y2="269.27"/>
<line x1="475.14" y1="267.80" x2="471.51" y2="270.10"/>
<line x1="620.56" y1="248.76" x2="624.24" y2="250.99"/>
<line x1="504.62" y1="285.70" x2="500.99" y2="288.00"/>
<line x1="649.38" y1="230.48" x2="653.06" y2="232.71"/>
<line x1="534.10" y1="303.60" x2="530.47" y2="305.90"/>
<line x1="678.20" y1="212.20" x2="681.88" y2="214.43"/>
<line x1="386.70" y1="214.10" x2="383.02" y2="211.87"/>
<line x1="386.70" y1="180.56" x2="383.02" y2="178.33"/>
<line x1="386.70" y1="147.02" x2="383.02" y2="144.79"/>
<line x1="386.70" y1="113.48" x2="383.02" y2="111.25"/>
</g>
<text transform="translate(12.40,13.80) scale(1.150,1.000)" font-family="&quot;Liberation Serif&quot;, serif" font-size="17.5" font-style="italic" fill="#000" stroke="#fff" stroke-width="0.2">Re</text>
<text transform="translate(33.12,14.53) scale(1.044,1.111)" font-family="&quot;Liberation Serif&quot;, serif" font-size="17.5" fill="#000" stroke="#fff" stroke-width="0.2">(</text>
<text transform="translate(38.67,13.80) scale(1.063,1.000)" font-family="&quot;Liberation Serif&quot;, serif" font-size="17.5" font-style="italic" fill="#000" stroke="#fff" stroke-width="0.2">σ</text>
<text transform="translate(48.57,16.40) scale(1.070,1.000)" font-family="&quot;Liberation Serif&quot;, serif" font-size="12.5" font-style="italic" fill="#000">aχH</text>
<text transform="translate(83.43,13.80) scale(1.150,1.000)" font-family="&quot;Liberation Serif&quot;, serif" font-size="17.5" font-style="italic" fill="#000" stroke="#fff" stroke-width="0.2">κ</text>
<text transform="translate(94.14,14.53) scale(0.911,1.111)" font-family="&quot;Liberation Serif&quot;, serif" font-size="17.5" fill="#000" stroke="#fff" stroke-width="0.2">)</text>
<text transform="translate(100.02,13.80) scale(1.040,1.000)" font-family="&quot;Liberation Serif&quot;, serif" font-size="17.5" fill="#000" stroke="#fff" stroke-width="0.2">,</text>
<text transform="translate(112.63,13.80) scale(1.150,1.000)" font-family="&quot;Liberation Serif&quot;, serif" font-size="17.5" font-style="italic" fill="#000" stroke="#fff" stroke-width="0.2">κ</text>
<text transform="translate(122.60,13.80) scale(1.067,1.000)" font-family="&quot;Liberation Serif&quot;, serif" font-size="17.5" font-style="italic" fill="#000" stroke="#fff" stroke-width="0.2">μ</text>
<text transform="translate(131.46,15.80) scale(1.150,1.000)" font-family="&quot;Liberation Serif&quot;, serif" font-size="12.5" fill="#000">5</text>
<text transform="translate(161.85,13.80)" font-family="&quot;Liberation Serif&quot;, serif" font-size="17.5" fill="#000" stroke="#fff" stroke-width="0.2">0.0625</text>
<text transform="translate(210.28,13.80) scale(0.960,1.000)" font-family="&quot;Liberation Serif&quot;, serif" font-size="17.5" fill="#000" stroke="#fff" stroke-width="0.2">,</text>
<text transform="translate(222.93,13.80) scale(1.150,1.000)" font-family="&quot;Liberation Serif&quot;, serif" font-size="17.5" font-style="italic" fill="#000" stroke="#fff" stroke-width="0.2">κ</text>
<text transform="translate(232.51,13.80) scale(1.150,1.000)" font-family="&quot;Liberation Serif&quot;, serif" font-size="17.5" font-style="italic" fill="#000" stroke="#fff" stroke-width="0.2">μ</text>
<text transform="translate(264.74,13.80) scale(1.012,1.000)" font-family="&quot;Liberation Serif&quot;, serif" font-size="17.5" fill="#000" stroke="#fff" stroke-width="0.2">0.0625</text>
<text transform="translate(382.24,13.80) scale(1.150,1.000)" font-family="&quot;Liberation Serif&quot;, serif" font-size="17.5" font-style="italic" fill="#000" stroke="#fff" stroke-width="0.2">Im</text>
<text transform="translate(404.82,14.53) scale(1.044,1.111)" font-family="&quot;Liberation Serif&quot;, serif" font-size="17.5" fill="#000" stroke="#fff" stroke-width="0.2">(</text>
<text transform="translate(410.37,13.80) scale(1.063,1.000)" font-family="&quot;Liberation Serif&quot;, serif" font-size="17.5" font-style="italic" fill="#000" stroke="#fff" stroke-width="0.2">σ</text>
<text transform="translate(420.27,16.40) scale(1.070,1.000)" font-family="&quot;Liberation Serif&quot;, serif" font-size="12.5" font-style="italic" fill="#000">aχH</text>
<text transform="translate(455.13,13.80) scale(1.150,1.000)" font-family="&quot;Liberation Serif&quot;, serif" font-size="17.5" font-style="italic" fill="#000" stroke="#fff" stroke-width="0.2">κ</text>
<text transform="translate(465.84,14.53) scale(0.911,1.111)" font-family="&quot;Liberation Serif&quot;, serif" font-size="17.5" fill="#000" stroke="#fff" stroke-width="0.2">)</text>
<text transform="translate(471.72,13.80) scale(1.040,1.000)" font-family="&quot;Liberation Serif&quot;, serif" font-size="17.5" fill="#000" stroke="#fff" stroke-width="0.2">,</text>
<text transform="translate(484.33,13.80) scale(1.150,1.000)" font-family="&quot;Liberation Serif&quot;, serif" font-size="17.5" font-style="italic" fill="#000" stroke="#fff" stroke-width="0.2">κ</text>
<text transform="translate(494.30,13.80) scale(1.067,1.000)" font-family="&quot;Liberation Serif&quot;, serif" font-size="17.5" font-style="italic" fill="#000" stroke="#fff" stroke-width="0.2">μ</text>
<text transform="translate(503.16,15.80) scale(1.150,1.000)" font-family="&quot;Liberation Serif&quot;, serif" font-size="12.5" fill="#000">5</text>
<text transform="translate(533.55,13.80)" font-family="&quot;Liberation Serif&quot;, serif" font-size="17.5" fill="#000" stroke="#fff" stroke-width="0.2">0.0625</text>
<text transform="translate(581.98,13.80) scale(0.960,1.000)" font-family="&quot;Liberation Serif&quot;, serif" font-size="17.5" fill="#000" stroke="#fff" stroke-width="0.2">,</text>
<text transform="translate(594.63,13.80) scale(1.150,1.000)" font-family="&quot;Liberation Serif&quot;, serif" font-size="17.5" font-style="italic" fill="#000" stroke="#fff" stroke-width="0.2">κ</text>
<text transform="translate(604.21,13.80) scale(1.150,1.000)" font-family="&quot;Liberation Serif&quot;, serif" font-size="17.5" font-style="italic" fill="#000" stroke="#fff" stroke-width="0.2">μ</text>
<text transform="translate(636.44,13.80) scale(1.012,1.000)" font-family="&quot;Liberation Serif&quot;, serif" font-size="17.5" fill="#000" stroke="#fff" stroke-width="0.2">0.0625</text>
<text transform="translate(3.37,227.28)" font-family="&quot;Liberation Sans&quot;, sans-serif" font-size="11" fill="#262626">0</text>
<text transform="translate(170.18,316.98)" font-family="&quot;Liberation Sans&quot;, sans-serif" font-size="11" fill="#262626">0</text>
<text transform="translate(32.99,245.21)" font-family="&quot;Liberation Sans&quot;, sans-serif" font-size="11" fill="#262626">1</text>
<text transform="translate(198.62,298.23)" font-family="&quot;Liberation Sans&quot;, sans-serif" font-size="11" fill="#262626">1</text>
<text transform="translate(62.74,263.40)" font-family="&quot;Liberation Sans&quot;, sans-serif" font-size="11" fill="#262626">2</text>
<text transform="translate(227.18,279.74)" font-family="&quot;Liberation Sans&quot;, sans-serif" font-size="11" fill="#262626">2</text>
<text transform="translate(92.23,281.33)" font-family="&quot;Liberation Sans&quot;, sans-serif" font-size="11" fill="#262626">3</text>
<text transform="translate(255.50,260.99)" font-family="&quot;Liberation Sans&quot;, sans-serif" font-size="11" fill="#262626">3</text>
<text transform="translate(121.98,299.39)" font-family="&quot;Liberation Sans&quot;, sans-serif" font-size="11" fill="#262626">4</text>
<text transform="translate(284.06,242.37)" font-family="&quot;Liberation Sans&quot;, sans-serif" font-size="11" fill="#262626">4</text>
<text transform="translate(151.47,317.45)" font-family="&quot;Liberation Sans&quot;, sans-serif" font-size="11" fill="#262626">5</text>
<text transform="translate(312.38,223.75)" font-family="&quot;Liberation Sans&quot;, sans-serif" font-size="11" fill="#262626">5</text>
<text transform="translate(0.15,212.75)" font-family="&quot;Liberation Sans&quot;, sans-serif" font-size="11" fill="#262626">-5</text>
<text transform="translate(3.65,163.72)" font-family="&quot;Liberation Sans&quot;, sans-serif" font-size="11" fill="#262626">0</text>
<text transform="translate(3.65,114.45)" font-family="&quot;Liberation Sans&quot;, sans-serif" font-size="11" fill="#262626">5</text>
<text transform="translate(370.18,228.07)" font-family="&quot;Liberation Sans&quot;, sans-serif" font-size="11" fill="#262626">0</text>
<text transform="translate(535.77,316.98)" font-family="&quot;Liberation Sans&quot;, sans-serif" font-size="11" fill="#262626">0</text>
<text transform="translate(399.66,245.85)" font-family="&quot;Liberation Sans&quot;, sans-serif" font-size="11" fill="#262626">1</text>
<text transform="translate(564.32,298.57)" font-family="&quot;Liberation Sans&quot;, sans-serif" font-size="11" fill="#262626">1</text>
<text transform="translate(429.26,263.88)" font-family="&quot;Liberation Sans&quot;, sans-serif" font-size="11" fill="#262626">2</text>
<text transform="translate(592.98,280.42)" font-family="&quot;Liberation Sans&quot;, sans-serif" font-size="11" fill="#262626">2</text>
<text transform="translate(458.62,281.65)" font-family="&quot;Liberation Sans&quot;, sans-serif" font-size="11" fill="#262626">3</text>
<text transform="translate(621.39,262.01)" font-family="&quot;Liberation Sans&quot;, sans-serif" font-size="11" fill="#262626">3</text>
<text transform="translate(488.22,299.55)" font-family="&quot;Liberation Sans&quot;, sans-serif" font-size="11" fill="#262626">4</text>
<text transform="translate(650.06,243.73)" font-family="&quot;Liberation Sans&quot;, sans-serif" font-size="11" fill="#262626">4</text>
<text transform="translate(517.58,317.45)" font-family="&quot;Liberation Sans&quot;, sans-serif" font-size="11" fill="#262626">5</text>
<text transform="translate(678.48,225.45)" font-family="&quot;Liberation Sans&quot;, sans-serif" font-size="11" fill="#262626">5</text>
<text transform="translate(366.95,213.67)" font-family="&quot;Liberation Sans&quot;, sans-serif" font-size="11" fill="#262626">-2</text>
<text transform="translate(370.45,180.13)" font-family="&quot;Liberation Sans&quot;, sans-serif" font-size="11" fill="#262626">0</text>
<text transform="translate(370.70,146.59)" font-family="&quot;Liberation Sans&quot;, sans-serif" font-size="11" fill="#262626">2</text>
<text transform="translate(370.45,112.93)" font-family="&quot;Liberation Sans&quot;, sans-serif" font-size="11" fill="#262626">4</text>
<text transform="translate(91.99,314.15) scale(1.023,1.000)" font-family="&quot;Liberation Serif&quot;, serif" font-size="17.5" font-style="italic" fill="#000">ω</text>
<text transform="translate(223.47,312.25) scale(1.058,1.000)" font-family="&quot;Liberation Serif&quot;, serif" font-size="17.5" font-style="italic" fill="#000">q</text>
<text transform="translate(232.38,307.30) scale(1.150,1.000)" font-family="&quot;Liberation Serif&quot;, serif" font-size="10.5" fill="#000">2</text>
<text transform="translate(461.99,314.15) scale(1.023,1.000)" font-family="&quot;Liberation Serif&quot;, serif" font-size="17.5" font-style="italic" fill="#000">ω</text>
<text transform="translate(593.47,312.25) scale(1.058,1.000)" font-family="&quot;Liberation Serif&quot;, serif" font-size="17.5" font-style="italic" fill="#000">q</text>
<text transform="translate(602.38,307.30) scale(1.150,1.000)" font-family="&quot;Liberation Serif&quot;, serif" font-size="10.5" fill="#000">2</text>
<line x1="79.60" y1="2.6" x2="74.10" y2="18.4" stroke="#000" stroke-width="0.85"/>
<rect x="145.00" y="7.25" width="11.90" height="1.05" fill="#000"/>
<rect x="145.00" y="10.85" width="11.90" height="1.05" fill="#000"/>
<rect x="248.40" y="7.25" width="11.80" height="1.05" fill="#000"/>
<rect x="248.40" y="10.85" width="11.80" height="1.05" fill="#000"/>
<rect x="125.20" y="3.35" width="5.60" height="1.1" fill="#000"/>
<rect x="235.90" y="3.35" width="5.90" height="1.1" fill="#000"/>
<line x1="451.30" y1="2.6" x2="445.80" y2="18.4" stroke="#000" stroke-width="0.85"/>
<rect x="516.70" y="7.25" width="11.90" height="1.05" fill="#000"/>
<rect x="516.70" y="10.85" width="11.90" height="1.05" fill="#000"/>
<rect x="620.10" y="7.25" width="11.80" height="1.05" fill="#000"/>
<rect x="620.10" y="10.85" width="11.80" height="1.05" fill="#000"/>
<rect x="496.90" y="3.35" width="5.60" height="1.1" fill="#000"/>
<rect x="607.60" y="3.35" width="5.90" height="1.1" fill="#000"/>
</svg>
</body></html>
